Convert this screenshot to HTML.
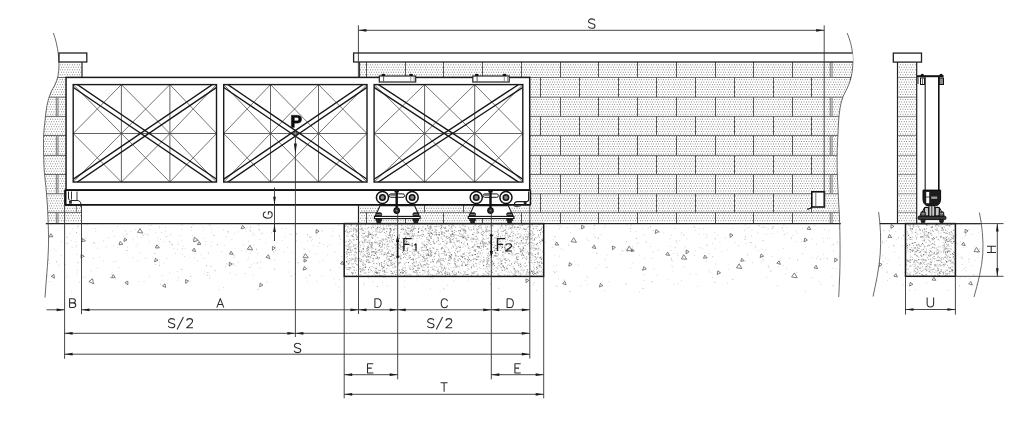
<!DOCTYPE html>
<html><head><meta charset="utf-8"><title>Sliding gate</title>
<style>
html,body{margin:0;padding:0;background:#fff;}
body{width:1025px;height:421px;overflow:hidden;font-family:"Liberation Sans",sans-serif;}
svg{display:block;}
</style></head><body>
<svg width="1025" height="421" viewBox="0 0 1025 421" role="img" aria-label="Sliding cantilever gate installation diagram with dimensions S, S/2, A, B, C, D, E, T, G, H, U and loads P, F1, F2">
<defs>
<pattern id="bk" x="0.3" y="-0.65" width="2.43" height="4.94" patternUnits="userSpaceOnUse">
<rect x="0.2" y="0.8" width="0.8" height="0.8" fill="#5a5a5a"/>
<rect x="1.42" y="3.27" width="0.8" height="0.8" fill="#5a5a5a"/>
</pattern>
<clipPath id="cpL"><path d="M53.4,33 C55.5,39 57.4,46 58.3,54 C59.2,61 59.3,68 58,76 C56.5,83 53.5,87 51,92 C47.5,100 45.8,110 45,121 C43.8,130 43.4,137 43.5,144 C43.5,152 43.7,160 44,167.5 C44.6,176 45.6,184 46.3,191 C47.2,201 47.9,211 48.1,221 C48.5,232 48.8,242 48.3,251 C47.8,262 47,272 46.3,280 C45.8,286 45.4,292 45,297.5 L82,297.5 L82,62 L59,62 Z"/></clipPath>
<clipPath id="cpW"><path d="M847.2,33 C850,40 852,47 852.6,54 C853.3,62 852.8,70 851.2,77 C849,86 845.5,91 843.1,96.5 C840.5,103 839.2,112 838.6,121 C838,135 837,148 837.1,160 C837.2,180 838.6,200 839.4,215 C840.2,235 840.4,265 839.4,282 C839.2,288 839,292 838.7,297 L359.6,297.5 L359.6,32 Z"/></clipPath><clipPath id="cpGL"><path d="M53.4,33 C55.5,39 57.4,46 58.3,54 C59.2,61 59.3,68 58,76 C56.5,83 53.5,87 51,92 C47.5,100 45.8,110 45,121 C43.8,130 43.4,137 43.5,144 C43.5,152 43.7,160 44,167.5 C44.6,176 45.6,184 46.3,191 C47.2,201 47.9,211 48.1,221 C48.5,232 48.8,242 48.3,251 C47.8,262 47,272 46.3,280 C45.8,286 45.4,292 45,297.5 L1025,297.5 L1025,32.5 Z"/></clipPath><clipPath id="cpG" clip-path="url(#cpGL)"><path d="M847.2,33 C850,40 852,47 852.6,54 C853.3,62 852.8,70 851.2,77 C849,86 845.5,91 843.1,96.5 C840.5,103 839.2,112 838.6,121 C838,135 837,148 837.1,160 C837.2,180 838.6,200 839.4,215 C840.2,235 840.4,265 839.4,282 C839.2,288 839,292 838.7,297 L0,297.5 L0,32 Z"/></clipPath>
</defs>

<rect x="0" y="0" width="1025" height="421" fill="#fff"/>
<g clip-path="url(#cpW)">
<path d="M360.273,64.814H860.00M360.273,69.762H860.00M360.273,74.710H860.00M360.273,79.658H860.00M360.273,84.606H860.00M360.273,89.554H860.00M360.273,94.502H860.00M360.273,99.450H860.00M360.273,104.398H860.00M360.273,109.346H860.00M360.273,114.294H860.00M360.273,119.242H860.00M360.273,124.190H860.00M360.273,129.138H860.00M360.273,134.086H860.00M360.273,139.034H860.00M360.273,143.982H860.00M360.273,148.930H860.00M360.273,153.878H860.00M360.273,158.826H860.00M360.273,163.774H860.00M360.273,168.722H860.00M360.273,173.670H860.00M360.273,178.618H860.00M360.273,183.566H860.00M360.273,188.514H860.00M360.273,193.462H860.00M360.273,198.410H860.00M360.273,203.358H860.00M360.273,208.306H860.00M360.273,213.254H860.00M360.273,218.202H860.00" fill="none" stroke="#222" stroke-width="0.72" stroke-dasharray="0.72 1.723"/>
<path d="M361.495,67.288H860.00M361.495,72.236H860.00M361.495,77.184H860.00M361.495,82.132H860.00M361.495,87.080H860.00M361.495,92.028H860.00M361.495,96.976H860.00M361.495,101.924H860.00M361.495,106.872H860.00M361.495,111.820H860.00M361.495,116.768H860.00M361.495,121.716H860.00M361.495,126.664H860.00M361.495,131.612H860.00M361.495,136.560H860.00M361.495,141.508H860.00M361.495,146.456H860.00M361.495,151.404H860.00M361.495,156.352H860.00M361.495,161.300H860.00M361.495,166.248H860.00M361.495,171.196H860.00M361.495,176.144H860.00M361.495,181.092H860.00M361.495,186.040H860.00M361.495,190.988H860.00M361.495,195.936H860.00M361.495,200.884H860.00M361.495,205.832H860.00M361.495,210.780H860.00M361.495,215.728H860.00M361.495,220.676H860.00" fill="none" stroke="#222" stroke-width="0.72" stroke-dasharray="0.72 1.723"/>
<line x1="359.60" y1="77.50" x2="860.00" y2="77.50" stroke="#666" stroke-width="0.95" />
<line x1="359.60" y1="97.20" x2="860.00" y2="97.20" stroke="#666" stroke-width="0.95" />
<line x1="359.60" y1="116.40" x2="860.00" y2="116.40" stroke="#666" stroke-width="0.95" />
<line x1="359.60" y1="135.50" x2="860.00" y2="135.50" stroke="#666" stroke-width="0.95" />
<line x1="359.60" y1="155.40" x2="860.00" y2="155.40" stroke="#666" stroke-width="0.95" />
<line x1="359.60" y1="174.50" x2="860.00" y2="174.50" stroke="#666" stroke-width="0.95" />
<line x1="359.60" y1="193.80" x2="860.00" y2="193.80" stroke="#666" stroke-width="0.95" />
<line x1="359.60" y1="212.40" x2="860.00" y2="212.40" stroke="#666" stroke-width="0.95" />
<line x1="366.50" y1="62.00" x2="366.50" y2="77.50" stroke="#555" stroke-width="1.0" />
<line x1="405.50" y1="62.00" x2="405.50" y2="77.50" stroke="#555" stroke-width="1.0" />
<line x1="443.50" y1="62.00" x2="443.50" y2="77.50" stroke="#555" stroke-width="1.0" />
<line x1="482.50" y1="62.00" x2="482.50" y2="77.50" stroke="#555" stroke-width="1.0" />
<line x1="521.50" y1="62.00" x2="521.50" y2="77.50" stroke="#555" stroke-width="1.0" />
<line x1="560.50" y1="62.00" x2="560.50" y2="77.50" stroke="#555" stroke-width="1.0" />
<line x1="598.50" y1="62.00" x2="598.50" y2="77.50" stroke="#555" stroke-width="1.0" />
<line x1="637.50" y1="62.00" x2="637.50" y2="77.50" stroke="#555" stroke-width="1.0" />
<line x1="676.50" y1="62.00" x2="676.50" y2="77.50" stroke="#555" stroke-width="1.0" />
<line x1="715.50" y1="62.00" x2="715.50" y2="77.50" stroke="#555" stroke-width="1.0" />
<line x1="753.50" y1="62.00" x2="753.50" y2="77.50" stroke="#555" stroke-width="1.0" />
<line x1="792.50" y1="62.00" x2="792.50" y2="77.50" stroke="#555" stroke-width="1.0" />
<line x1="830.26" y1="62.00" x2="830.26" y2="77.50" stroke="#777" stroke-width="1.0" />
<line x1="832.06" y1="62.00" x2="832.06" y2="77.50" stroke="#777" stroke-width="1.0" />
<line x1="385.50" y1="77.50" x2="385.50" y2="97.20" stroke="#555" stroke-width="1.0" />
<line x1="424.50" y1="77.50" x2="424.50" y2="97.20" stroke="#555" stroke-width="1.0" />
<line x1="463.50" y1="77.50" x2="463.50" y2="97.20" stroke="#555" stroke-width="1.0" />
<line x1="502.50" y1="77.50" x2="502.50" y2="97.20" stroke="#555" stroke-width="1.0" />
<line x1="540.50" y1="77.50" x2="540.50" y2="97.20" stroke="#555" stroke-width="1.0" />
<line x1="579.50" y1="77.50" x2="579.50" y2="97.20" stroke="#555" stroke-width="1.0" />
<line x1="618.50" y1="77.50" x2="618.50" y2="97.20" stroke="#555" stroke-width="1.0" />
<line x1="656.50" y1="77.50" x2="656.50" y2="97.20" stroke="#555" stroke-width="1.0" />
<line x1="695.50" y1="77.50" x2="695.50" y2="97.20" stroke="#555" stroke-width="1.0" />
<line x1="734.50" y1="77.50" x2="734.50" y2="97.20" stroke="#555" stroke-width="1.0" />
<line x1="773.50" y1="77.50" x2="773.50" y2="97.20" stroke="#555" stroke-width="1.0" />
<line x1="811.50" y1="77.50" x2="811.50" y2="97.20" stroke="#555" stroke-width="1.0" />
<line x1="850.50" y1="77.50" x2="850.50" y2="97.20" stroke="#555" stroke-width="1.0" />
<line x1="366.50" y1="97.20" x2="366.50" y2="116.40" stroke="#555" stroke-width="1.0" />
<line x1="405.50" y1="97.20" x2="405.50" y2="116.40" stroke="#555" stroke-width="1.0" />
<line x1="443.50" y1="97.20" x2="443.50" y2="116.40" stroke="#555" stroke-width="1.0" />
<line x1="482.50" y1="97.20" x2="482.50" y2="116.40" stroke="#555" stroke-width="1.0" />
<line x1="521.50" y1="97.20" x2="521.50" y2="116.40" stroke="#555" stroke-width="1.0" />
<line x1="560.50" y1="97.20" x2="560.50" y2="116.40" stroke="#555" stroke-width="1.0" />
<line x1="598.50" y1="97.20" x2="598.50" y2="116.40" stroke="#555" stroke-width="1.0" />
<line x1="637.50" y1="97.20" x2="637.50" y2="116.40" stroke="#555" stroke-width="1.0" />
<line x1="676.50" y1="97.20" x2="676.50" y2="116.40" stroke="#555" stroke-width="1.0" />
<line x1="715.50" y1="97.20" x2="715.50" y2="116.40" stroke="#555" stroke-width="1.0" />
<line x1="753.50" y1="97.20" x2="753.50" y2="116.40" stroke="#555" stroke-width="1.0" />
<line x1="792.50" y1="97.20" x2="792.50" y2="116.40" stroke="#555" stroke-width="1.0" />
<line x1="830.26" y1="97.20" x2="830.26" y2="116.40" stroke="#777" stroke-width="1.0" />
<line x1="832.06" y1="97.20" x2="832.06" y2="116.40" stroke="#777" stroke-width="1.0" />
<line x1="385.50" y1="116.40" x2="385.50" y2="135.50" stroke="#555" stroke-width="1.0" />
<line x1="424.50" y1="116.40" x2="424.50" y2="135.50" stroke="#555" stroke-width="1.0" />
<line x1="463.50" y1="116.40" x2="463.50" y2="135.50" stroke="#555" stroke-width="1.0" />
<line x1="502.50" y1="116.40" x2="502.50" y2="135.50" stroke="#555" stroke-width="1.0" />
<line x1="540.50" y1="116.40" x2="540.50" y2="135.50" stroke="#555" stroke-width="1.0" />
<line x1="579.50" y1="116.40" x2="579.50" y2="135.50" stroke="#555" stroke-width="1.0" />
<line x1="618.50" y1="116.40" x2="618.50" y2="135.50" stroke="#555" stroke-width="1.0" />
<line x1="656.50" y1="116.40" x2="656.50" y2="135.50" stroke="#555" stroke-width="1.0" />
<line x1="695.50" y1="116.40" x2="695.50" y2="135.50" stroke="#555" stroke-width="1.0" />
<line x1="734.50" y1="116.40" x2="734.50" y2="135.50" stroke="#555" stroke-width="1.0" />
<line x1="773.50" y1="116.40" x2="773.50" y2="135.50" stroke="#555" stroke-width="1.0" />
<line x1="811.50" y1="116.40" x2="811.50" y2="135.50" stroke="#555" stroke-width="1.0" />
<line x1="850.50" y1="116.40" x2="850.50" y2="135.50" stroke="#555" stroke-width="1.0" />
<line x1="366.50" y1="135.50" x2="366.50" y2="155.40" stroke="#555" stroke-width="1.0" />
<line x1="405.50" y1="135.50" x2="405.50" y2="155.40" stroke="#555" stroke-width="1.0" />
<line x1="443.50" y1="135.50" x2="443.50" y2="155.40" stroke="#555" stroke-width="1.0" />
<line x1="482.50" y1="135.50" x2="482.50" y2="155.40" stroke="#555" stroke-width="1.0" />
<line x1="521.50" y1="135.50" x2="521.50" y2="155.40" stroke="#555" stroke-width="1.0" />
<line x1="560.50" y1="135.50" x2="560.50" y2="155.40" stroke="#555" stroke-width="1.0" />
<line x1="598.50" y1="135.50" x2="598.50" y2="155.40" stroke="#555" stroke-width="1.0" />
<line x1="637.50" y1="135.50" x2="637.50" y2="155.40" stroke="#555" stroke-width="1.0" />
<line x1="676.50" y1="135.50" x2="676.50" y2="155.40" stroke="#555" stroke-width="1.0" />
<line x1="715.50" y1="135.50" x2="715.50" y2="155.40" stroke="#555" stroke-width="1.0" />
<line x1="753.50" y1="135.50" x2="753.50" y2="155.40" stroke="#555" stroke-width="1.0" />
<line x1="792.50" y1="135.50" x2="792.50" y2="155.40" stroke="#555" stroke-width="1.0" />
<line x1="830.26" y1="135.50" x2="830.26" y2="155.40" stroke="#777" stroke-width="1.0" />
<line x1="832.06" y1="135.50" x2="832.06" y2="155.40" stroke="#777" stroke-width="1.0" />
<line x1="385.50" y1="155.40" x2="385.50" y2="174.50" stroke="#555" stroke-width="1.0" />
<line x1="424.50" y1="155.40" x2="424.50" y2="174.50" stroke="#555" stroke-width="1.0" />
<line x1="463.50" y1="155.40" x2="463.50" y2="174.50" stroke="#555" stroke-width="1.0" />
<line x1="502.50" y1="155.40" x2="502.50" y2="174.50" stroke="#555" stroke-width="1.0" />
<line x1="540.50" y1="155.40" x2="540.50" y2="174.50" stroke="#555" stroke-width="1.0" />
<line x1="579.50" y1="155.40" x2="579.50" y2="174.50" stroke="#555" stroke-width="1.0" />
<line x1="618.50" y1="155.40" x2="618.50" y2="174.50" stroke="#555" stroke-width="1.0" />
<line x1="656.50" y1="155.40" x2="656.50" y2="174.50" stroke="#555" stroke-width="1.0" />
<line x1="695.50" y1="155.40" x2="695.50" y2="174.50" stroke="#555" stroke-width="1.0" />
<line x1="734.50" y1="155.40" x2="734.50" y2="174.50" stroke="#555" stroke-width="1.0" />
<line x1="773.50" y1="155.40" x2="773.50" y2="174.50" stroke="#555" stroke-width="1.0" />
<line x1="811.50" y1="155.40" x2="811.50" y2="174.50" stroke="#555" stroke-width="1.0" />
<line x1="850.50" y1="155.40" x2="850.50" y2="174.50" stroke="#555" stroke-width="1.0" />
<line x1="366.50" y1="174.50" x2="366.50" y2="193.80" stroke="#555" stroke-width="1.0" />
<line x1="405.50" y1="174.50" x2="405.50" y2="193.80" stroke="#555" stroke-width="1.0" />
<line x1="443.50" y1="174.50" x2="443.50" y2="193.80" stroke="#555" stroke-width="1.0" />
<line x1="482.50" y1="174.50" x2="482.50" y2="193.80" stroke="#555" stroke-width="1.0" />
<line x1="521.50" y1="174.50" x2="521.50" y2="193.80" stroke="#555" stroke-width="1.0" />
<line x1="560.50" y1="174.50" x2="560.50" y2="193.80" stroke="#555" stroke-width="1.0" />
<line x1="598.50" y1="174.50" x2="598.50" y2="193.80" stroke="#555" stroke-width="1.0" />
<line x1="637.50" y1="174.50" x2="637.50" y2="193.80" stroke="#555" stroke-width="1.0" />
<line x1="676.50" y1="174.50" x2="676.50" y2="193.80" stroke="#555" stroke-width="1.0" />
<line x1="715.50" y1="174.50" x2="715.50" y2="193.80" stroke="#555" stroke-width="1.0" />
<line x1="753.50" y1="174.50" x2="753.50" y2="193.80" stroke="#555" stroke-width="1.0" />
<line x1="792.50" y1="174.50" x2="792.50" y2="193.80" stroke="#555" stroke-width="1.0" />
<line x1="830.26" y1="174.50" x2="830.26" y2="193.80" stroke="#777" stroke-width="1.0" />
<line x1="832.06" y1="174.50" x2="832.06" y2="193.80" stroke="#777" stroke-width="1.0" />
<line x1="385.50" y1="193.80" x2="385.50" y2="212.40" stroke="#555" stroke-width="1.0" />
<line x1="424.50" y1="193.80" x2="424.50" y2="212.40" stroke="#555" stroke-width="1.0" />
<line x1="463.50" y1="193.80" x2="463.50" y2="212.40" stroke="#555" stroke-width="1.0" />
<line x1="502.50" y1="193.80" x2="502.50" y2="212.40" stroke="#555" stroke-width="1.0" />
<line x1="540.50" y1="193.80" x2="540.50" y2="212.40" stroke="#555" stroke-width="1.0" />
<line x1="579.50" y1="193.80" x2="579.50" y2="212.40" stroke="#555" stroke-width="1.0" />
<line x1="618.50" y1="193.80" x2="618.50" y2="212.40" stroke="#555" stroke-width="1.0" />
<line x1="656.50" y1="193.80" x2="656.50" y2="212.40" stroke="#555" stroke-width="1.0" />
<line x1="695.50" y1="193.80" x2="695.50" y2="212.40" stroke="#555" stroke-width="1.0" />
<line x1="734.50" y1="193.80" x2="734.50" y2="212.40" stroke="#555" stroke-width="1.0" />
<line x1="773.50" y1="193.80" x2="773.50" y2="212.40" stroke="#555" stroke-width="1.0" />
<line x1="811.50" y1="193.80" x2="811.50" y2="212.40" stroke="#555" stroke-width="1.0" />
<line x1="850.50" y1="193.80" x2="850.50" y2="212.40" stroke="#555" stroke-width="1.0" />
<line x1="366.50" y1="212.40" x2="366.50" y2="223.60" stroke="#555" stroke-width="1.0" />
<line x1="405.50" y1="212.40" x2="405.50" y2="223.60" stroke="#555" stroke-width="1.0" />
<line x1="443.50" y1="212.40" x2="443.50" y2="223.60" stroke="#555" stroke-width="1.0" />
<line x1="482.50" y1="212.40" x2="482.50" y2="223.60" stroke="#555" stroke-width="1.0" />
<line x1="521.50" y1="212.40" x2="521.50" y2="223.60" stroke="#555" stroke-width="1.0" />
<line x1="560.50" y1="212.40" x2="560.50" y2="223.60" stroke="#555" stroke-width="1.0" />
<line x1="598.50" y1="212.40" x2="598.50" y2="223.60" stroke="#555" stroke-width="1.0" />
<line x1="637.50" y1="212.40" x2="637.50" y2="223.60" stroke="#555" stroke-width="1.0" />
<line x1="676.50" y1="212.40" x2="676.50" y2="223.60" stroke="#555" stroke-width="1.0" />
<line x1="715.50" y1="212.40" x2="715.50" y2="223.60" stroke="#555" stroke-width="1.0" />
<line x1="753.50" y1="212.40" x2="753.50" y2="223.60" stroke="#555" stroke-width="1.0" />
<line x1="792.50" y1="212.40" x2="792.50" y2="223.60" stroke="#555" stroke-width="1.0" />
<line x1="830.26" y1="212.40" x2="830.26" y2="223.60" stroke="#777" stroke-width="1.0" />
<line x1="832.06" y1="212.40" x2="832.06" y2="223.60" stroke="#777" stroke-width="1.0" />
</g>
<g clip-path="url(#cpL)">
<path d="M40.240,64.814H82.00M40.240,69.762H82.00M40.240,74.710H82.00M40.240,79.658H82.00M40.240,84.606H82.00M40.240,89.554H82.00M40.240,94.502H82.00M40.240,99.450H82.00M40.240,104.398H82.00M40.240,109.346H82.00M40.240,114.294H82.00M40.240,119.242H82.00M40.240,124.190H82.00M40.240,129.138H82.00M40.240,134.086H82.00M40.240,139.034H82.00M40.240,143.982H82.00M40.240,148.930H82.00M40.240,153.878H82.00M40.240,158.826H82.00M40.240,163.774H82.00M40.240,168.722H82.00M40.240,173.670H82.00M40.240,178.618H82.00M40.240,183.566H82.00M40.240,188.514H82.00M40.240,193.462H82.00M40.240,198.410H82.00M40.240,203.358H82.00M40.240,208.306H82.00M40.240,213.254H82.00M40.240,218.202H82.00" fill="none" stroke="#222" stroke-width="0.72" stroke-dasharray="0.72 1.723"/>
<path d="M41.462,67.288H82.00M41.462,72.236H82.00M41.462,77.184H82.00M41.462,82.132H82.00M41.462,87.080H82.00M41.462,92.028H82.00M41.462,96.976H82.00M41.462,101.924H82.00M41.462,106.872H82.00M41.462,111.820H82.00M41.462,116.768H82.00M41.462,121.716H82.00M41.462,126.664H82.00M41.462,131.612H82.00M41.462,136.560H82.00M41.462,141.508H82.00M41.462,146.456H82.00M41.462,151.404H82.00M41.462,156.352H82.00M41.462,161.300H82.00M41.462,166.248H82.00M41.462,171.196H82.00M41.462,176.144H82.00M41.462,181.092H82.00M41.462,186.040H82.00M41.462,190.988H82.00M41.462,195.936H82.00M41.462,200.884H82.00M41.462,205.832H82.00M41.462,210.780H82.00M41.462,215.728H82.00M41.462,220.676H82.00" fill="none" stroke="#222" stroke-width="0.72" stroke-dasharray="0.72 1.723"/>
<line x1="40.00" y1="77.50" x2="82.00" y2="77.50" stroke="#6a6a6a" stroke-width="1.0" />
<line x1="40.00" y1="97.20" x2="82.00" y2="97.20" stroke="#6a6a6a" stroke-width="1.0" />
<line x1="40.00" y1="116.40" x2="82.00" y2="116.40" stroke="#6a6a6a" stroke-width="1.0" />
<line x1="40.00" y1="135.50" x2="82.00" y2="135.50" stroke="#6a6a6a" stroke-width="1.0" />
<line x1="40.00" y1="155.40" x2="82.00" y2="155.40" stroke="#6a6a6a" stroke-width="1.0" />
<line x1="40.00" y1="174.50" x2="82.00" y2="174.50" stroke="#6a6a6a" stroke-width="1.0" />
<line x1="40.00" y1="193.80" x2="82.00" y2="193.80" stroke="#6a6a6a" stroke-width="1.0" />
<line x1="40.00" y1="212.40" x2="82.00" y2="212.40" stroke="#6a6a6a" stroke-width="1.0" />
<line x1="56.30" y1="97.20" x2="56.30" y2="116.40" stroke="#777" stroke-width="1.0" />
<line x1="58.00" y1="97.20" x2="58.00" y2="116.40" stroke="#777" stroke-width="1.0" />
<line x1="56.30" y1="135.50" x2="56.30" y2="155.40" stroke="#777" stroke-width="1.0" />
<line x1="58.00" y1="135.50" x2="58.00" y2="155.40" stroke="#777" stroke-width="1.0" />
<line x1="56.30" y1="174.50" x2="56.30" y2="193.80" stroke="#777" stroke-width="1.0" />
<line x1="58.00" y1="174.50" x2="58.00" y2="193.80" stroke="#777" stroke-width="1.0" />
<line x1="56.30" y1="212.40" x2="56.30" y2="223.60" stroke="#777" stroke-width="1.0" />
<line x1="58.00" y1="212.40" x2="58.00" y2="223.60" stroke="#777" stroke-width="1.0" />
<line x1="76.40" y1="205.00" x2="76.40" y2="212.50" stroke="#777" stroke-width="1.0" />
</g>
<path d="M900.176,64.814H916.60M900.176,69.762H916.60M900.176,74.710H916.60M900.176,79.658H916.60M900.176,84.606H916.60M900.176,89.554H916.60M900.176,94.502H916.60M900.176,99.450H916.60M900.176,104.398H916.60M900.176,109.346H916.60M900.176,114.294H916.60M900.176,119.242H916.60M900.176,124.190H916.60M900.176,129.138H916.60M900.176,134.086H916.60M900.176,139.034H916.60M900.176,143.982H916.60M900.176,148.930H916.60M900.176,153.878H916.60M900.176,158.826H916.60M900.176,163.774H916.60M900.176,168.722H916.60M900.176,173.670H916.60M900.176,178.618H916.60M900.176,183.566H916.60M900.176,188.514H916.60M900.176,193.462H916.60M900.176,198.410H916.60M900.176,203.358H916.60M900.176,208.306H916.60M900.176,213.254H916.60M900.176,218.202H916.60" fill="none" stroke="#222" stroke-width="0.72" stroke-dasharray="0.72 1.723"/>
<path d="M898.955,67.288H916.60M898.955,72.236H916.60M898.955,77.184H916.60M898.955,82.132H916.60M898.955,87.080H916.60M898.955,92.028H916.60M898.955,96.976H916.60M898.955,101.924H916.60M898.955,106.872H916.60M898.955,111.820H916.60M898.955,116.768H916.60M898.955,121.716H916.60M898.955,126.664H916.60M898.955,131.612H916.60M898.955,136.560H916.60M898.955,141.508H916.60M898.955,146.456H916.60M898.955,151.404H916.60M898.955,156.352H916.60M898.955,161.300H916.60M898.955,166.248H916.60M898.955,171.196H916.60M898.955,176.144H916.60M898.955,181.092H916.60M898.955,186.040H916.60M898.955,190.988H916.60M898.955,195.936H916.60M898.955,200.884H916.60M898.955,205.832H916.60M898.955,210.780H916.60M898.955,215.728H916.60M898.955,220.676H916.60" fill="none" stroke="#222" stroke-width="0.72" stroke-dasharray="0.72 1.723"/>
<line x1="897.50" y1="77.50" x2="916.70" y2="77.50" stroke="#8a8a8a" stroke-width="0.9" />
<line x1="897.50" y1="97.20" x2="916.70" y2="97.20" stroke="#8a8a8a" stroke-width="0.9" />
<line x1="897.50" y1="116.40" x2="916.70" y2="116.40" stroke="#8a8a8a" stroke-width="0.9" />
<line x1="897.50" y1="135.50" x2="916.70" y2="135.50" stroke="#8a8a8a" stroke-width="0.9" />
<line x1="897.50" y1="155.40" x2="916.70" y2="155.40" stroke="#8a8a8a" stroke-width="0.9" />
<line x1="897.50" y1="174.50" x2="916.70" y2="174.50" stroke="#8a8a8a" stroke-width="0.9" />
<line x1="897.50" y1="193.80" x2="916.70" y2="193.80" stroke="#8a8a8a" stroke-width="0.9" />
<line x1="897.50" y1="212.40" x2="916.70" y2="212.40" stroke="#8a8a8a" stroke-width="0.9" />
<line x1="897.50" y1="62.00" x2="897.50" y2="223.60" stroke="#222" stroke-width="1.2" />
<line x1="916.70" y1="62.00" x2="916.70" y2="223.60" stroke="#222" stroke-width="1.2" />
<g clip-path="url(#cpG)">
<path d="M102.8,260.7h0.9M396.1,229.3h0.9M225.3,266.9h0.9M161.1,232.5h0.9M706.7,236.8h0.9M562.8,249.7h0.9M95.0,228.6h0.9M519.5,255.1h0.9M510.4,260.0h0.9M636.3,244.0h0.9M139.9,252.8h0.9M586.6,276.1h0.9M754.9,245.7h0.9M526.6,263.7h0.9M583.3,228.7h0.9M275.1,250.6h0.9M139.1,228.6h0.9M149.0,241.3h0.9M751.6,230.0h0.9M745.6,243.4h0.9M335.3,284.2h0.9M166.5,236.5h0.9M233.5,257.3h0.9M257.4,224.9h0.9M604.7,259.3h0.9M593.1,228.2h0.9M677.3,283.5h0.9M559.0,228.8h0.9M86.7,224.6h0.9M248.8,248.0h0.9M143.7,281.8h0.9M127.0,247.7h0.9M717.0,235.5h0.9M485.1,226.4h0.9M838.5,282.8h0.9M670.8,260.5h0.9M311.7,239.6h0.9M843.8,282.1h0.9M804.9,291.2h0.9M340.1,239.5h0.9M203.7,238.4h0.9M580.4,285.9h0.9M684.8,247.0h0.9M833.0,251.3h0.9M698.9,234.5h0.9M840.0,268.9h0.9M489.5,233.4h0.9M832.4,268.4h0.9M802.1,253.8h0.9M281.9,240.8h0.9M782.9,248.4h0.9M789.2,258.4h0.9M192.7,224.9h0.9M183.9,256.5h0.9M495.9,246.6h0.9M499.0,241.3h0.9M541.4,258.7h0.9M606.5,255.1h0.9M155.4,232.8h0.9M102.9,240.8h0.9M587.6,277.4h0.9M169.4,272.9h0.9M160.1,284.1h0.9M439.7,291.3h0.9M175.1,253.7h0.9M319.4,237.8h0.9M630.4,225.9h0.9M401.7,225.8h0.9M843.9,277.7h0.9M676.5,242.8h0.9M386.9,286.0h0.9M254.0,234.7h0.9M90.7,271.0h0.9M694.9,230.2h0.9M319.4,261.9h0.9M237.6,232.0h0.9M84.9,238.2h0.9M450.1,236.6h0.9M709.0,253.7h0.9M721.7,251.1h0.9M719.8,272.2h0.9M149.4,229.4h0.9M251.5,235.6h0.9M727.1,283.3h0.9M272.9,240.9h0.9M417.1,235.2h0.9M488.2,241.1h0.9M353.9,256.6h0.9M258.5,230.6h0.9M233.0,264.1h0.9M653.4,268.9h0.9M757.8,250.9h0.9M843.6,234.7h0.9M566.3,227.6h0.9M703.5,234.0h0.9M453.5,280.9h0.9M715.0,264.0h0.9M69.3,233.6h0.9M553.7,266.8h0.9M441.3,224.8h0.9M651.6,258.5h0.9M579.4,229.1h0.9M248.8,229.6h0.9M836.3,257.9h0.9M433.0,270.7h0.9M163.7,241.7h0.9M463.4,255.9h0.9M416.7,279.9h0.9M811.8,238.8h0.9M159.1,259.9h0.9M289.2,234.1h0.9M796.2,272.7h0.9M279.3,249.7h0.9M803.7,241.4h0.9M458.9,237.4h0.9M820.4,284.2h0.9M638.7,255.0h0.9M796.5,233.2h0.9M323.1,244.7h0.9M288.3,262.2h0.9M179.9,235.5h0.9M779.6,258.1h0.9M157.4,237.6h0.9M253.8,263.0h0.9M652.7,252.4h0.9M469.6,250.0h0.9M94.4,243.3h0.9M146.2,258.5h0.9M245.7,251.5h0.9M818.6,281.8h0.9M61.7,226.8h0.9M771.3,256.5h0.9M44.1,251.0h0.9M245.8,231.9h0.9M468.2,270.6h0.9M630.0,268.2h0.9M679.2,240.3h0.9M248.5,267.5h0.9M135.1,229.3h0.9M517.3,250.8h0.9M532.1,225.3h0.9M293.6,226.1h0.9M591.7,252.9h0.9M71.7,247.4h0.9M644.2,258.6h0.9M831.5,245.6h0.9M231.4,239.5h0.9M196.1,239.7h0.9M363.5,239.0h0.9M159.2,228.1h0.9M363.4,285.1h0.9M639.0,291.8h0.9M311.3,237.1h0.9M351.4,249.8h0.9M181.4,224.8h0.9M827.0,238.6h0.9M790.6,237.6h0.9M772.4,226.6h0.9M72.3,228.8h0.9M252.7,275.0h0.9M545.0,242.3h0.9M809.9,226.2h0.9M429.9,289.1h0.9M695.7,274.4h0.9M671.5,265.5h0.9M303.5,249.0h0.9M108.2,237.9h0.9M492.7,246.6h0.9M112.3,231.1h0.9M620.3,254.7h0.9M382.5,266.4h0.9M504.3,249.7h0.9M205.7,241.3h0.9M309.0,251.3h0.9M429.5,279.8h0.9M786.5,227.3h0.9M140.8,237.4h0.9M343.4,234.1h0.9M251.0,265.0h0.9M209.2,225.4h0.9M209.2,278.2h0.9M95.4,231.4h0.9M176.9,271.5h0.9M274.0,245.3h0.9M382.2,282.9h0.9M339.4,237.9h0.9M209.4,225.0h0.9M782.8,230.6h0.9M274.0,259.7h0.9M132.3,257.7h0.9M829.1,237.9h0.9M778.2,266.4h0.9M372.4,281.6h0.9M192.6,239.3h0.9M244.6,273.5h0.9M77.4,262.5h0.9M530.8,261.7h0.9M292.6,252.9h0.9M399.9,226.2h0.9M441.5,240.5h0.9M677.3,255.5h0.9M428.3,231.8h0.9M393.6,230.8h0.9M110.8,274.0h0.9M459.3,228.3h0.9M705.8,237.7h0.9M178.1,277.7h0.9M97.2,248.3h0.9M706.3,234.3h0.9M791.0,238.6h0.9M191.9,235.5h0.9M681.3,232.4h0.9M560.7,248.8h0.9M494.8,263.7h0.9M848.3,263.5h0.9M664.9,254.4h0.9M647.8,227.9h0.9M250.0,267.7h0.9M45.5,226.9h0.9M544.2,253.7h0.9M771.2,233.5h0.9M574.3,226.1h0.9M332.2,231.8h0.9M209.8,266.7h0.9M165.2,231.1h0.9M258.6,225.4h0.9M404.3,287.8h0.9M475.6,252.0h0.9M766.2,277.4h0.9M49.2,281.5h0.9M421.8,274.6h0.9M75.5,247.2h0.9M608.4,281.6h0.9M260.0,261.9h0.9M684.2,259.9h0.9M235.7,274.7h0.9M649.9,246.6h0.9M310.8,240.7h0.9M556.1,271.3h0.9M839.0,256.2h0.9M632.4,263.0h0.9M783.6,234.3h0.9M159.2,226.5h0.9M642.3,229.0h0.9M339.1,279.7h0.9M767.7,229.0h0.9M211.0,232.1h0.9M125.1,231.2h0.9M210.5,246.1h0.9M61.0,241.9h0.9M625.2,249.4h0.9M546.0,226.7h0.9M744.1,230.7h0.9M182.3,224.7h0.9M442.5,257.7h0.9M193.8,257.9h0.9M719.5,242.2h0.9M274.4,239.1h0.9M448.6,232.0h0.9M683.0,266.9h0.9M369.8,251.2h0.9M211.4,242.3h0.9M451.0,250.2h0.9M656.6,275.4h0.9M327.0,246.6h0.9M728.6,269.2h0.9M181.7,254.2h0.9M514.3,233.1h0.9M288.8,272.0h0.9M169.5,235.1h0.9M310.4,237.4h0.9M635.7,231.5h0.9M689.4,274.0h0.9M368.0,277.9h0.9M450.4,267.2h0.9M229.6,273.3h0.9M672.5,271.8h0.9M595.8,267.8h0.9M384.7,277.3h0.9M555.2,241.5h0.9M413.6,266.5h0.9M485.2,235.4h0.9M510.5,261.1h0.9M459.9,267.7h0.9M467.6,252.3h0.9M663.3,232.8h0.9M332.6,228.4h0.9M368.5,225.5h0.9M259.3,239.7h0.9M694.8,251.0h0.9M149.0,276.9h0.9M559.1,256.2h0.9M562.7,279.8h0.9M734.7,242.6h0.9M249.9,253.3h0.9M242.9,244.9h0.9M338.3,287.2h0.9M90.3,280.4h0.9M680.6,234.1h0.9M558.1,225.6h0.9M674.4,248.0h0.9M767.6,265.6h0.9M586.8,284.8h0.9M725.1,237.9h0.9M760.7,262.0h0.9M234.2,234.0h0.9M443.0,258.2h0.9M744.7,225.0h0.9M726.5,249.9h0.9M824.0,229.7h0.9M560.5,226.5h0.9M841.2,259.0h0.9M551.7,247.4h0.9M341.3,256.6h0.9M669.7,238.8h0.9M387.0,261.9h0.9M835.7,268.7h0.9M312.7,246.0h0.9M520.2,267.4h0.9M76.5,273.3h0.9M486.9,227.9h0.9M538.3,269.0h0.9M782.8,265.8h0.9M553.0,271.5h0.9M597.0,238.9h0.9M786.2,268.8h0.9M712.0,277.6h0.9M253.5,245.0h0.9M302.6,253.6h0.9M802.3,228.3h0.9M55.5,250.7h0.9M378.9,231.5h0.9M828.7,230.5h0.9M148.7,225.8h0.9M84.7,276.8h0.9M801.1,241.7h0.9M626.4,225.4h0.9M593.6,234.4h0.9M339.0,268.1h0.9M383.4,250.6h0.9M811.3,277.5h0.9M281.4,228.7h0.9M535.9,290.5h0.9M532.1,245.4h0.9M765.2,250.0h0.9M532.6,285.0h0.9M274.0,224.7h0.9M764.6,227.5h0.9M266.4,282.0h0.9M113.1,261.9h0.9M234.0,265.5h0.9M421.8,238.5h0.9M115.2,279.0h0.9M233.1,263.7h0.9M522.5,237.3h0.9M502.3,251.7h0.9M165.0,227.6h0.9M347.7,231.8h0.9M71.3,291.4h0.9M438.9,262.8h0.9M676.7,253.3h0.9M667.0,279.8h0.9M190.8,230.2h0.9M822.9,241.9h0.9M75.4,241.8h0.9M777.0,285.6h0.9M82.2,277.6h0.9M161.6,275.5h0.9M593.6,244.7h0.9M659.4,231.7h0.9M252.7,233.0h0.9M180.9,240.7h0.9M202.4,227.0h0.9M223.1,287.6h0.9M765.6,234.0h0.9M122.8,287.2h0.9M554.2,255.1h0.9M159.9,239.5h0.9M751.0,242.6h0.9M170.4,242.9h0.9M315.6,235.9h0.9M838.6,228.4h0.9M586.6,238.8h0.9M276.4,242.0h0.9M339.8,291.4h0.9M795.2,231.2h0.9M699.3,247.6h0.9M194.9,253.9h0.9M203.7,229.9h0.9M538.1,258.0h0.9M211.3,265.9h0.9M316.2,281.3h0.9M444.3,225.6h0.9M176.8,249.6h0.9M462.7,232.7h0.9M621.5,250.3h0.9M93.7,283.4h0.9M445.8,259.2h0.9M225.6,236.9h0.9M58.4,265.0h0.9M143.9,257.9h0.9M271.1,232.8h0.9M155.2,264.5h0.9M163.5,263.2h0.9M177.4,280.3h0.9M470.8,251.3h0.9M674.8,247.4h0.9M316.1,254.0h0.9M697.2,286.1h0.9M732.3,228.2h0.9M386.8,267.2h0.9M475.0,229.3h0.9M453.9,226.0h0.9M831.4,276.9h0.9M558.2,279.1h0.9M247.5,259.7h0.9M816.1,244.0h0.9M569.8,232.7h0.9M144.6,233.5h0.9M374.1,244.0h0.9M115.3,261.4h0.9M539.3,263.0h0.9M489.0,265.9h0.9M296.1,240.9h0.9M460.1,250.4h0.9M53.6,248.4h0.9M237.7,262.1h0.9M671.0,235.3h0.9M359.0,254.2h0.9M132.7,239.8h0.9M643.8,235.0h0.9M643.9,274.7h0.9M429.9,277.5h0.9M786.7,233.2h0.9M47.5,276.2h0.9M383.3,277.4h0.9M537.2,250.2h0.9M361.2,262.0h0.9M305.5,277.6h0.9M290.9,234.4h0.9M516.2,230.5h0.9M307.0,281.4h0.9M822.5,238.4h0.9M783.4,225.3h0.9M672.1,260.9h0.9M464.2,259.5h0.9M360.3,248.7h0.9M470.5,231.3h0.9M401.4,266.7h0.9M322.7,260.3h0.9M182.6,246.0h0.9M171.0,244.1h0.9M454.0,237.3h0.9M555.6,265.3h0.9M604.8,224.9h0.9M727.8,264.1h0.9M203.7,258.2h0.9M260.0,268.2h0.9M853.7,263.3h0.9M130.6,231.3h0.9M468.3,280.1h0.9M699.0,228.8h0.9M669.7,246.4h0.9M331.3,236.0h0.9M327.3,254.9h0.9M823.2,254.2h0.9M246.5,227.6h0.9M738.0,245.8h0.9M823.5,258.0h0.9M241.3,250.9h0.9M223.8,245.4h0.9M184.9,248.8h0.9M137.3,260.6h0.9M371.4,229.0h0.9M714.6,248.3h0.9M199.3,243.7h0.9M404.0,281.0h0.9M173.3,248.4h0.9M816.2,258.6h0.9M342.8,241.2h0.9M460.6,261.2h0.9M670.7,250.5h0.9M113.9,236.5h0.9M500.3,249.0h0.9M285.1,229.0h0.9M227.9,233.1h0.9M673.3,284.1h0.9M379.0,269.0h0.9M785.1,274.1h0.9M76.8,227.3h0.9M204.8,245.0h0.9M75.9,245.6h0.9M189.9,281.2h0.9M78.9,282.2h0.9M82.4,241.1h0.9M686.6,238.8h0.9M363.6,275.0h0.9M272.3,230.7h0.9M643.8,280.5h0.9M411.7,228.3h0.9M485.7,241.4h0.9M334.6,252.3h0.9M588.3,240.6h0.9M462.5,254.6h0.9M329.4,244.8h0.9M159.2,262.6h0.9M706.1,261.6h0.9M418.5,276.2h0.9M137.0,244.1h0.9M211.6,228.7h0.9M204.1,271.9h0.9M135.7,246.5h0.9M112.2,272.9h0.9M501.7,231.9h0.9M396.6,237.4h0.9M248.1,241.2h0.9M66.5,276.8h0.9M284.6,237.1h0.9M681.1,280.6h0.9M304.0,249.4h0.9M77.5,262.8h0.9M709.6,272.2h0.9M811.3,257.9h0.9M76.4,254.2h0.9M631.0,224.8h0.9M386.0,247.4h0.9M584.9,280.3h0.9M177.5,244.5h0.9M501.5,248.1h0.9M113.1,246.4h0.9M702.7,228.6h0.9M538.6,244.6h0.9M817.7,257.0h0.9M287.0,247.7h0.9M407.2,230.3h0.9M346.1,263.7h0.9M474.3,262.7h0.9M136.8,236.8h0.9M489.1,232.2h0.9M248.3,257.6h0.9M375.3,229.6h0.9M745.1,261.7h0.9M629.9,231.5h0.9M362.3,236.1h0.9M674.2,228.5h0.9M346.3,225.6h0.9M752.2,262.5h0.9M751.1,235.9h0.9M321.2,276.1h0.9M714.4,232.9h0.9M200.8,254.7h0.9M516.1,232.3h0.9M494.0,244.1h0.9M353.2,234.3h0.9M481.2,271.1h0.9M814.4,225.5h0.9M166.6,258.4h0.9M708.5,270.4h0.9M430.3,235.3h0.9M363.5,283.4h0.9M105.6,246.8h0.9M512.6,250.7h0.9M48.9,263.6h0.9M60.7,255.6h0.9M80.8,234.4h0.9M265.4,243.0h0.9M499.2,276.6h0.9M672.7,267.3h0.9M338.7,243.6h0.9M457.2,267.4h0.9M317.8,246.4h0.9M435.0,249.4h0.9M234.7,248.1h0.9M405.8,262.9h0.9M181.2,229.1h0.9M294.5,273.6h0.9M805.2,247.5h0.9M517.7,230.0h0.9M672.8,253.5h0.9M99.0,257.3h0.9M177.6,242.7h0.9M221.3,251.5h0.9M203.7,274.1h0.9M532.0,229.9h0.9M754.9,247.6h0.9M196.8,260.8h0.9M552.6,247.1h0.9M529.5,241.9h0.9M632.0,246.8h0.9M170.8,234.2h0.9M481.4,264.3h0.9M577.8,265.1h0.9M269.9,259.9h0.9M151.1,225.2h0.9M117.0,226.5h0.9M92.9,258.4h0.9M165.2,236.6h0.9M792.2,235.5h0.9M449.1,267.5h0.9M694.0,255.6h0.9M777.6,231.9h0.9M97.1,268.1h0.9M745.6,228.6h0.9M553.2,239.7h0.9M257.0,253.8h0.9M209.0,275.8h0.9M506.5,235.2h0.9M712.1,243.6h0.9M598.4,264.9h0.9M761.5,248.9h0.9M784.2,234.8h0.9M123.2,236.0h0.9M117.3,247.5h0.9M70.7,240.4h0.9M603.8,227.2h0.9M757.4,232.7h0.9M600.5,234.6h0.9M450.6,232.2h0.9M218.7,289.8h0.9M637.9,243.0h0.9M457.1,252.1h0.9M338.4,225.3h0.9M574.3,261.3h0.9M604.5,290.8h0.9M626.8,251.5h0.9M357.0,252.2h0.9M854.7,225.0h0.9M796.1,241.8h0.9M350.1,240.8h0.9M138.3,281.4h0.9M307.4,268.2h0.9M541.4,242.5h0.9M428.3,273.2h0.9M431.0,239.5h0.9M564.1,280.4h0.9M748.6,227.5h0.9M333.6,278.7h0.9M411.7,230.5h0.9M853.5,271.4h0.9M432.4,278.4h0.9M307.1,240.9h0.9M118.2,267.5h0.9M403.3,249.3h0.9M283.7,252.1h0.9M702.4,248.3h0.9M657.9,250.2h0.9M447.2,285.3h0.9M64.8,264.6h0.9M442.9,259.1h0.9M77.0,270.4h0.9M223.2,229.8h0.9" stroke="#cfcfcf" stroke-width="0.9" fill="none"/>
<path d="M307.0,234.8h0.9M512.6,251.3h0.9M596.5,253.4h0.9M569.5,291.5h0.9M490.1,284.1h0.9M343.8,262.8h0.9M213.5,235.5h0.9M256.0,249.3h0.9M66.7,243.4h0.9M147.2,234.8h0.9M714.8,238.8h0.9M469.1,225.9h0.9M671.1,258.8h0.9M498.3,288.2h0.9M261.5,233.3h0.9M257.8,289.4h0.9M77.8,226.1h0.9M768.3,266.9h0.9M636.2,238.4h0.9M93.3,242.7h0.9M409.0,242.7h0.9M46.9,257.7h0.9M855.0,264.3h0.9M556.3,286.2h0.9M836.8,242.1h0.9M321.7,230.7h0.9M744.6,239.2h0.9M714.4,282.3h0.9M568.2,245.1h0.9M761.6,256.6h0.9M598.2,238.0h0.9M650.0,226.7h0.9M84.0,256.5h0.9M319.3,243.0h0.9M357.9,241.5h0.9M244.8,229.0h0.9M651.4,281.7h0.9M455.9,240.2h0.9M747.3,254.9h0.9M594.8,237.1h0.9M297.6,262.8h0.9M56.0,261.8h0.9M464.5,250.5h0.9M389.7,269.0h0.9M458.3,227.3h0.9M443.4,289.1h0.9M226.1,263.9h0.9M500.6,248.2h0.9M206.0,265.6h0.9M227.5,231.7h0.9M758.6,225.6h0.9M606.4,267.3h0.9M732.3,279.3h0.9M826.8,258.6h0.9M109.7,277.7h0.9M233.7,255.7h0.9M762.7,240.6h0.9M126.5,250.5h0.9M159.2,265.3h0.9M214.6,270.7h0.9M424.1,244.4h0.9M391.9,267.6h0.9M126.4,234.2h0.9M424.0,262.5h0.9M772.8,226.9h0.9M453.0,242.9h0.9M49.0,237.4h0.9M191.2,227.1h0.9M76.0,232.6h0.9M554.4,272.4h0.9M342.5,263.4h0.9M387.1,264.1h0.9M206.7,275.2h0.9M762.7,259.8h0.9M683.3,235.1h0.9M250.2,227.2h0.9M594.2,225.5h0.9M712.3,256.8h0.9M771.7,228.5h0.9M190.3,276.5h0.9M630.0,228.3h0.9M47.8,259.6h0.9M480.3,226.0h0.9M359.7,252.9h0.9M762.3,226.9h0.9M820.3,259.2h0.9M207.4,272.5h0.9M330.2,270.1h0.9M449.6,254.5h0.9M502.7,258.1h0.9M369.5,262.4h0.9M770.3,271.1h0.9M142.7,235.2h0.9M706.5,245.1h0.9M832.9,244.2h0.9M411.6,233.4h0.9M505.0,245.5h0.9M273.3,251.8h0.9M554.6,236.8h0.9M625.9,241.8h0.9M652.6,230.4h0.9M391.8,259.1h0.9M296.2,233.8h0.9M181.4,269.5h0.9M338.7,235.9h0.9M309.3,237.0h0.9M171.9,244.8h0.9M274.0,269.2h0.9M832.7,285.8h0.9M66.6,237.3h0.9M249.8,231.0h0.9M658.6,232.3h0.9M217.1,244.8h0.9M642.6,288.5h0.9M694.0,227.0h0.9M181.8,248.9h0.9M256.8,262.9h0.9M290.8,276.0h0.9M533.6,282.8h0.9M309.3,275.1h0.9M845.9,228.4h0.9M645.8,242.0h0.9M847.5,240.0h0.9M675.8,241.0h0.9M376.9,286.5h0.9M749.8,242.6h0.9M745.0,236.9h0.9M625.7,284.0h0.9M154.3,253.5h0.9M258.9,229.2h0.9M781.7,227.9h0.9M622.3,251.1h0.9M797.0,260.2h0.9M168.9,241.5h0.9M466.8,240.6h0.9M207.8,253.1h0.9" stroke="#999" stroke-width="0.8" fill="none"/>
<polygon points="53.0,236.8 49.3,236.6 50.9,233.7" fill="none" stroke="#555" stroke-width="0.75"/>
<polygon points="54.4,278.2 51.2,276.3 54.0,274.5" fill="none" stroke="#555" stroke-width="0.75"/>
<polygon points="85.5,240.8 81.8,241.7 82.5,238.5" fill="none" stroke="#555" stroke-width="0.75"/>
<polygon points="81.1,258.4 81.0,254.6 84.0,256.0" fill="none" stroke="#555" stroke-width="0.75"/>
<polygon points="93.6,283.8 88.9,281.6 92.5,278.7" fill="none" stroke="#555" stroke-width="0.75"/>
<polygon points="111.5,277.9 113.2,274.6 115.2,277.3" fill="none" stroke="#555" stroke-width="0.75"/>
<polygon points="122.9,244.2 119.0,244.8 120.0,241.4" fill="none" stroke="#555" stroke-width="0.75"/>
<polygon points="123.9,241.5 124.5,238.1 127.0,239.9" fill="none" stroke="#555" stroke-width="0.75"/>
<polygon points="127.9,284.8 124.9,282.6 127.8,281.1" fill="none" stroke="#555" stroke-width="0.75"/>
<polygon points="142.6,233.1 137.5,232.3 140.1,228.6" fill="none" stroke="#555" stroke-width="0.75"/>
<polygon points="159.4,247.8 155.5,248.0 156.8,244.8" fill="none" stroke="#555" stroke-width="0.75"/>
<polygon points="154.5,261.8 155.5,258.2 158.0,260.4" fill="none" stroke="#555" stroke-width="0.75"/>
<polygon points="165.7,287.4 162.5,285.9 165.0,283.9" fill="none" stroke="#555" stroke-width="0.75"/>
<polygon points="185.7,283.4 185.6,279.6 188.6,281.0" fill="none" stroke="#555" stroke-width="0.75"/>
<polygon points="195.7,251.5 192.1,250.7 194.2,248.1" fill="none" stroke="#555" stroke-width="0.75"/>
<polygon points="198.4,240.4 193.5,241.7 194.4,237.2" fill="none" stroke="#555" stroke-width="0.75"/>
<polygon points="197.3,244.6 199.2,241.6 200.8,244.3" fill="none" stroke="#555" stroke-width="0.75"/>
<polygon points="233.2,254.3 229.5,254.1 231.1,251.2" fill="none" stroke="#555" stroke-width="0.75"/>
<polygon points="229.2,266.1 229.4,262.3 232.3,264.0" fill="none" stroke="#555" stroke-width="0.75"/>
<polygon points="241.1,228.8 242.5,225.3 244.7,227.8" fill="none" stroke="#555" stroke-width="0.75"/>
<polygon points="252.6,250.0 247.3,249.3 250.0,245.3" fill="none" stroke="#555" stroke-width="0.75"/>
<polygon points="259.6,286.8 260.2,283.1 262.9,285.1" fill="none" stroke="#555" stroke-width="0.75"/>
<polygon points="269.7,258.6 265.9,257.3 268.5,254.8" fill="none" stroke="#555" stroke-width="0.75"/>
<polygon points="272.5,250.3 272.4,246.5 275.4,247.9" fill="none" stroke="#555" stroke-width="0.75"/>
<polygon points="308.3,257.8 303.1,257.6 305.3,253.6" fill="none" stroke="#555" stroke-width="0.75"/>
<polygon points="306.9,260.6 304.0,262.1 304.0,259.1" fill="none" stroke="#555" stroke-width="0.75"/>
<polygon points="303.0,270.0 304.4,266.5 306.6,269.0" fill="none" stroke="#555" stroke-width="0.75"/>
<polygon points="316.0,233.3 316.2,229.5 319.1,231.2" fill="none" stroke="#555" stroke-width="0.75"/>
<polygon points="344.2,264.5 340.5,263.9 342.3,261.2" fill="none" stroke="#555" stroke-width="0.75"/>
<polygon points="526.0,282.7 525.9,278.9 528.9,280.3" fill="none" stroke="#555" stroke-width="0.75"/>
<polygon points="558.7,245.1 555.0,244.9 556.6,242.0" fill="none" stroke="#555" stroke-width="0.75"/>
<polygon points="576.4,242.4 571.1,241.7 573.8,237.7" fill="none" stroke="#555" stroke-width="0.75"/>
<polygon points="581.5,229.0 581.7,225.2 584.6,226.9" fill="none" stroke="#555" stroke-width="0.75"/>
<polygon points="595.8,248.5 592.2,247.7 594.3,245.1" fill="none" stroke="#555" stroke-width="0.75"/>
<polygon points="612.5,249.8 612.4,246.0 615.4,247.4" fill="none" stroke="#555" stroke-width="0.75"/>
<polygon points="632.4,250.8 626.7,250.6 629.1,246.2" fill="none" stroke="#555" stroke-width="0.75"/>
<polygon points="634.3,250.8 631.4,251.6 631.9,248.9" fill="none" stroke="#555" stroke-width="0.75"/>
<polygon points="655.2,233.5 655.9,229.5 658.7,231.6" fill="none" stroke="#555" stroke-width="0.75"/>
<polygon points="669.6,255.5 665.9,254.9 667.7,252.2" fill="none" stroke="#555" stroke-width="0.75"/>
<polygon points="686.8,259.2 681.4,258.9 683.7,254.7" fill="none" stroke="#555" stroke-width="0.75"/>
<polygon points="686.0,253.8 686.2,250.0 689.1,251.7" fill="none" stroke="#555" stroke-width="0.75"/>
<polygon points="707.2,257.9 703.5,258.2 704.8,255.1" fill="none" stroke="#555" stroke-width="0.75"/>
<polygon points="730.1,237.5 730.0,233.7 733.0,235.1" fill="none" stroke="#555" stroke-width="0.75"/>
<polygon points="741.8,268.5 736.5,267.8 739.2,263.8" fill="none" stroke="#555" stroke-width="0.75"/>
<polygon points="744.2,260.8 740.8,261.3 741.7,258.3" fill="none" stroke="#555" stroke-width="0.75"/>
<polygon points="760.1,257.5 761.1,253.9 763.6,256.1" fill="none" stroke="#555" stroke-width="0.75"/>
<polygon points="780.4,264.4 776.8,263.2 779.2,260.9" fill="none" stroke="#555" stroke-width="0.75"/>
<polygon points="568.8,266.2 569.4,262.5 572.1,264.5" fill="none" stroke="#555" stroke-width="0.75"/>
<polygon points="642.5,270.2 644.0,266.5 646.3,269.1" fill="none" stroke="#555" stroke-width="0.75"/>
<polygon points="717.2,274.5 717.8,270.8 720.5,272.8" fill="none" stroke="#555" stroke-width="0.75"/>
<polygon points="566.1,284.8 562.5,283.6 564.9,281.3" fill="none" stroke="#555" stroke-width="0.75"/>
<polygon points="599.4,287.0 600.4,283.4 602.9,285.6" fill="none" stroke="#555" stroke-width="0.75"/>
<polygon points="810.9,229.5 807.2,229.3 808.8,226.4" fill="none" stroke="#555" stroke-width="0.75"/>
<polygon points="804.1,241.8 804.7,238.1 807.4,240.1" fill="none" stroke="#555" stroke-width="0.75"/>
<polygon points="817.6,268.7 814.0,267.9 816.1,265.3" fill="none" stroke="#555" stroke-width="0.75"/>
<polygon points="797.2,277.8 791.6,277.0 794.4,272.9" fill="none" stroke="#555" stroke-width="0.75"/>
<polygon points="834.6,262.0 834.8,258.2 837.7,259.9" fill="none" stroke="#555" stroke-width="0.75"/>
</g>
<clipPath id="cpSL"><path d="M878.6,212 C880.5,225 881.2,240 880.2,254 C879.2,268 876,283 873,296.5 L1025,297 L1025,212 Z"/></clipPath><clipPath id="cpS" clip-path="url(#cpSL)"><path d="M979.4,212.5 C982,225 983.6,240 982.8,254 C981.8,268 978,283 974,297 L974,297 L860,297 L860,212 Z"/></clipPath>
<g clip-path="url(#cpS)">
<path d="M935.2,228.3h0.9M949.4,252.8h0.9M983.8,279.7h0.9M888.3,247.1h0.9M901.4,245.7h0.9M968.2,262.1h0.9M919.1,228.0h0.9M969.1,278.7h0.9M900.8,238.2h0.9M926.8,263.9h0.9M961.8,238.1h0.9M934.3,228.0h0.9M931.7,252.2h0.9M908.2,243.0h0.9M938.3,255.2h0.9M968.6,229.4h0.9M947.6,244.5h0.9M965.9,234.4h0.9M895.2,231.4h0.9M945.8,242.0h0.9M949.9,227.4h0.9M904.9,240.3h0.9M974.1,246.5h0.9M889.0,278.5h0.9M943.8,239.7h0.9M882.5,255.9h0.9M964.8,232.8h0.9M926.3,282.8h0.9M932.6,230.6h0.9M902.4,284.8h0.9M909.3,254.9h0.9M955.1,236.7h0.9M905.4,229.3h0.9M882.7,261.8h0.9M929.5,231.2h0.9M886.8,263.6h0.9M885.1,258.0h0.9M932.0,258.8h0.9M894.1,251.8h0.9M886.2,240.8h0.9M977.7,257.5h0.9M956.0,235.0h0.9M875.5,251.1h0.9M899.5,265.0h0.9M876.6,266.3h0.9M963.2,247.7h0.9M881.9,241.1h0.9M948.0,234.8h0.9M887.7,238.0h0.9M909.1,290.4h0.9M960.7,256.9h0.9M943.3,238.0h0.9M952.4,248.1h0.9M980.2,269.9h0.9M887.1,280.4h0.9M961.8,264.4h0.9M964.4,277.5h0.9M977.9,232.4h0.9M960.2,241.6h0.9M898.5,257.8h0.9M959.8,278.1h0.9M881.8,268.6h0.9M960.8,224.9h0.9M873.8,232.1h0.9M918.9,265.4h0.9M909.6,239.0h0.9M921.5,269.2h0.9M964.2,237.0h0.9M979.3,249.0h0.9M971.7,265.7h0.9M965.0,235.5h0.9M872.0,236.4h0.9M911.5,231.4h0.9M976.0,284.8h0.9M880.5,266.7h0.9M979.3,249.0h0.9M942.8,249.9h0.9M965.5,270.7h0.9M922.1,275.2h0.9M908.4,233.8h0.9M971.8,234.3h0.9M957.4,244.2h0.9M962.1,270.2h0.9M979.9,272.4h0.9M887.7,259.4h0.9M906.9,228.2h0.9M914.9,289.8h0.9M894.1,246.2h0.9M884.1,242.1h0.9M965.8,267.5h0.9M924.7,262.3h0.9M956.3,243.2h0.9M974.8,260.3h0.9M942.6,242.1h0.9M876.6,280.3h0.9M899.3,229.3h0.9M956.4,270.3h0.9M962.5,232.1h0.9M930.4,269.7h0.9M918.3,258.4h0.9M936.3,243.1h0.9M947.2,275.4h0.9M972.6,285.2h0.9M963.9,268.3h0.9M940.6,243.1h0.9M895.9,239.7h0.9M947.7,290.3h0.9" stroke="#cfcfcf" stroke-width="0.9" fill="none"/>
<path d="M883.4,230.5h0.9M932.1,249.8h0.9M904.7,272.5h0.9M961.7,258.2h0.9M948.8,235.0h0.9M915.8,226.8h0.9M904.6,248.1h0.9M888.7,230.9h0.9M936.8,240.4h0.9M977.3,252.4h0.9M959.3,285.8h0.9M973.3,274.8h0.9M898.0,237.9h0.9M910.0,264.7h0.9M881.9,242.9h0.9M916.2,258.3h0.9M968.6,259.2h0.9M936.6,227.7h0.9M903.1,235.5h0.9M893.0,245.5h0.9M907.3,234.8h0.9M946.8,263.5h0.9M886.7,272.1h0.9" stroke="#999" stroke-width="0.8" fill="none"/>
<polygon points="890.9,228.4 891.1,224.6 894.0,226.3" fill="none" stroke="#555" stroke-width="0.75"/>
<polygon points="891.7,237.5 888.0,237.3 889.6,234.4" fill="none" stroke="#555" stroke-width="0.75"/>
<polygon points="879.4,266.5 879.3,263.0 882.1,264.3" fill="none" stroke="#555" stroke-width="0.75"/>
<polygon points="897.4,277.0 893.8,276.2 895.9,273.6" fill="none" stroke="#555" stroke-width="0.75"/>
<polygon points="909.6,286.0 910.2,282.3 912.9,284.3" fill="none" stroke="#555" stroke-width="0.75"/>
<polygon points="935.9,280.3 932.2,280.1 933.8,277.2" fill="none" stroke="#555" stroke-width="0.75"/>
<polygon points="965.2,233.2 965.1,229.4 968.1,230.8" fill="none" stroke="#555" stroke-width="0.75"/>
<polygon points="965.3,245.5 961.6,244.9 963.4,242.2" fill="none" stroke="#555" stroke-width="0.75"/>
<polygon points="979.5,251.9 974.1,251.6 976.4,247.4" fill="none" stroke="#555" stroke-width="0.75"/>
<polygon points="972.2,285.0 968.6,283.8 971.0,281.5" fill="none" stroke="#555" stroke-width="0.75"/>
</g>
<rect x="344.20" y="223.60" width="199.50" height="52.80" fill="#fff" stroke="none" stroke-width="0" />
<path d="M510.7,240.9h0.9M372.0,238.3h0.9M387.7,265.2h0.9M504.8,251.9h0.7M469.4,261.6h0.9M533.7,245.3h0.9M409.8,275.2h1.2M522.4,225.0h1.2M349.0,262.4h0.7M434.7,229.4h0.7M519.8,249.3h0.9M438.9,266.7h0.7M520.0,249.2l0.7,0.7M524.0,243.9h0.7M487.0,268.7h0.9M483.2,265.5h0.7M500.7,266.8l0.7,0.7M538.0,265.7l0.9,0.9M392.2,272.3l1.2,1.2M437.2,248.9l1.2,1.2M534.1,243.9h0.7M454.7,266.6l1.2,1.2M361.6,251.0h0.7M512.9,268.0h0.7M404.5,263.6h0.9M538.5,263.9l0.7,0.7M367.0,260.0h1.2M539.5,272.0h1.2M360.3,225.2h1.2M531.4,247.0h0.9M355.1,258.5h0.9M447.3,264.3l1.2,1.2M401.5,271.1h1.2M486.4,275.4h1.2M395.5,225.5h1.2M535.6,257.4l1.2,1.2M358.0,244.4h0.7M450.7,227.9h0.7M432.7,261.8h0.9M509.5,225.7h0.7M382.1,271.0h1.2M406.3,237.7h0.7M448.2,229.9h0.7M420.0,263.7l1.2,1.2M438.0,269.1h0.7M510.3,236.3h0.9M440.6,271.9h0.9M530.1,252.8l1.2,1.2M430.1,227.0h1.2M435.9,262.0h0.9M539.6,249.0l1.2,1.2M473.9,250.8h1.2M491.3,251.9h0.9M514.4,243.1l1.2,1.2M463.0,270.8l0.9,0.9M351.6,246.8h0.7M406.7,234.4l0.9,0.9M412.5,258.7h1.2M376.6,267.0h0.7M457.5,235.6h1.2M531.2,245.2h0.9M512.7,265.9l0.9,0.9M514.8,273.7h0.9M448.3,259.2h1.2M411.9,263.5h0.9M385.6,245.3l1.2,1.2M496.5,267.4l1.2,1.2M461.2,234.4h1.2M488.3,238.2h0.7M361.5,237.0l0.7,0.7M523.0,264.8l0.7,0.7M360.8,228.7h0.7M517.9,241.4l0.9,0.9M528.6,253.1h0.7M428.3,239.4h0.7M358.8,248.6l1.2,1.2M481.5,255.9h0.7M541.8,270.6l0.7,0.7M408.9,236.3h1.2M436.0,234.3h1.2M394.6,258.7h0.9M528.3,272.5h0.7M361.9,271.9h0.7M531.5,253.0h0.9M373.2,260.2h0.7M496.7,231.1l1.2,1.2M392.6,274.4h0.7M490.0,230.8l0.9,0.9M505.7,241.7h0.7M437.5,275.4h1.2M427.4,266.7h1.2M500.6,237.3h0.7M347.0,259.1h1.2M540.8,261.8h0.9M485.9,258.9h0.9M378.7,240.7h1.2M436.0,262.9h1.2M349.6,243.3h0.9M463.4,275.8h0.9M346.8,273.6l0.7,0.7M452.1,272.1h1.2M415.2,235.6h0.7M531.2,262.3h0.9M377.0,225.0h1.2M527.6,234.8h1.2M486.1,261.0h1.2M375.1,235.2h1.2M345.6,241.7h1.2M451.2,236.1h0.7M523.7,234.6h1.2M531.6,247.0h0.7M404.6,232.5l0.9,0.9M437.9,234.4l1.2,1.2M359.0,260.4l0.9,0.9M515.8,253.8h0.7M375.5,257.9l1.2,1.2M388.0,265.6h1.2M473.5,238.9h0.7M421.3,242.9h0.9M386.1,262.3h0.7M388.0,246.7h1.2M524.3,229.6h1.2M537.5,264.1h0.9M517.5,263.1l0.9,0.9M355.6,230.5h0.9M469.4,229.9l0.7,0.7M465.3,258.9l0.9,0.9M440.2,225.4l0.7,0.7M374.7,242.3h0.9M458.6,247.5h1.2M475.4,250.6h0.7M455.7,231.5h1.2M481.4,224.3h0.9M533.9,272.2h0.9M382.3,275.6h1.2M452.7,273.4h0.9M494.5,231.8h1.2M402.8,250.4h0.7M371.0,243.6h1.2M482.7,273.7h1.2M505.3,239.4h0.9M419.1,237.0h0.9M361.7,268.2h0.7M465.2,273.7l1.2,1.2M443.6,241.5h0.7M500.3,237.1l0.7,0.7M542.0,239.7h1.2M468.3,274.2h0.7M437.6,240.3h1.2M473.8,249.0l0.9,0.9M363.4,243.8h0.7M400.5,241.2h0.9M470.2,252.2l0.9,0.9M382.2,239.3h1.2M357.3,224.6h0.7M475.8,263.1l1.2,1.2M401.3,229.3h1.2M406.5,253.5h1.2M523.4,254.6h0.7M540.4,271.0l0.7,0.7M424.8,260.2h1.2M416.7,258.4h0.7M468.0,257.9h0.9M376.7,232.0h1.2M369.2,240.1h1.2M436.3,263.0h0.7M391.4,263.3l0.9,0.9M496.1,235.6h0.9M391.8,226.0l0.7,0.7M360.8,241.3h0.9M378.6,246.5h1.2M490.2,262.5h0.9M411.0,229.4h1.2M392.1,248.3h1.2M397.3,258.8h0.7M480.9,246.4l0.7,0.7M452.1,275.4h0.9M440.4,230.7l1.2,1.2M539.7,261.4h0.7M431.3,224.3h1.2M515.9,257.1h1.2M540.7,256.2l1.2,1.2M429.7,255.1h1.2M415.7,263.2h0.7M438.1,261.4l0.9,0.9M383.6,270.5l1.2,1.2M406.7,274.6l1.2,1.2M400.2,271.9l0.9,0.9M499.9,250.5h0.9M410.5,259.3l0.7,0.7M514.0,271.2h0.9M458.4,240.8h1.2M367.5,275.2h1.2M439.5,275.2h1.2M357.9,271.0l0.9,0.9M467.0,261.2h0.9M418.8,262.1l0.9,0.9M534.9,259.4h0.9M503.2,252.2l1.2,1.2M381.4,266.1h1.2M371.1,249.1h0.7M404.2,234.5h1.2M536.7,266.7h0.7M351.1,272.5h0.9M358.4,271.0h0.7M411.2,227.5h0.7M526.9,271.0h0.9M536.9,252.7h0.7M434.9,234.3h0.9M533.5,250.5h1.2M532.2,258.0h0.9M400.4,254.8h0.9M463.7,256.5h1.2M478.0,273.5l0.7,0.7M430.5,238.5h0.7M511.1,232.5h0.9M440.9,229.2l0.9,0.9M539.9,256.8l1.2,1.2M413.2,229.5l1.2,1.2M405.3,237.2h0.7M517.0,226.7l0.7,0.7M487.7,230.0l0.7,0.7M509.2,248.8h0.9M507.2,235.0l1.2,1.2M533.3,270.8h0.7M522.7,246.4h0.7M441.3,232.3h0.9M517.9,246.6h0.7M474.7,258.2h0.9M480.9,232.5h1.2M527.9,243.8h0.9M473.7,237.7h0.7M495.7,238.4h1.2M428.8,272.7h0.7M404.5,254.5h0.7M366.1,239.7h0.9M502.8,228.7h0.7M471.0,266.3h1.2M392.3,267.6h1.2M515.6,229.3h1.2M403.8,238.3h0.7M442.8,236.0h0.9M521.4,238.3h0.9M395.5,266.3h0.7M472.9,266.0h0.7M483.9,242.8h0.9M485.9,229.1h0.7M473.2,259.7h0.7M422.2,259.6h0.9M392.2,262.6h0.9M417.5,265.5h1.2M378.3,232.2h0.9M364.8,232.1h0.9M401.7,228.4h0.9M469.6,264.8h0.7M356.1,253.8h0.7M379.2,230.0l0.7,0.7M501.7,256.8l0.7,0.7M359.6,247.5h0.9M444.4,228.6h0.7M422.8,257.5l0.9,0.9M500.7,246.4h0.9M443.5,251.4l0.9,0.9M428.0,255.0h0.9M528.5,253.5h0.9M454.0,261.7h1.2M404.7,270.8h1.2M476.5,231.8l0.7,0.7M473.0,265.6h1.2M533.7,264.5h0.7M520.2,273.4l0.9,0.9M502.3,226.8h0.7M344.7,267.4h0.9M441.1,267.5h0.7M375.0,240.0h0.7M508.2,229.2h0.9M406.6,259.5h1.2M399.1,237.1h0.7M418.2,232.0h1.2M384.5,240.0h0.9M365.6,242.2l0.7,0.7M350.7,241.7h1.2M362.3,230.2h1.2M454.9,261.6h0.9M372.0,271.8h0.9M517.7,246.2h0.9M488.9,260.3h0.7M541.2,240.2h0.9M456.1,234.8l0.7,0.7M403.6,228.2h0.7M489.6,233.1l1.2,1.2M454.2,258.0l0.7,0.7M474.1,244.4h0.7M416.4,238.3h1.2M458.0,235.5h1.2M419.5,275.2h1.2M406.9,234.9h0.9M482.3,239.2h1.2M503.4,256.4h0.9M463.0,261.9h0.9M348.9,239.5l1.2,1.2M537.0,261.8l0.9,0.9M510.2,240.1h1.2M398.5,235.1h1.2M432.9,239.9h0.9M468.0,237.7h0.9M391.2,236.9l0.7,0.7M418.5,227.1h0.9M413.7,249.2l1.2,1.2M468.0,268.7l0.9,0.9M385.6,264.2h0.9M384.2,252.4h1.2M497.9,262.9h0.9M425.9,263.0h0.9M404.2,252.3h0.7M532.1,273.7h1.2M488.7,255.5h1.2M425.9,253.4l0.9,0.9M541.7,262.4l0.7,0.7M489.5,226.3h0.9M529.1,238.5l0.7,0.7M528.3,243.0h1.2M380.8,250.9l0.7,0.7M390.3,235.9l0.9,0.9M362.8,248.8h0.9M531.6,254.1h1.2M429.1,243.3l0.9,0.9M417.2,236.5h0.7M356.1,270.3h0.9M500.7,272.6h0.7M346.1,245.3l1.2,1.2M409.4,255.5h0.9M386.7,255.6l0.9,0.9M538.9,266.9h0.9M506.8,250.7l0.7,0.7M500.8,260.3l1.2,1.2M377.1,237.5h1.2M539.1,237.4h0.9M465.4,236.2h0.7M522.0,252.7h0.7M352.8,267.1h1.2M372.9,255.3h0.7M506.9,269.0h1.2M501.9,245.3h1.2M407.8,231.0h0.9M515.8,271.8h1.2M373.3,263.6h0.9M353.2,239.9h1.2M383.2,274.0h0.7M449.3,252.8h0.9M451.2,231.0h0.7M533.5,247.0l0.7,0.7M346.6,236.4h0.9M345.4,267.4h1.2M455.3,264.7h0.9M369.5,256.4h1.2M475.5,241.3h1.2M486.0,249.5h0.7M473.1,226.4l0.9,0.9M464.0,242.1l0.9,0.9M369.0,242.0h1.2M539.9,267.3l0.7,0.7M495.2,253.8h0.9M514.3,244.9h0.9M408.5,257.1h1.2M539.7,229.9h1.2M413.7,255.1h0.9M486.7,266.4h0.7M349.1,268.0h0.9M489.8,275.1h0.7M349.4,239.4l0.9,0.9M458.3,266.5h0.7M362.8,261.0h0.7M504.6,268.7l1.2,1.2M430.0,236.4l0.9,0.9M359.4,260.1l0.7,0.7M408.7,265.4l1.2,1.2M392.2,265.3h0.7M465.3,246.0h0.9M363.4,255.2h0.9M462.6,266.3h0.7M500.7,231.5h0.9M410.1,227.8l0.9,0.9M459.4,251.1h0.7M386.0,257.7h1.2M384.5,270.9h0.9M492.4,242.6h1.2M483.3,231.4h0.7M527.0,251.7h0.9M413.7,227.6h0.9M345.3,245.7h1.2M510.5,228.8l0.9,0.9M362.9,267.7h0.9M368.4,240.9h1.2M426.8,264.0h1.2M528.2,274.0h0.7M356.5,246.6h1.2M442.8,260.5h0.7M426.4,262.7l0.9,0.9M411.7,244.2h0.9M420.8,228.8h0.9M440.9,268.9h1.2M350.9,226.0h1.2M467.5,245.9h0.9M538.8,265.1l0.7,0.7M388.6,258.2l0.7,0.7M440.4,266.3l0.9,0.9M396.7,241.0h0.7M405.7,254.9l1.2,1.2M523.0,247.8h0.9M368.7,250.1h0.7M367.4,247.1h0.7M425.9,246.1l0.7,0.7M399.6,257.3h1.2M482.1,240.6l0.7,0.7M528.7,225.0h1.2M428.4,252.1h1.2M486.6,257.2h0.9M437.5,262.2h0.9M433.1,242.6h1.2M450.0,240.1h0.9M399.4,241.6l0.9,0.9M345.5,231.0l0.9,0.9M535.5,257.4h0.9M487.3,231.5h1.2M399.1,270.4h0.9M441.0,274.9h0.7M520.9,242.6l0.9,0.9M518.3,243.2l0.9,0.9M509.1,260.3h1.2M423.3,261.5h1.2M394.1,257.1l1.2,1.2M367.0,236.9l0.9,0.9M399.9,275.1h1.2M357.4,228.4h0.7M351.3,250.8h0.9M423.9,241.6h0.9M368.0,235.3h0.7M468.2,268.5l0.7,0.7M379.3,253.8l0.7,0.7M411.2,236.5h0.7M466.1,264.0l0.7,0.7M379.9,226.7h0.9M511.1,254.3l1.2,1.2M362.9,230.0l1.2,1.2M460.8,256.3h1.2M367.7,250.8h0.9M414.2,225.7h0.9M408.3,273.8l1.2,1.2M453.0,242.6l0.7,0.7M350.6,260.4h1.2M353.1,243.9l1.2,1.2M412.8,259.3h1.2M382.7,267.6h0.9M505.1,241.8h0.7M484.1,224.5h1.2M498.3,246.9h1.2M380.5,241.3h0.9M522.1,268.1h0.7M360.6,260.6h1.2M357.7,238.2h0.9M470.7,229.6l0.9,0.9M385.7,254.3h1.2M475.9,239.3h1.2M510.0,248.2h0.9M392.5,246.8l1.2,1.2M512.0,235.7h0.9M445.7,247.4l0.9,0.9M368.7,248.1h0.9M513.9,269.0h0.7M498.8,257.6l0.9,0.9M470.4,227.3h0.7M536.5,266.9h0.9M453.0,266.8l0.9,0.9M439.9,262.6h0.9M425.3,271.0h1.2M513.9,250.1h0.9M390.9,236.8l0.9,0.9M446.2,237.2l0.7,0.7M510.6,225.4h0.7M352.8,227.9h1.2M355.7,232.2l0.9,0.9M405.0,265.7h0.7M427.8,250.3h0.9M474.9,263.6h1.2M451.6,231.1h1.2M421.6,267.3h1.2M425.7,265.0h0.7M479.9,244.7h0.9M356.9,230.2h0.9M430.2,267.5h0.7M392.2,255.5l0.7,0.7M366.6,260.0h1.2M418.3,255.7h0.9M465.5,274.8h0.9M508.8,249.9h0.9M493.0,264.0h0.9M452.7,273.8l0.7,0.7M415.1,272.1l1.2,1.2M381.8,275.8l1.2,1.2M475.5,224.6h1.2M453.5,270.3h1.2M426.1,228.5h0.7M352.0,274.8h1.2M476.7,232.8h0.7M533.8,234.5h1.2M376.5,263.1l1.2,1.2M490.9,249.6h0.7M357.4,236.3l0.7,0.7M401.2,242.3h1.2M506.1,267.1h1.2M397.4,228.4h0.9M455.2,264.2h0.9M483.2,249.4h0.7M467.2,262.8h1.2M397.3,263.1h1.2M485.5,268.7h0.7M395.2,225.7h0.9M387.3,237.6h0.9M481.0,250.5h1.2M502.8,265.4h0.9M504.7,253.1h1.2M509.9,270.8h0.7M481.4,241.7h0.9M431.4,233.3h0.7M360.4,252.9h0.9M513.9,263.1h1.2M513.6,274.4h0.7M528.0,254.6h0.9M500.3,264.3h0.7M522.7,257.1l0.7,0.7M357.7,237.0h1.2M438.2,259.4h0.7M527.5,231.2l1.2,1.2M505.2,260.5h0.9M535.8,244.1h0.7M467.4,274.5h1.2M506.9,231.9h0.9M534.1,247.8l1.2,1.2M402.5,267.2h0.9M379.3,243.2l0.7,0.7M473.9,245.4h0.9M409.5,225.3h1.2M520.3,225.1l0.7,0.7M516.1,256.9h1.2M359.9,274.4l0.7,0.7M359.2,268.1l0.7,0.7M379.0,271.8l0.9,0.9M357.8,258.6h0.9M404.3,267.9h1.2M520.6,262.9h0.7M369.5,262.2h0.9M386.4,268.2l0.7,0.7M486.9,259.5l0.9,0.9M471.4,260.1h0.7M522.4,242.8h1.2M381.8,249.8h0.9M350.3,268.6h1.2M512.1,230.6l1.2,1.2M511.8,225.7h0.9M404.8,231.7h0.7M462.9,233.9h0.9M404.8,244.9h0.9M347.1,256.5h0.9M476.9,269.0h1.2M499.9,228.2l0.7,0.7M448.6,225.7h0.7M542.6,226.6l0.7,0.7M420.1,261.0h0.7M347.7,234.1h0.9M490.8,225.2h0.7M532.6,255.9h1.2M413.6,235.3h0.9M390.9,253.6h0.9M456.3,240.2h0.9M411.7,245.9h1.2M391.0,240.9h1.2M411.9,267.9h0.9M443.5,267.8l0.9,0.9M493.8,251.0h1.2M409.7,275.1h0.9M409.2,234.2h0.7M512.5,254.3l0.9,0.9M436.9,273.1l1.2,1.2M530.1,273.1h0.7M365.5,256.1l0.9,0.9M356.4,237.2h1.2M527.1,227.4h1.2M446.0,236.4h1.2M430.1,242.6h0.9M485.5,235.3h0.7M498.4,241.2h1.2M473.1,261.5h0.9M449.0,239.3h1.2M410.7,236.1h1.2M430.3,232.1h0.9M499.6,227.1h1.2M481.0,224.9h1.2M473.8,232.1l1.2,1.2M506.6,239.2h1.2M372.4,238.4h0.9M348.7,249.5h0.9M353.5,254.6l0.9,0.9M449.2,275.7l0.7,0.7M488.7,274.2h0.9M530.1,248.5h0.7M372.3,232.7h0.7M448.9,242.5h0.7M405.4,272.4h1.2M490.3,241.4h0.9M508.1,224.4h0.9M514.8,270.4h1.2M447.2,272.1h0.9M513.9,269.5h1.2M440.9,236.4h0.7M542.0,238.6h0.9M421.9,261.7h0.9M401.7,271.8l0.9,0.9M476.7,233.6h1.2M454.6,272.8h0.9M500.6,263.7h1.2M433.1,257.3h0.7M484.0,238.7l1.2,1.2M472.1,234.3h1.2M462.7,224.6h0.9M394.3,226.0h0.9M449.3,272.8h0.9M529.3,269.2h1.2M516.9,270.8h0.9M488.2,257.7l0.9,0.9M472.6,259.2l0.9,0.9M536.8,273.3h0.9M525.9,273.2h0.7M364.7,255.7h1.2M361.9,269.3h1.2M444.6,252.3h0.7M433.3,232.3h1.2M367.4,235.2h0.7M377.0,257.1l0.7,0.7M441.5,231.0l0.9,0.9M395.1,250.7l0.9,0.9M474.9,236.0h0.9M491.9,238.8h0.9M408.3,238.7h0.9M367.6,247.3h1.2M497.6,268.8h0.7M349.1,258.5h1.2M524.9,239.6h1.2M515.5,271.9h1.2M374.3,274.4l0.9,0.9M423.5,267.2h0.9M367.4,259.5h1.2M435.0,229.9h1.2M530.5,260.2h1.2M484.0,243.1h1.2M372.4,248.7h0.9M386.7,272.6h0.7M467.3,244.6h0.9M445.1,239.8l0.9,0.9M536.9,271.7h0.9M435.9,251.5h1.2M495.7,271.2h1.2M354.5,262.1h0.9M496.8,259.0h1.2M504.1,245.7h0.7M514.6,275.7l0.9,0.9M477.5,259.5h0.9M462.8,229.7h0.9M508.5,253.9h0.9M346.9,246.3l0.7,0.7M512.8,248.4l0.9,0.9M456.5,261.8l0.9,0.9M514.6,272.8h1.2M405.9,275.8h0.9M450.3,226.9l0.7,0.7M431.9,267.1h0.7M441.7,270.9h0.7M364.8,267.0h1.2M377.2,243.7l1.2,1.2M507.1,235.6h1.2M371.0,228.8h0.9M479.0,267.6h0.9M424.5,224.2h0.7M486.5,248.9h0.9M438.3,253.8h1.2M471.2,275.1h0.9M430.8,236.2h1.2M399.1,262.7h0.7M512.9,233.5h1.2M469.5,250.2h1.2M366.4,260.4l0.7,0.7M368.7,256.8h1.2M528.1,236.7h0.9M476.5,256.9h0.9M401.4,246.6h0.7M349.6,246.9h1.2M464.4,237.9h1.2M365.7,251.1h1.2M416.6,241.0h0.9M448.5,249.0h0.7M416.7,235.3h1.2M415.3,251.9h0.9M533.1,267.0h1.2M528.7,236.7h0.9M517.6,238.6h0.7M444.9,245.4h0.7M404.1,263.9l0.7,0.7M386.2,268.8h1.2M483.2,246.4h0.9M506.6,271.5l0.7,0.7M498.2,233.6h1.2M434.4,234.7h0.9M368.2,245.7h0.7M375.0,236.0h1.2M410.4,232.9h0.9M356.4,257.0l0.9,0.9M494.8,237.9h1.2M441.5,260.5h0.7M455.4,238.2h1.2M526.2,242.3h0.9M352.4,259.4h1.2M539.9,243.8h1.2M430.0,255.9h1.2M407.4,252.0l0.9,0.9M350.5,247.0h0.9M362.9,251.5h1.2M388.7,246.2h0.9M437.4,270.9h0.7M462.2,230.1h1.2M411.6,229.4h1.2M346.4,252.7h0.7M349.6,248.4h1.2M441.9,247.8h0.7M537.1,243.2h0.9M501.8,260.3h1.2M429.1,234.0h1.2M418.0,250.9l1.2,1.2M409.7,238.5h0.9M426.9,253.8h0.7M418.0,235.7h1.2M404.9,240.5h0.9M361.2,235.3h1.2M467.4,270.4h0.7M355.6,235.4h1.2M465.2,238.9h0.9M362.5,237.1h1.2M416.5,275.7h0.9M473.5,266.7h1.2M395.2,249.0h0.7M500.7,263.8l0.7,0.7M464.4,226.4h1.2M399.4,260.7l0.9,0.9M396.5,232.7h0.7M521.1,241.9h0.7M396.8,225.7h0.7M459.8,245.7l0.9,0.9M517.4,231.6h0.7M387.4,264.3h0.7M416.5,274.3h0.9M529.3,264.5h0.7M509.8,265.9h0.9M452.7,238.4h1.2M364.0,254.5h1.2M471.5,239.6h1.2M423.6,264.7h0.7M420.6,238.5h0.9M366.9,228.7h1.2M387.1,248.5h0.9M422.5,244.0l0.9,0.9M481.3,240.3h1.2M478.0,248.0h1.2M386.5,256.3h1.2M428.1,275.0l0.7,0.7M456.4,247.9h1.2M409.1,228.6h0.9M492.0,264.9h0.7M455.6,266.1h1.2M510.9,241.2h1.2M345.8,257.2h1.2M505.5,227.2h0.9M524.4,224.2l0.7,0.7M390.8,273.5h0.9M372.4,226.3l0.9,0.9M428.5,270.6h0.7M396.2,250.9h0.9M390.2,230.5h0.9M360.3,274.7h0.9M513.6,228.6h0.7M528.8,226.9h0.9M430.5,254.5h0.7M539.2,240.5h0.7M445.4,226.2h0.7M363.8,242.2h1.2M487.2,248.4h0.7M412.6,228.6l0.9,0.9M430.5,236.8h1.2M391.1,246.2h0.7M539.7,275.5h0.7M371.9,234.8h1.2M481.1,227.9h0.9M520.3,274.9h0.9M418.2,267.9h0.9M388.1,224.9h0.9M344.7,241.8l0.9,0.9M399.0,256.2h0.9M429.8,233.1h1.2M413.7,250.1h0.9M370.1,256.8l0.7,0.7M346.4,251.6h0.9M368.4,270.5h0.7M504.3,247.4l0.9,0.9M413.2,262.8h1.2M489.9,241.0h0.7M538.9,230.6h0.7M532.2,225.9h0.7M504.2,235.6h1.2M512.9,224.8h1.2M458.8,274.3h0.7M520.6,269.9h1.2M352.8,239.8h1.2M380.6,263.8h1.2M446.6,247.1h0.7M476.1,242.2h1.2M515.7,238.8h0.7M450.1,253.6l0.9,0.9M364.3,269.8h1.2M410.4,275.0h0.7M425.5,249.7l1.2,1.2M525.5,274.4h0.9M374.9,270.2h0.9M379.8,225.2h0.9M464.4,229.5l1.2,1.2M386.5,263.8h0.7M386.6,247.0h0.7M459.5,265.7h0.7M507.5,259.3h1.2M400.3,254.8l0.9,0.9M382.6,254.6l0.9,0.9M388.2,234.7l0.9,0.9M504.5,268.9l0.7,0.7M449.7,241.2l0.9,0.9M485.6,271.0l0.7,0.7M449.5,240.5h1.2M370.5,233.2l1.2,1.2M378.9,258.5h0.9M373.9,274.5h0.9M458.6,251.4h0.9M404.5,230.0h0.7M465.4,233.1h0.9M461.6,256.8l0.9,0.9M483.3,260.2h0.7M525.3,236.8h1.2M486.2,235.8h0.7M532.1,225.6l0.7,0.7M463.3,238.2h0.9M395.5,270.4h1.2M392.9,258.4h0.9M438.4,240.8l0.9,0.9M495.3,267.6l0.7,0.7M507.5,240.6h0.7M464.7,232.5l1.2,1.2M471.3,272.3h0.7M450.4,234.9h1.2M528.4,234.6l1.2,1.2M378.1,226.7l0.9,0.9M408.1,226.9l0.7,0.7M385.7,241.2l1.2,1.2M499.1,247.3l0.9,0.9M511.9,237.0h0.7M421.1,234.8h0.7M478.5,252.6h0.9M395.3,265.7l0.9,0.9M483.6,262.1h0.7M517.6,259.7h1.2M394.1,259.0h0.7M387.3,240.0h0.9M357.5,224.6h0.9M537.1,272.4l0.9,0.9M532.8,233.1h0.7M393.7,252.5h0.9M501.8,233.3h0.7M446.6,241.6h0.9M473.2,258.7h1.2M541.1,262.3h0.9M351.6,242.3l1.2,1.2M443.8,234.7l1.2,1.2M429.3,234.6h0.7M532.3,248.4h1.2M538.9,271.0h0.7M514.5,261.9h1.2M367.9,230.9h0.7M395.2,261.5l0.9,0.9M450.9,256.9l0.7,0.7M408.8,242.1h0.7M388.1,251.6h0.7M527.9,226.6h0.9M351.7,273.6h0.9M478.2,250.9l1.2,1.2M476.8,274.5h0.9M445.3,255.0h1.2M511.8,246.1h1.2M389.4,235.5h1.2M497.7,237.6h0.7M455.1,250.5h0.7M433.2,243.6h0.7M481.8,230.0h0.9M537.7,253.7l1.2,1.2M356.1,258.5h1.2M437.0,237.9h0.9M420.5,255.0h1.2M496.4,242.0l1.2,1.2M492.8,257.3h1.2M458.9,240.8h0.7M350.4,236.3h0.9M450.6,267.7h0.7M400.2,232.4h0.9M448.5,233.8h0.7M406.9,225.2h0.7M386.4,272.3h0.9M414.5,271.3l0.7,0.7M346.8,235.4l1.2,1.2M355.2,263.2l1.2,1.2M391.6,239.6h1.2M397.5,269.9h0.7M468.6,269.6h0.7M416.5,251.1l1.2,1.2M505.1,225.9h1.2M537.9,270.2h0.9M498.8,261.9h0.7M410.6,265.9h0.9M477.0,259.5l0.9,0.9M508.9,261.1h1.2M502.5,241.0h0.9M374.3,234.7h1.2M394.1,265.2h0.7M490.1,225.8h0.7M359.8,255.0h0.7M511.8,238.9h0.9M362.6,256.8h1.2M520.4,251.8h1.2M388.6,250.0h1.2M500.5,243.6h0.9M449.0,272.6l0.7,0.7M459.7,269.1h0.7M376.5,275.6h0.9M541.4,227.4h1.2M384.5,260.0l0.7,0.7M503.6,273.9l0.9,0.9M532.1,233.2l1.2,1.2M370.5,245.9h1.2M402.7,226.9h0.7M375.6,271.7h0.7M354.9,258.2h0.9M487.3,248.5h0.9M455.5,275.4l1.2,1.2M518.8,229.4h1.2M525.5,249.2h0.9M406.9,252.5h0.7M409.3,269.0h0.7M422.4,274.4h0.9M436.0,230.1h1.2M474.4,225.0h0.9M430.5,225.1l1.2,1.2M411.9,235.0l1.2,1.2M360.4,254.3h0.7M360.7,251.8h1.2M486.2,238.1h0.7M419.2,272.5h1.2M512.4,273.4h0.7M453.3,225.0l0.7,0.7M502.3,264.8l0.9,0.9M363.8,264.0h1.2M355.8,236.2h1.2M351.1,263.2h0.7M382.4,271.4h1.2M355.0,251.3h1.2M372.8,227.1l1.2,1.2M489.4,271.1l0.9,0.9M348.5,263.6h1.2M512.7,241.5h0.7M462.6,243.8h1.2M434.6,231.4l1.2,1.2M525.0,231.3h0.9M461.7,238.8h0.7M381.5,250.1h1.2M397.4,261.7l1.2,1.2M444.6,243.3h0.7M355.2,234.4h1.2M372.1,235.7l0.9,0.9M427.7,254.6h1.2M513.1,235.8h0.9M497.9,230.9h0.7M526.7,234.6h0.7M501.0,248.5h0.9M455.3,255.5h1.2M405.3,270.6h1.2M487.5,269.9l0.9,0.9M394.9,256.0h0.9M381.8,268.0h1.2M511.3,232.2h0.7M377.6,250.4h0.7M459.5,267.3h0.7M367.5,249.7h0.7M363.6,240.7h1.2M416.8,265.3h0.9M522.7,239.7h0.9M487.6,224.8h0.9M463.7,273.8h1.2M526.1,256.7h1.2M347.2,227.1h1.2M426.5,254.1h0.7M493.3,262.3l1.2,1.2M506.4,232.7l1.2,1.2M409.3,236.2h0.9M443.8,266.1h0.9M471.0,237.9h1.2M531.9,271.5h0.9M423.8,273.0h0.7M445.3,268.2h1.2M452.1,225.7l0.7,0.7M535.0,254.0l0.9,0.9M484.3,261.0h0.7M485.7,227.1h0.9M367.9,260.3h0.7M429.7,250.6l1.2,1.2M424.0,236.4h0.7M493.2,269.1h0.7M453.0,260.0h0.7M362.3,268.2l0.9,0.9M395.9,243.8l1.2,1.2M408.0,242.7h0.9M418.6,248.9l0.7,0.7M404.2,254.2h0.9M375.2,275.5h1.2M504.3,275.0h0.9M526.4,274.1h1.2M542.3,269.2l0.9,0.9M345.6,248.2h0.9M519.7,267.1h1.2M530.7,255.2h0.7M501.5,226.8h0.7M347.1,251.0h0.9M451.7,231.9h0.9M378.9,232.0h1.2M522.4,229.9h0.9M525.9,233.4h0.7M401.1,242.1l1.2,1.2M532.8,245.6h0.7M513.5,246.5l1.2,1.2M487.0,226.4h0.9M518.0,264.9h1.2M359.4,259.1h0.9M488.3,273.0h0.9M413.3,255.0l0.7,0.7M476.8,246.2h0.9M381.5,238.8l0.9,0.9M361.0,228.8h0.9M414.9,261.8h0.7M405.0,267.9h0.9M381.4,231.4h0.7M482.1,262.9h0.7M471.4,273.0l0.9,0.9M482.6,237.7h0.9M345.3,252.2h0.9M360.3,272.6h0.7M425.3,250.4h0.7M428.9,241.2h0.9M395.8,228.7h0.9M508.6,228.1h1.2M536.3,249.0h0.9M424.4,271.6l0.7,0.7M485.4,225.8h0.9M527.0,236.3h0.7M406.0,251.3h0.7M531.0,270.4h1.2M529.3,226.7h0.7M361.6,232.0l0.7,0.7M372.4,224.7l1.2,1.2M483.3,243.8h0.9M488.3,271.6h1.2M433.1,269.3h1.2M375.1,258.2l0.7,0.7M423.3,252.6h0.9M532.1,240.1h0.7M467.0,266.2h0.7M360.1,229.2h0.7M351.6,266.5h1.2M480.5,248.4h0.9M493.3,239.0h0.9M422.9,258.0h0.7M521.7,254.9h0.9M400.1,249.4h1.2M448.1,268.1h0.9M385.9,238.9h0.7M521.8,273.9h0.7M481.9,253.2h0.7M466.0,239.8h1.2M517.2,262.7h0.7M368.3,259.9h1.2M507.1,265.2h1.2M412.9,235.2l0.9,0.9M362.5,244.8h0.7M511.2,232.0h0.7M375.1,225.5l0.9,0.9M466.6,252.3h0.7M502.6,251.4h1.2M433.2,275.4h0.7M488.4,261.1h1.2M468.2,237.0h1.2M391.8,241.6l0.9,0.9M494.3,237.3h0.9M465.2,274.0l0.7,0.7M440.6,265.2h0.7M485.4,245.9l0.7,0.7M495.3,250.5h1.2M436.0,224.5h0.7M398.7,234.5h0.9M507.1,235.3h0.7M354.4,249.0h0.9M390.9,275.3h0.7M405.0,226.4h1.2M537.7,271.9l0.7,0.7M498.2,243.5l1.2,1.2M511.5,253.2h1.2M362.9,262.5l1.2,1.2M519.7,273.1h1.2M424.3,245.1h1.2M473.3,250.8h1.2M368.8,252.5l1.2,1.2M522.6,237.2h1.2M486.7,253.8h0.7M478.3,240.9h0.9M483.6,260.0h1.2M363.5,246.3h1.2M412.8,230.0h0.7M441.0,233.0l0.7,0.7M375.6,248.7h0.7M500.2,244.6h1.2M431.0,228.1h1.2M345.6,241.3h0.7M351.6,264.3h0.9M487.2,238.7h1.2M370.1,247.9h0.7M371.6,275.7h1.2M464.2,259.0h0.9M529.4,266.4h0.9M535.9,275.0h1.2M535.9,259.0h1.2M373.8,251.3l1.2,1.2M396.3,238.5l1.2,1.2M537.3,257.3h1.2M509.8,227.8l1.2,1.2M416.5,272.6h1.2M541.9,232.4h0.9M529.8,257.6h0.9M532.0,255.1h1.2M483.2,268.9h1.2M532.2,262.8h0.7M367.9,246.1h0.9M354.9,252.0l0.9,0.9M413.4,262.7h0.9M471.0,247.5h0.7M497.8,273.7h1.2M497.7,263.7h0.9M434.4,235.1h0.9M474.7,245.7l0.7,0.7M493.9,264.7l0.7,0.7M480.5,268.4h0.9M458.3,258.8h1.2M440.3,260.3h1.2M537.2,237.3h0.7M348.7,229.3h1.2M435.8,232.8h0.7M406.6,238.9h0.7M529.5,246.5l0.9,0.9M483.1,259.6h0.9M417.8,275.2l0.9,0.9M497.8,225.4h0.7M478.7,228.0h1.2M373.7,267.5h0.9M459.1,226.2h0.7M455.3,234.7h0.9M481.1,227.2h0.7M352.3,236.2l0.9,0.9M501.0,244.2h0.9M463.4,236.7h1.2M389.5,225.7h0.7M421.5,249.8h0.7M535.0,226.3l0.7,0.7M523.1,272.1h0.9M525.0,243.0h0.7M528.2,233.3h1.2M380.9,249.4h0.7M431.1,252.2h1.2M507.3,225.2h0.7M463.6,244.8h0.9M529.3,229.4h0.9M516.8,261.6h0.7M497.2,242.1h1.2M497.6,258.9l0.9,0.9M532.1,272.0h0.9M372.9,231.2h0.9M413.2,251.2h1.2M468.5,253.6h0.9M539.9,266.1h1.2M382.9,229.3l1.2,1.2M379.1,244.7h0.9M472.0,238.2l0.7,0.7M477.9,243.2l0.7,0.7M396.1,272.4h0.9M386.6,249.5h0.9M400.2,247.6h1.2M464.8,237.8h0.7M369.8,271.9h0.7M482.5,261.9h0.7M358.0,260.8h1.2M366.6,251.0h1.2M353.8,267.4h1.2M444.3,250.3l0.9,0.9M412.4,249.1h0.9M358.1,233.8h0.7M427.4,273.1h0.7M422.8,231.8h1.2M466.1,255.3l1.2,1.2M476.8,244.4h0.7M468.9,229.0h0.7M412.5,236.2h0.7M405.6,274.2l0.9,0.9M532.7,228.4h1.2M405.1,236.9h1.2M492.6,269.0l0.7,0.7M366.4,259.5l0.9,0.9M428.9,256.9h0.9M378.2,259.3h0.7M386.8,246.3h0.9M459.5,234.3h1.2M359.6,266.3h1.2M470.9,229.5h0.9M353.8,239.0h0.9M376.8,256.8h1.2M421.8,233.5l1.2,1.2M468.1,253.7h0.7M429.5,226.5h1.2M366.5,253.1h1.2M431.0,250.8h1.2M447.5,252.4h1.2M480.5,248.1l0.9,0.9M505.0,234.0h1.2M355.3,245.1h0.9M442.4,248.4h0.7M523.7,270.0h1.2M366.1,248.5h1.2M521.8,254.4h0.9M485.4,227.7h0.7M493.8,274.0h0.7M376.1,242.1h1.2M517.9,270.8h0.7M476.0,266.2h1.2M349.6,240.2h1.2M532.4,231.3h0.7M497.7,240.3h1.2M349.3,247.7h0.7M411.8,268.9l1.2,1.2M488.6,238.0h0.7M349.5,261.6h0.7M526.2,228.3l0.7,0.7M542.6,240.0h1.2M363.6,260.3h0.7M449.8,256.6h0.7M528.3,262.7h1.2M362.8,275.5l1.2,1.2M495.2,271.3h0.7M528.9,261.6l1.2,1.2M463.7,231.9l0.9,0.9M441.2,267.2h0.7" stroke="#b4b4b4" stroke-width="0.9" fill="none"/>
<path d="M402.8,272.6h1.2M350.1,250.2l0.9,0.9M382.1,245.0l0.7,0.7M497.8,234.5h1.2M427.3,267.4h1.2M376.9,256.8l0.9,0.9M491.0,259.9h0.7M394.3,244.2h0.9M530.3,234.1h1.2M489.7,244.0l0.7,0.7M366.5,261.8l0.7,0.7M458.0,271.4h0.9M454.7,254.0l0.9,0.9M372.9,251.5h0.7M452.6,239.2l1.2,1.2M473.3,234.8h0.7M477.3,231.1l0.7,0.7M512.2,225.6l0.7,0.7M541.6,263.1l0.7,0.7M451.1,241.7l0.9,0.9M497.3,236.5h0.7M365.3,266.9h0.9M480.6,259.9l0.9,0.9M487.7,257.7l0.9,0.9M364.3,239.8h1.2M503.6,258.8l1.2,1.2M510.4,227.1l1.2,1.2M460.2,227.3h0.7M529.0,272.6h0.9M379.4,243.2h0.9M387.9,244.0h0.7M367.9,227.6h0.9M492.0,253.3l0.7,0.7M386.6,228.4h0.9M363.9,238.6l0.7,0.7M372.1,243.0h0.9M500.0,238.1h0.7M395.6,247.6h0.7M455.9,238.3h0.7M542.4,231.1l0.7,0.7M365.1,225.0h0.7M536.1,269.2h0.7M474.9,254.5h1.2M382.7,228.0h1.2M468.2,248.5h0.7M500.2,236.2h0.7M388.6,235.2l0.7,0.7M371.5,245.1l1.2,1.2M459.9,272.9h0.9M478.5,232.4h0.7M461.9,263.9h0.9M359.0,242.2h0.9M362.6,256.4h0.7M508.0,248.5l0.7,0.7M443.9,251.1l1.2,1.2M389.8,225.3h0.7M436.3,241.7h0.9M487.4,227.0h0.7M359.4,258.2h0.9M439.0,261.0h1.2M351.5,258.2h0.9M377.0,251.7l0.7,0.7M421.2,265.9l0.9,0.9M491.3,270.3l0.9,0.9M378.8,262.7l1.2,1.2M409.3,268.1h0.9M467.0,244.5h0.7M474.5,243.8l0.7,0.7M393.9,229.3h0.7M383.8,248.0h0.9M489.9,240.2h1.2M351.4,254.7h0.7M429.6,228.9h1.2M359.8,245.7h0.9M346.6,269.2h1.2M350.5,231.2h1.2M462.3,235.3l1.2,1.2M455.4,245.6l0.9,0.9M387.4,252.2l1.2,1.2M383.9,232.5h0.9M382.8,240.5h0.7M490.0,241.5l1.2,1.2M488.9,242.5h0.9M417.0,268.2h1.2M504.4,246.9h0.9M348.4,252.5h1.2M367.5,237.3h0.7M401.6,249.7l0.7,0.7M352.4,249.8l0.9,0.9M514.4,241.0h0.9M477.2,253.6h0.9M507.3,275.4h0.9M455.5,265.6h0.7M432.1,261.7h0.7M357.4,237.5h0.7M531.4,275.8h1.2M472.8,238.5h0.9M437.5,261.3h0.9M480.0,252.8h0.7M522.7,248.4h1.2M454.3,263.6h0.7M407.5,247.8h0.9M456.1,273.2h0.9M476.8,237.9h0.7M368.6,254.4h1.2M539.0,229.8l1.2,1.2M453.8,242.7h0.9M362.8,248.8h0.9M389.9,235.0h1.2M383.8,228.6h0.9M392.1,235.5l0.9,0.9M509.0,245.2h0.7M486.6,230.1h0.7M345.2,226.3h0.7M510.9,251.7l1.2,1.2M488.7,230.6h1.2M393.8,272.0h1.2M424.2,260.8h0.9M479.6,261.9h1.2M430.2,262.2h1.2M347.8,252.5h0.9M431.2,255.6h0.7M378.8,226.9l0.7,0.7M423.3,254.9h0.7M381.3,264.6h0.7M478.2,255.7l0.7,0.7M431.8,275.5h0.7M392.8,254.5l1.2,1.2M502.3,266.1h0.9M376.2,273.6h1.2M425.8,247.7h1.2M515.2,235.0h0.9M463.8,253.1h0.9M449.9,241.1h1.2M411.6,245.7h0.7M378.5,250.5h0.9M509.0,253.5h0.9M380.7,240.4l1.2,1.2M368.4,232.4h1.2M413.5,249.2l0.9,0.9M413.4,262.0h0.7M523.0,237.8l1.2,1.2M344.9,265.5h0.7M402.4,268.8h0.9M378.7,270.6h0.7M496.6,253.6h0.7M404.0,248.0h0.7M385.9,226.0h0.9M450.2,235.7h0.7M504.7,262.8h1.2M408.9,255.0l0.7,0.7M477.4,239.0h0.9M541.8,239.6l1.2,1.2M422.8,250.1l0.7,0.7M485.6,243.7h0.7M371.6,266.6h0.9M363.8,273.0h0.9M461.0,261.4h1.2M381.5,246.7h0.9M444.4,261.4h0.7M455.8,274.7h0.9M423.7,244.6h0.7M376.4,228.8h1.2M382.9,239.1h0.7M418.1,229.4h0.9M529.1,257.5h0.9M432.8,248.0h0.7M442.2,241.4h1.2M460.7,236.4h1.2M349.8,267.7h0.9M536.0,267.5h1.2M534.5,256.6h1.2M475.0,249.9h1.2M367.5,255.1h0.7M393.6,254.0h0.7M495.4,256.0h0.9M389.4,260.6h1.2M455.2,264.2h0.7M375.4,231.0h1.2M509.5,275.1h0.7M529.4,224.4l0.7,0.7M434.4,226.8h1.2M486.1,264.7h1.2M518.3,227.6h0.9M518.0,265.3h0.9M429.2,249.7l0.7,0.7M483.4,257.3h0.7M439.9,243.9h0.9M405.5,250.8h0.9M421.6,235.8l1.2,1.2M493.0,263.5h1.2M427.4,233.0h0.9M403.7,270.7l1.2,1.2M374.8,251.4l0.9,0.9M441.0,225.9h1.2M418.1,275.1h0.7M376.1,263.6h0.7M454.5,244.0l0.7,0.7M481.4,246.4h0.9M455.7,248.8h1.2M350.4,252.3h1.2M437.6,270.1h0.9M426.5,238.9l1.2,1.2M363.6,237.1h0.9M434.7,270.3h0.9M499.0,265.4l0.9,0.9M368.2,233.4h0.7M525.3,236.8h1.2M438.9,226.4l0.7,0.7M364.8,264.7h0.9M360.2,268.6h0.7M431.4,254.9h0.9M522.4,258.5h0.7M416.2,270.6h0.9M379.2,264.4h0.7M412.7,266.8h0.7M431.9,230.2h1.2M458.0,230.8h1.2M430.2,253.2h1.2M390.8,265.5h0.7M412.4,253.8h0.7M505.7,233.5h1.2M468.0,257.2h0.7M408.3,234.7h1.2M523.0,250.8h1.2M433.0,261.7h0.9M386.9,241.3h0.9M438.7,244.6h0.7M527.1,237.1l1.2,1.2M411.1,259.4h0.7M492.7,233.8l0.7,0.7M507.6,252.6l1.2,1.2M402.2,238.6h1.2M429.7,236.6l0.9,0.9M415.1,270.1l1.2,1.2M383.9,265.8h0.9M413.9,233.8h0.9M393.6,232.6h0.7M446.4,231.1h1.2M369.7,244.0l1.2,1.2M417.8,265.0h1.2M363.8,269.4l0.9,0.9M363.9,233.4h0.9M355.5,260.9h1.2M495.1,252.9h0.9M519.9,265.6l1.2,1.2M497.2,232.2h0.9M486.0,266.8h1.2M457.5,240.8h1.2M412.1,244.9l0.7,0.7M427.5,271.7h1.2M441.3,233.2h0.9M542.5,251.8h0.9M359.4,251.7h0.7M529.6,273.1h0.7M411.6,251.7l0.9,0.9M536.7,272.1h1.2M507.0,248.7h0.9M426.1,254.7l0.7,0.7M494.0,255.1l0.9,0.9M431.5,275.2h0.9M438.7,232.5h0.9M530.7,230.6h0.9M512.1,227.1h0.7M504.8,229.7h1.2M477.9,256.8h1.2M389.3,240.9h0.9M535.2,248.3h0.7M440.0,271.2l1.2,1.2M376.3,252.2h0.9M467.0,259.0l1.2,1.2M347.7,267.5h0.7M536.6,272.4h0.9M396.0,253.8h0.7M385.5,233.7h0.7M463.7,228.3h0.7M428.0,274.0h1.2M426.3,238.0h0.9M455.4,274.4h0.7M427.0,249.5h1.2M516.1,275.4l0.7,0.7M463.8,235.7l0.9,0.9M400.8,229.6h1.2M372.4,261.3h0.9M529.0,226.8l0.9,0.9M421.5,247.4h1.2M406.7,240.9l0.7,0.7M365.2,236.3h0.7M497.6,274.1h0.7M432.9,241.1l1.2,1.2M454.7,226.5l0.9,0.9M502.3,252.4h0.9M430.6,254.0l0.7,0.7M394.8,267.4h0.7M466.8,237.7h0.7M458.0,272.0l0.9,0.9M359.5,269.1h0.9M372.9,252.1h1.2M388.5,253.3h0.9M542.3,240.7h0.9M474.5,259.1h0.7M445.4,227.8h0.7M539.6,258.0h1.2M454.5,263.7h0.9M373.5,227.3h0.7M356.6,225.3h0.9M384.7,229.2h0.7M481.8,235.2h0.9M448.9,269.1l0.7,0.7M459.2,233.2h0.9M449.5,228.5l0.9,0.9M427.4,244.9h0.7M382.2,231.0h0.7M352.3,259.1h0.7M404.0,246.5h1.2M400.2,258.8h1.2M402.3,247.8h1.2M537.6,246.0h0.7M413.7,255.8h0.7M479.7,254.1h0.7M416.7,273.1h0.7M362.0,264.2h0.9M519.7,236.4h0.9M517.7,256.0l0.9,0.9M400.2,246.3h1.2M438.2,272.8h1.2M459.4,242.1h0.7M366.8,253.1l1.2,1.2M438.8,235.3h0.7M440.0,228.4h1.2M461.4,228.9h1.2M501.0,225.4h1.2M451.5,248.0h0.7M476.4,271.6h0.7M512.8,275.1l1.2,1.2M369.0,261.4l1.2,1.2M357.9,243.2h0.7M461.9,273.6l0.7,0.7M442.6,258.8h1.2M531.8,271.6l1.2,1.2M526.3,239.4h0.7M430.7,251.6l1.2,1.2M361.8,261.6l0.7,0.7M397.3,262.9h1.2M445.9,255.3h0.9M397.8,255.6h0.9M415.9,270.9h0.9M503.9,267.8h0.7M360.6,226.5l0.7,0.7M491.6,252.7l0.9,0.9M504.1,247.8h1.2M353.1,246.3h0.9M414.7,249.5h0.9M490.0,243.3h0.7M495.3,245.6h1.2M402.7,237.8l0.7,0.7M498.1,254.7h0.7M488.4,258.6h0.9M524.3,257.0l1.2,1.2M373.3,235.5h0.7M530.2,253.0h0.9M529.5,233.8h1.2M453.8,273.9l0.7,0.7M446.7,272.4l1.2,1.2M437.3,260.7h1.2M355.6,244.5h0.7M423.6,250.3h0.9M514.1,225.9l0.9,0.9M361.0,251.2h0.7M477.8,246.9h0.9M534.2,273.6h0.7M499.6,241.4h1.2M380.3,274.9l1.2,1.2M430.7,227.2h0.7M459.9,249.3l0.9,0.9M414.2,251.2h0.7M372.0,237.9h0.9M538.3,234.8h0.7M442.3,275.8l0.9,0.9M374.6,253.4h0.9M415.4,259.0h0.9M430.6,238.3h1.2M531.6,237.0l1.2,1.2M465.1,264.8h1.2M426.8,275.1h0.7M457.9,260.7h0.9M420.1,264.0h0.9M374.5,272.8h0.9M407.4,227.7l1.2,1.2M389.6,231.2h1.2M440.4,263.4h0.9M436.2,235.2h0.7M405.9,231.0h0.7M403.0,229.7h0.9M402.5,229.0h0.9M388.6,266.0h0.9M423.9,246.0h0.9M508.5,271.7l0.7,0.7M499.8,259.0h0.9M487.0,263.1l1.2,1.2M420.0,255.0h0.9M448.5,257.6h0.9M487.4,255.3l1.2,1.2M426.7,263.9h0.7M427.7,253.8h0.7M418.4,257.3h1.2M512.1,240.7h0.7M375.4,229.2h0.9M501.6,270.3h0.9M404.6,241.1h0.9M449.1,263.7h1.2M354.8,259.9h1.2M521.5,249.8h1.2M514.2,274.7h0.9M444.9,268.6l0.9,0.9M355.7,231.9h0.7M504.4,230.1l1.2,1.2M454.2,230.1l0.9,0.9M444.3,255.0h0.7M370.9,226.9l0.9,0.9M379.3,265.7h0.7M511.0,240.4l0.9,0.9M527.7,252.9h1.2M531.9,232.1h0.7M483.6,265.9h0.7M362.6,270.7h0.9M444.3,272.8h1.2M353.5,230.2h0.7M472.0,234.4h1.2M515.1,254.6h0.7M467.3,264.5h0.9M354.9,228.3l0.9,0.9M407.4,228.1h0.9M493.7,250.3h1.2M494.0,255.7l0.9,0.9M427.3,241.6l1.2,1.2M526.6,265.3l0.7,0.7M348.7,232.4l0.7,0.7M409.6,251.2h0.7M382.8,266.3l0.7,0.7M401.5,269.7h0.9M427.1,260.8h1.2M444.3,236.4h0.9M444.5,227.0l1.2,1.2M484.2,232.2l0.7,0.7M454.3,252.3l1.2,1.2M492.3,265.8l0.7,0.7M541.5,258.2h0.9M366.2,257.2h0.9M403.4,233.8h1.2M485.7,271.4l1.2,1.2M365.6,235.7h0.7M468.2,237.4h0.7M415.4,266.4h0.9M386.3,258.7l0.9,0.9M412.9,259.2h0.9M444.3,251.2h1.2M379.6,252.2h0.9M390.7,260.8h1.2M347.6,245.1h1.2M353.6,270.2h1.2M430.2,256.1h1.2M439.0,256.7h0.7M355.2,248.1h0.7M436.0,266.5l0.9,0.9M537.3,268.6h0.7M486.2,231.9h0.9M429.6,227.2h1.2M536.6,226.4h1.2M509.0,236.2h1.2M437.6,236.9l0.9,0.9M451.4,236.5h0.9M432.4,269.6h0.9M371.0,242.6h1.2M488.5,253.8l0.7,0.7M407.2,233.8h0.9M448.3,236.7l1.2,1.2M413.6,228.7h1.2M481.0,233.6l1.2,1.2M454.6,258.3l0.9,0.9M380.3,247.0l0.7,0.7M364.7,240.9h0.9M451.7,231.4h1.2M370.3,257.8h0.7M388.1,255.6l0.7,0.7M418.0,253.3h0.9M369.4,233.7h0.9M453.5,235.1h1.2M355.5,248.4h0.9M462.1,256.5h1.2M425.7,230.2h0.9M501.9,270.4h0.9M456.6,256.1h0.7M373.9,254.9l1.2,1.2M500.6,261.3h1.2M472.4,254.7h0.9M366.9,241.5l1.2,1.2M478.7,247.3l0.9,0.9M386.9,244.4h0.9M398.0,243.3l0.9,0.9M511.4,227.8h0.9M524.6,266.6h0.9M529.1,271.3l1.2,1.2M361.2,259.5h0.9M382.3,268.9h0.7M397.5,251.7h0.7M456.5,241.6h1.2M497.8,250.0h0.7M505.9,251.2l0.7,0.7M386.7,228.7l0.7,0.7M434.0,256.4h0.9M368.5,252.5h0.7M368.1,237.1h0.7M520.8,254.5l1.2,1.2M403.3,257.5h0.7M438.0,259.1h0.7M414.4,253.7l0.9,0.9M472.6,263.7l0.9,0.9M449.9,236.0h0.9M516.1,258.7h0.9M497.7,229.9h0.9M384.0,244.2h1.2M441.5,258.3h0.7M502.5,238.8h1.2M402.7,250.7l1.2,1.2M406.1,232.6h1.2M521.6,250.4h1.2M388.3,226.1h0.9M497.0,267.0h0.7M411.6,243.6h1.2M432.0,275.2h0.7M502.8,266.5h1.2M491.8,263.4l1.2,1.2M434.3,275.3h1.2M540.8,229.8h0.9M499.7,245.1l1.2,1.2M525.7,243.0h1.2M487.5,249.2h0.9M367.5,248.5l1.2,1.2M457.2,260.1h0.9M412.5,236.7h0.7M449.9,275.4h0.9M355.2,228.6l1.2,1.2M420.9,248.1h0.7M413.9,272.3h0.9M393.1,264.0h0.7M450.6,258.4h1.2M361.5,228.2h1.2M474.6,238.9l0.9,0.9M430.1,250.6h0.7M482.9,261.2l0.9,0.9M419.5,235.4h1.2M390.7,238.0l0.9,0.9M376.2,271.5l0.9,0.9M479.8,243.3h1.2M532.9,229.0h0.9M541.4,274.1h0.9M478.1,232.4h0.9M444.7,228.5h0.9M525.7,252.7h0.7M397.0,260.9l0.7,0.7M449.5,252.1h0.9M350.6,225.1h1.2M362.4,252.6l0.7,0.7M432.0,267.7l0.7,0.7M368.4,242.6l0.9,0.9M518.8,225.3h0.7M352.1,235.6l0.9,0.9M494.2,247.0h0.9M474.8,271.8h0.7M501.0,263.6h0.9M537.2,230.6h0.7M357.8,259.2h0.9M497.8,236.3h1.2M397.5,275.2h0.9M490.4,257.4h0.7M395.2,274.4h1.2M448.6,225.9h0.9M426.4,244.4h0.7M491.8,261.8h1.2M361.5,229.9h1.2M456.1,267.0h1.2M514.4,243.5h0.7M396.8,230.2h0.7M371.9,252.0h0.7M499.4,275.7h0.9M538.1,252.9h0.9M405.1,237.4h0.7M512.2,225.0h0.7M393.8,230.4l0.7,0.7M371.7,251.8h1.2M423.7,247.2h0.7M541.7,271.6l0.9,0.9M423.1,257.4h0.7M375.2,268.4h1.2M395.2,245.5h0.9M540.9,259.4h0.9M434.1,259.4h0.9M509.2,240.7h0.9M347.6,226.7h0.7M344.6,231.2h1.2M533.6,259.9l0.7,0.7M521.5,251.6l0.7,0.7M385.8,235.8l0.7,0.7M475.9,236.5h0.9M466.3,240.0h1.2M481.8,243.1l0.9,0.9M534.3,268.8h0.7M424.9,265.4h0.7M503.9,270.6h0.7M445.0,271.6h0.9M468.0,260.8h0.9M372.6,254.7l0.7,0.7M460.5,255.9h0.9M413.2,236.1h0.9M453.3,236.0l1.2,1.2M434.3,253.3l0.9,0.9M541.2,267.6h0.7M443.9,233.0h1.2M469.5,255.3l0.9,0.9M410.8,237.4l1.2,1.2M461.6,265.3h0.9M424.1,258.8h1.2M379.7,229.2h0.7M403.1,254.2h0.9M435.5,231.0h0.9M426.8,258.2h0.7M425.9,243.9l0.7,0.7M491.7,260.8h0.9M442.1,239.3h0.7M522.6,270.3h0.9M443.6,248.6l0.7,0.7M417.5,270.3h1.2M368.4,272.4h0.9M368.9,267.7h1.2M435.0,253.7h1.2M443.1,270.0h0.9M441.5,264.9h1.2M488.5,242.9l0.7,0.7M496.6,237.6l1.2,1.2M443.8,245.0l0.7,0.7M388.9,259.8l0.7,0.7M525.8,259.0l0.9,0.9M369.3,242.9h0.9M392.1,241.7h0.7M494.2,244.6l0.9,0.9M378.7,275.2h1.2M513.6,254.0l0.7,0.7M452.1,234.2h1.2M530.8,249.1h0.7M448.7,255.5h0.7M378.6,257.6h1.2M448.1,249.7h0.7M422.4,230.3h0.7M429.8,226.9h0.9M515.6,261.9h0.7M508.7,246.8l0.9,0.9M366.7,249.7l0.9,0.9M517.4,227.7h0.9M348.6,260.4h0.9M505.0,224.6l1.2,1.2M526.7,258.2h0.7M445.8,231.3h1.2M488.5,265.0h1.2M362.8,265.3h1.2M440.9,226.9l1.2,1.2M527.0,239.1h1.2M433.7,266.1h0.7M418.4,252.9l0.9,0.9M354.6,254.9h0.9M449.8,257.1l1.2,1.2M441.5,247.6h1.2M524.5,263.1h1.2M441.6,267.9h0.9M430.6,232.9l0.7,0.7M378.1,269.6l1.2,1.2M536.9,243.5h1.2M359.2,228.6l0.9,0.9M380.9,262.6h0.9M436.0,234.7h0.9M493.0,226.1h0.7M375.0,242.8h1.2M535.4,237.3l0.9,0.9M409.9,269.2h0.9M497.0,252.6l0.7,0.7M540.1,234.2l0.9,0.9M443.4,227.3h0.9M354.9,256.7l0.9,0.9M484.7,274.4l1.2,1.2M516.6,242.1l0.9,0.9M510.1,234.0h0.7M355.2,272.8h0.9M457.4,266.0h0.7M451.6,228.7h0.7M486.0,242.3l0.9,0.9M465.2,231.7h1.2M386.0,231.7h1.2M519.3,237.2h1.2M383.7,263.3h0.9M406.7,248.4h0.9M463.8,254.4h0.7M441.0,225.8h1.2M372.3,257.8l0.9,0.9M470.3,239.8h0.7M476.6,256.9h0.9M393.2,239.5h0.9M402.4,248.2h1.2M493.6,242.1h0.7M353.9,245.2l0.7,0.7M464.9,226.2h0.7M355.5,263.6l0.9,0.9M430.1,274.6h0.7M521.8,225.4h0.9M376.0,272.5h1.2M358.6,243.2l1.2,1.2M437.9,234.8h0.7M537.5,253.9h0.9M538.0,248.2h1.2M518.0,271.7h0.9M512.9,247.3h0.9M458.5,246.3l1.2,1.2M348.7,267.7h1.2M354.2,248.4h1.2M462.8,275.1h0.7M391.6,260.0h0.7M383.1,228.9l0.9,0.9M533.2,271.0h1.2M375.7,252.0h0.7M383.8,270.3h1.2M494.0,265.5h0.9M482.2,241.4l1.2,1.2M346.2,262.0h1.2M401.3,225.4h0.9M387.9,261.3h0.9M371.2,237.3h0.9M378.5,272.5l0.9,0.9M473.3,227.0h0.7M474.8,250.7l1.2,1.2M379.3,245.3h0.9M362.7,256.0h0.7M439.6,259.0h1.2M379.5,243.2h1.2M348.4,247.0h0.9M517.4,234.0h1.2M364.8,228.3l0.9,0.9M501.9,243.6l1.2,1.2M442.3,231.9l0.9,0.9M382.2,251.4l0.7,0.7M517.3,227.2h1.2M392.2,234.6h0.7M356.6,231.3h0.9M480.2,227.7l0.9,0.9M469.2,259.6h0.7M502.1,255.0h1.2M368.3,234.1l1.2,1.2M514.6,263.4l0.7,0.7M440.7,238.1h0.9M517.8,273.1h0.9M345.6,225.8h0.9M454.8,256.0h0.9M442.8,270.2h0.7M463.4,230.8h0.9M502.3,235.6h0.7M385.2,239.1h1.2M438.1,240.3h0.7M389.5,242.3h0.7M541.4,263.4h0.9M534.4,239.5h0.7M476.3,230.0h0.7M378.8,249.7h1.2M462.2,237.6h0.9M404.4,256.6l1.2,1.2M454.1,258.7l0.9,0.9M520.1,227.8h0.7M430.6,244.1l0.9,0.9M450.2,238.5l0.9,0.9M422.1,270.3h0.9M429.6,228.9l0.7,0.7M472.8,246.9h1.2M387.7,259.0h0.9M409.5,245.1h1.2M504.6,258.8h0.7M346.8,232.1h1.2M482.5,231.3h1.2M539.0,242.3h0.9M368.6,231.4l0.7,0.7M428.1,270.0h0.7M370.9,252.0h0.9M520.3,233.7l0.7,0.7M352.8,263.7h0.7M434.0,243.6h1.2M527.1,244.1l0.7,0.7M350.7,224.4l0.7,0.7M354.4,252.3h0.7M482.9,238.9h0.7M471.4,275.5h0.7M516.7,257.3l0.7,0.7M477.8,229.1h0.7M356.1,275.8h0.9M350.7,259.8h0.7M366.5,256.9h1.2M398.8,262.9l0.7,0.7M444.5,273.6h1.2M482.4,242.8h0.7M381.7,241.9l0.7,0.7M406.3,242.3l1.2,1.2M520.0,263.5l0.7,0.7M488.1,241.1l0.7,0.7M402.1,273.7h1.2M440.5,264.4h0.9M399.3,270.0h0.9M413.1,229.1h0.7M350.2,249.9h0.9M482.5,234.6l0.9,0.9M451.8,239.6h0.7M412.8,271.8h1.2M409.7,231.6h0.7M373.5,263.4h0.7M510.1,243.7h0.9M400.6,258.7h0.9M397.7,245.4l0.9,0.9M371.4,244.6h1.2M377.0,272.0l0.7,0.7M482.7,233.7h0.9M429.5,248.4h1.2M376.1,268.3l0.9,0.9M480.2,242.2h0.7M352.8,236.7h0.7M437.9,238.8h0.9M399.4,274.0h0.9M492.4,244.8h0.7M356.0,231.0h1.2M424.2,264.5h1.2M512.9,232.7l0.9,0.9M385.5,253.7h0.7M418.2,228.4h1.2M416.1,261.8h0.9M391.0,230.8h0.7M529.7,225.8h0.7M446.3,236.0l0.9,0.9M495.0,255.7h1.2M497.0,247.0h0.9M498.6,239.3h1.2M526.4,240.8h0.7M399.8,262.1l1.2,1.2M445.0,258.8h0.9M412.2,225.2h0.9M463.8,262.7h0.9M458.3,256.4h0.7M423.0,265.1h0.9M383.9,254.6h1.2M432.0,234.2h1.2M438.4,251.9h0.7M508.0,236.9l1.2,1.2M399.3,244.2h1.2M405.3,243.4h0.9M354.3,261.1h0.9M412.2,231.0h0.7M537.8,250.3h0.7M488.1,253.1h0.9M423.0,269.8l0.7,0.7M450.6,234.5h0.7M471.2,254.6l0.9,0.9M472.5,273.4h1.2M443.6,253.6h0.9M391.3,254.4l0.9,0.9M369.9,234.4h0.9M465.8,238.6h0.7M406.1,239.0l0.7,0.7M349.1,254.9h0.9M365.4,273.1h1.2M380.8,228.5h0.7M504.1,247.6h0.7M390.4,262.7h0.9M520.7,235.9h0.7M540.2,241.6h1.2M522.9,255.5h1.2M513.8,268.5h1.2M526.8,269.7h1.2M519.6,248.6h0.9M351.7,272.6l0.9,0.9M422.5,243.1h0.7M438.6,273.0h1.2M393.9,234.9l1.2,1.2M477.1,275.2h1.2M405.4,273.1h0.9M426.9,258.4h0.7M353.7,258.6h0.7M532.2,243.2h1.2M404.4,242.9h1.2M469.2,252.9h0.9M505.0,233.1h1.2M482.9,246.5l1.2,1.2M398.3,248.2h1.2M348.3,269.7h1.2M381.2,247.1h0.7M524.5,245.6h1.2M538.7,224.6h0.9M358.9,251.2h1.2M474.9,225.9h0.9M404.9,253.8h0.9M384.5,274.7h0.9M415.2,247.2h1.2M361.4,269.7h0.7M479.0,263.7l0.7,0.7M398.8,235.9h0.9M366.0,236.6h0.7M355.7,249.3h0.7M436.1,232.8h0.9M528.9,242.9h1.2M405.1,229.5l0.9,0.9M388.9,258.9l0.9,0.9M383.4,225.5l0.7,0.7M502.0,247.2h0.9M484.7,245.7l1.2,1.2M434.7,252.4h0.9M486.9,262.4h0.7M490.8,236.0h1.2M388.1,252.2h0.9M491.9,231.0h0.7M462.6,247.0h0.7M442.5,260.3h0.9M483.4,244.1h1.2M511.0,272.1h0.7M482.4,241.6h0.9M531.7,224.5h1.2M539.7,257.5h0.7M405.6,262.5h0.7M441.4,253.7h0.9M355.7,228.7l0.7,0.7M370.6,246.3h1.2M509.5,235.7l0.9,0.9M349.1,231.7h0.9M421.3,250.9h0.9M375.0,252.9h0.7M446.6,237.9l1.2,1.2M371.0,234.1l0.7,0.7M412.3,238.7h1.2M488.8,266.4l0.9,0.9M426.1,255.7h0.9M449.5,259.9h1.2M441.3,272.3h0.7M392.9,229.0l1.2,1.2M453.9,260.9h0.7M526.4,272.1h1.2M394.3,266.6l0.9,0.9M425.6,258.8h1.2M427.6,237.2h0.7M473.0,239.3h0.9M445.6,230.6h0.7M427.2,254.8l1.2,1.2" stroke="#858585" stroke-width="0.9" fill="none"/>
<path d="M462.6,225.8h0.7M371.0,247.6h0.7M509.1,264.8l0.7,0.7M369.5,234.5h1.2M470.6,260.7h0.7M515.3,275.4h1.2M464.6,230.2h1.2M492.2,225.3l0.7,0.7M376.8,273.1h1.2M417.3,251.9l0.7,0.7M367.5,247.9h0.7M377.2,242.7l0.7,0.7M418.6,268.3h1.2M467.6,235.3h0.7M428.3,228.3h0.9M490.2,242.7l0.9,0.9M431.2,233.2l1.2,1.2M376.9,227.5h1.2M488.9,241.8l0.7,0.7M501.9,247.5h0.7M529.5,235.3h0.7M516.9,259.6h1.2M381.2,266.1h0.9M452.0,271.3h0.9M533.6,240.2h0.9M446.7,274.5h1.2M427.8,250.7l0.7,0.7M511.0,263.9h0.9M479.4,225.8h1.2M473.1,229.2h1.2M428.5,240.1h0.7M528.5,254.5h0.7M441.3,234.2h1.2M402.4,272.5l0.7,0.7M542.0,240.6h1.2M368.1,256.7h0.9M411.7,245.9h0.9M472.2,255.3l0.7,0.7M389.7,256.5h1.2M541.3,228.8h0.7M485.8,229.3h0.7M376.6,258.4h0.9M390.6,265.0h0.7M390.0,228.6l1.2,1.2M389.6,228.8h1.2M519.6,243.9h0.9M353.5,229.0h0.9M375.0,271.7l1.2,1.2M394.6,228.6h0.7M493.1,247.5h0.7M436.5,249.3l0.9,0.9M427.0,225.9h1.2M498.6,275.5h0.7M397.6,264.9h0.9M532.6,235.5h0.7M392.2,254.8h1.2M476.7,228.8l0.9,0.9M461.6,256.7l1.2,1.2M423.5,270.5h0.9M459.5,230.4h1.2M491.3,271.8l1.2,1.2M367.7,246.7l0.9,0.9M437.3,271.4h1.2M502.7,238.3h0.9M475.7,259.6h1.2M407.0,249.7h0.7M448.2,230.9h0.9M496.1,248.5h0.9M420.7,265.7h0.9M444.8,275.2h1.2M489.0,234.8l0.9,0.9M474.5,254.6h1.2M487.5,244.6h0.7M530.6,238.9h1.2M482.9,265.4h0.9M506.5,260.6h0.7M428.7,235.3h1.2M473.6,272.0h0.9M360.0,271.2h1.2M356.1,252.7h0.7M534.4,262.5h0.9M514.4,227.1l0.9,0.9M468.8,247.6l0.7,0.7M494.8,248.6h0.9M506.5,268.6h0.9M436.1,274.2h0.7M471.7,241.7h0.7M482.4,275.5h1.2M387.4,253.5h0.7M396.8,258.8h1.2M358.5,233.0h0.9M407.8,262.6h1.2M410.1,230.9h1.2M446.0,254.3h0.7M501.5,263.6h0.7M459.7,236.5h0.7M516.8,237.6h0.9M516.3,244.0h0.7M390.0,228.7h1.2M389.8,232.3h0.9M522.6,242.9l0.7,0.7M451.2,226.8h0.9M450.1,256.8h1.2M534.2,238.5l0.7,0.7M478.4,246.3l1.2,1.2M459.7,258.7l0.9,0.9M350.9,228.4l0.9,0.9M436.4,226.3h0.7M347.6,249.3h0.9M504.5,249.0l0.7,0.7M518.3,246.6h0.9M467.1,243.5h0.7M415.4,228.5h0.7M467.9,227.9h0.7M448.8,274.2h1.2M356.6,238.9l0.7,0.7M451.1,254.6h0.9M373.4,258.6h0.7M438.4,255.2h0.9M411.9,233.3l0.9,0.9M538.8,262.6h0.9M522.9,247.5l1.2,1.2M424.7,228.9h1.2M518.0,253.3l0.9,0.9M351.7,235.1l1.2,1.2M347.1,249.6h1.2M529.0,245.1l0.7,0.7M352.9,234.1h0.9M428.0,233.5h0.7M487.6,273.5h0.7M346.3,229.9h0.9M525.6,228.9l0.7,0.7M536.5,248.7h0.7M432.9,247.7l0.9,0.9M422.0,256.2l0.9,0.9M389.1,233.0h0.9M383.9,261.2h0.9M488.2,275.0h0.7M375.3,253.5l1.2,1.2M428.6,240.3h1.2M446.5,243.0h0.9M383.2,267.5h1.2M500.8,267.8h0.7M402.2,246.1l1.2,1.2M407.1,250.3h0.9M462.7,236.7l1.2,1.2M487.5,261.8h0.7M535.2,273.6h0.9M535.8,228.5h0.7M539.2,265.6h1.2M353.1,231.1h0.7M427.9,254.1h0.9M499.5,243.3h0.9M503.7,267.5h0.9M373.9,242.0h0.7M535.9,244.7h0.9M466.8,274.0l0.9,0.9M412.5,259.9h1.2M504.8,237.4h0.9M520.4,250.9h0.9M520.3,264.3l0.9,0.9M391.0,256.2l0.9,0.9M428.5,231.0h0.9M450.3,242.3h0.9M523.8,228.4l1.2,1.2M379.4,245.5h0.7M482.9,245.3h0.7M388.4,237.8l0.7,0.7M375.3,249.6h0.9M407.2,233.7h1.2M456.9,251.8h1.2M454.2,232.3l0.7,0.7M390.1,251.2h0.7M424.5,244.8l0.7,0.7M430.6,232.4h0.7M461.1,242.7h0.9M451.3,255.1h0.9M400.0,272.6h1.2M412.4,263.8l0.9,0.9M470.8,267.8h1.2M352.4,272.9h1.2M496.3,256.0h1.2M422.7,226.8h0.7M370.6,269.5l0.9,0.9M364.7,267.4h1.2M537.1,261.5l0.9,0.9M448.4,260.5h0.9M540.7,258.5l0.9,0.9M464.6,258.4h0.9M421.3,230.6h0.9M495.0,252.9h1.2M438.7,234.4h1.2M368.3,262.6h1.2M356.9,264.8h0.7M520.8,240.7h1.2M532.6,273.6l1.2,1.2M472.1,247.0h0.9M460.0,231.2h0.7M448.5,237.9h0.9M535.0,253.9l0.7,0.7M522.1,253.0l0.7,0.7M479.0,246.8h0.9M398.4,247.6l0.7,0.7M478.1,226.6h0.7M362.7,249.0h1.2M380.2,270.3h0.7M391.4,255.1h0.9M530.7,242.4h0.9M452.5,233.3l1.2,1.2M432.2,259.8h0.9M382.0,244.1h1.2M531.1,271.5h1.2M411.8,226.6h0.7M358.2,233.8h0.7M464.6,272.0h0.9M391.8,273.5h0.9M516.5,253.1l0.7,0.7M462.5,254.1h1.2M423.6,256.9h0.9M492.1,235.9h1.2M535.1,248.9l0.7,0.7M393.0,254.4l0.9,0.9M447.7,262.9h0.7M390.5,270.7l1.2,1.2M453.8,275.1h0.9M380.5,232.3l0.7,0.7M418.1,231.9h0.9M540.0,232.7h0.7M346.4,254.0h1.2M468.8,259.4h0.9M404.2,275.2l1.2,1.2M428.2,255.5h1.2M520.1,251.8h0.7M465.2,265.5h1.2M375.9,234.3h0.7M356.0,239.4h0.9M461.5,265.2h0.9M428.5,264.7h0.7M381.1,254.0h0.7M402.1,252.0l1.2,1.2M357.9,266.4h1.2M389.3,234.9h0.9M402.6,270.6h0.9M505.5,248.8h0.7M360.5,261.6h0.7M399.4,256.6h0.9M362.0,242.2h1.2M417.7,232.2h1.2M348.1,240.9l0.9,0.9M451.7,234.2h1.2M399.0,238.4h0.9M397.2,255.3l1.2,1.2M442.1,274.2h0.9M399.8,245.6h0.7M349.2,244.0h0.9M413.0,268.8h0.9M501.8,247.2h0.9M387.0,265.6h0.9M451.8,224.4l1.2,1.2M404.0,240.8l0.7,0.7M505.0,258.8h0.7M519.7,275.6h0.7M347.7,264.0h0.9M394.3,263.2h0.7M530.1,275.5l0.7,0.7M384.1,272.1h1.2M472.9,272.6l0.9,0.9M346.0,261.6h1.2M463.7,230.0l0.7,0.7M476.8,246.8h1.2M538.2,236.1h0.7M408.8,258.2h0.7M485.5,243.6h0.7M425.6,245.8l0.7,0.7M446.4,243.8h0.7M372.3,247.6l0.7,0.7M362.7,233.6h0.9M440.9,248.9h1.2M449.1,256.0h1.2M405.9,241.3h1.2M459.9,247.5h0.7M444.0,267.8h0.9M410.1,257.5h0.7M414.0,265.9h1.2M388.5,237.5h0.7M502.5,231.2h1.2M391.4,263.6l0.9,0.9M485.3,231.1h1.2M413.7,227.0h0.7M383.7,254.2h0.7M426.5,249.9h1.2M368.2,269.5h0.7M408.4,233.5h0.7M366.3,261.5h0.7M533.7,272.8l0.9,0.9M367.6,236.0h1.2M423.1,234.8h0.9M411.4,230.2l1.2,1.2M371.2,255.2h0.9M355.8,226.1h1.2M487.5,260.0h0.9M452.6,246.0l1.2,1.2" stroke="#5a5a5a" stroke-width="0.9" fill="none"/>
<rect x="344.20" y="223.60" width="199.50" height="52.80" fill="none" stroke="#1a1a1a" stroke-width="1.5" />
<rect x="905.50" y="223.60" width="49.90" height="52.70" fill="#fff" stroke="none" stroke-width="0" />
<path d="M940.0,266.3l0.7,0.7M946.7,252.6h1.2M920.0,262.6h1.2M922.1,266.2h0.9M931.9,235.5h0.7M906.4,264.1h0.9M916.6,249.5h0.7M938.1,270.4l0.7,0.7M938.2,233.1h0.9M927.6,239.4h0.7M953.0,252.0h1.2M928.3,263.2l0.9,0.9M936.5,250.6h0.9M913.1,226.3h0.9M937.7,266.1h1.2M909.2,262.2h0.7M948.9,225.4h0.9M911.5,233.9h0.9M937.3,264.0h0.7M922.0,240.8h0.7M927.0,245.7h1.2M909.8,271.6l0.7,0.7M916.8,245.3l1.2,1.2M917.3,225.5l1.2,1.2M945.3,230.5h1.2M923.9,240.5h1.2M923.9,268.9h0.9M953.8,252.4l0.7,0.7M934.7,272.9h0.7M934.2,266.0h0.9M943.6,250.3l0.9,0.9M930.0,242.0h0.9M915.4,232.7h0.9M935.9,248.2h1.2M920.2,233.3h0.9M944.1,249.8h0.9M919.7,264.6h1.2M953.9,264.0h1.2M917.1,248.8l0.7,0.7M906.2,239.8h1.2M938.1,270.1l1.2,1.2M920.9,244.7h0.9M939.7,264.9l1.2,1.2M930.5,258.5l0.7,0.7M951.3,270.2h1.2M947.5,255.9h0.9M950.2,249.0h1.2M947.3,231.3l0.9,0.9M944.8,251.6h1.2M928.7,237.7h1.2M913.1,265.8l0.7,0.7M921.1,246.0h0.9M948.7,237.8h0.9M917.1,256.4h0.9M952.7,271.1h0.7M948.8,239.8h0.9M923.4,232.2h1.2M921.1,256.2h1.2M907.0,272.1l0.7,0.7M929.8,259.3h1.2M930.2,251.0l0.9,0.9M925.7,237.7h0.9M908.6,238.6h0.7M922.4,267.4h0.7M941.2,262.5h1.2M906.5,269.6h1.2M938.1,231.1h0.9M945.8,255.4h1.2M943.4,247.8h0.9M923.7,232.3l1.2,1.2M930.5,244.2h1.2M925.7,269.3h0.7M914.4,264.8h0.9M931.6,269.6h1.2M924.2,245.6l1.2,1.2M921.3,237.8h1.2M946.8,236.3h0.7M938.6,247.0h0.7M915.9,232.7l0.9,0.9M946.4,269.6l0.9,0.9M942.2,247.9h0.7M936.1,271.7l0.7,0.7M914.8,266.6l0.7,0.7M924.4,262.5h0.7M919.0,228.8h1.2M917.0,234.4h1.2M948.8,234.5h0.9M928.1,235.8h0.7M942.0,245.9h0.7M922.8,237.8h0.7M932.9,253.6h0.7M949.4,251.1l0.7,0.7M914.6,247.8h0.9M937.6,270.0h0.7M916.4,255.6h0.9M939.1,245.8l0.7,0.7M922.7,249.5h1.2M948.7,246.1h0.7M952.8,230.5h0.7M940.2,253.1h0.7M943.6,249.2l0.7,0.7M932.0,271.6h0.7M923.7,251.6l0.7,0.7M909.8,249.6h1.2M941.1,236.9l0.7,0.7M928.3,234.0h0.9M944.9,224.8l0.9,0.9M944.3,249.7h1.2M927.1,263.5l1.2,1.2M932.6,247.2h0.9M906.1,260.6l0.9,0.9M947.9,238.0l1.2,1.2M933.2,253.9h0.7M928.5,244.8h0.9M909.5,254.8l0.7,0.7M913.9,270.6h0.7M923.6,259.5h0.9M930.2,270.0h0.9M951.5,235.8h0.7M950.5,263.7h0.7M929.0,263.6l1.2,1.2M910.2,259.8h0.9M912.0,231.7l0.9,0.9M935.8,251.1h0.7M913.4,271.7l0.7,0.7M924.2,246.7h0.9M943.8,239.9h1.2M933.7,240.0h0.7M935.6,258.3l0.7,0.7M948.6,232.8h0.7M926.3,234.2h0.7M935.4,266.2h1.2M931.6,272.3h0.7M913.9,269.1h0.9M916.3,237.3h1.2M919.3,244.2h0.7M932.2,238.7h1.2M946.0,262.1l0.7,0.7M944.6,257.4h1.2M907.6,251.3h0.9M929.2,241.3h1.2M942.8,238.6h1.2M938.7,251.2l0.9,0.9M951.1,242.2h0.7M946.7,255.9l1.2,1.2M931.5,260.0h0.9M927.5,245.8h0.9M914.1,260.2h0.9M925.5,224.6h1.2M923.3,259.5h0.7M925.8,249.3h0.9M933.0,237.5h1.2M939.6,250.0l0.7,0.7M917.5,272.9h0.7M916.1,260.9h0.9M922.8,259.7h1.2M952.1,262.5h0.9M911.1,247.7h0.9M917.5,245.2h0.9M953.9,273.1h1.2M925.2,266.5h1.2M952.5,233.8l0.9,0.9M934.0,271.9l0.9,0.9M948.5,268.9h0.9M937.6,247.1h0.7M945.6,275.5h0.7M949.2,260.3h1.2M940.3,232.6l0.9,0.9M940.6,251.8h1.2M909.7,272.9h0.7M924.1,239.2h1.2M918.2,226.4h1.2M932.9,258.1h0.7M926.0,250.3h0.7M911.1,260.0h0.7M929.2,252.7h0.9M927.2,257.8h0.9M919.9,268.8h0.7M923.3,237.3h0.9M946.7,233.3h0.7M912.5,264.4h0.9M939.7,258.4h0.9M936.2,228.9h0.9M938.7,264.4h0.9M921.4,250.6h0.7M953.8,241.0h0.7M918.0,256.4l1.2,1.2M936.1,224.2h0.9M944.7,266.6l0.7,0.7M913.0,245.4h0.9M938.5,275.2h0.7M912.8,250.0h0.9M930.0,233.5h0.9M941.4,259.6h0.7M935.1,269.7l1.2,1.2M915.2,265.1h1.2M946.6,274.2h0.9M948.4,273.0l0.9,0.9M920.8,259.1l1.2,1.2M928.2,244.9l1.2,1.2M945.0,260.6h0.9M939.3,264.5h0.9M928.7,225.3h0.7M925.7,235.5h0.7M922.3,230.4h0.7M912.9,247.9h0.9M943.7,226.4h0.9M914.4,225.6l0.7,0.7M915.8,267.2h0.7M910.2,228.3h1.2M923.6,241.3h0.9M907.2,239.8h0.7M922.9,269.8h0.7M928.0,255.9h0.7M908.2,274.7l0.7,0.7M936.6,271.0h0.9M931.5,238.5h0.7M914.5,263.0h1.2M951.4,237.5h0.7M912.3,249.5l0.7,0.7M940.6,264.8l1.2,1.2M913.6,262.2h1.2M939.9,261.3h1.2M923.6,248.6h0.9M926.4,269.3h1.2M916.9,275.4h0.9M931.0,269.4l0.7,0.7M952.5,272.5h0.9M943.9,243.5l0.7,0.7M947.6,228.8l0.7,0.7M939.8,246.5l0.7,0.7M925.4,268.1h1.2M929.7,263.2h0.7M923.3,234.0h0.9M921.9,261.1h0.9M915.9,260.6h0.7M916.2,226.2h0.9M929.1,232.4h1.2M935.1,245.2h0.7M911.2,239.3h1.2M942.7,242.8h0.9M949.5,247.9l0.9,0.9M905.8,259.6h0.9M918.7,252.7h1.2M925.0,269.5h1.2M934.1,261.0l0.7,0.7M950.9,231.2h0.9M928.2,269.2h1.2M921.7,274.9h1.2M942.9,258.8h0.9M950.9,262.7h0.9M912.8,224.9l1.2,1.2M908.7,246.6h0.7M938.0,252.6h0.7M928.0,259.6h1.2M943.7,263.0h0.9M953.0,237.5h0.9M908.9,274.1h1.2M937.3,252.5l1.2,1.2M928.9,271.2l1.2,1.2M917.6,268.0h1.2M913.9,260.9l0.9,0.9M936.0,230.3h1.2M926.8,257.1h0.7M919.5,264.1h0.7M950.1,258.0h0.9M953.7,243.3h0.9M918.8,264.1h0.9M931.1,274.3h0.7M944.4,247.9h0.9M937.6,274.3h0.9M905.9,252.6h0.7M944.1,227.9h0.9M942.9,271.5l0.9,0.9M951.1,270.9h1.2M950.8,231.5h0.9M943.8,257.2h1.2M909.2,262.1h1.2M909.3,266.3h0.9M929.4,263.8l0.7,0.7M931.3,235.6h0.7M925.4,253.9l0.9,0.9M924.0,264.5h0.9M929.1,267.1h1.2M927.1,246.0l0.7,0.7M950.3,246.1h1.2M944.2,248.9h0.9M921.0,274.8h1.2M906.6,250.0h0.7M931.6,240.1h0.9M909.7,225.1l0.7,0.7M911.1,231.0h1.2M940.3,260.3h0.7M943.2,258.5l0.9,0.9M951.0,249.5h0.9M925.7,266.8h0.9M922.5,270.4h0.9M954.2,255.3h1.2M906.6,243.8h0.7M935.2,224.8h0.7M923.4,236.2h1.2M925.6,260.2h1.2M937.6,225.3h1.2M909.5,265.8h0.9M909.8,230.1l0.7,0.7M943.9,243.9h1.2M938.3,256.1h0.9M947.6,248.6h0.9M943.3,264.4h0.7M906.3,259.4l0.9,0.9" stroke="#b4b4b4" stroke-width="0.9" fill="none"/>
<path d="M932.1,230.6h0.9M928.8,271.7h0.9M931.9,247.4h1.2M926.6,236.1l1.2,1.2M919.7,245.9l0.9,0.9M934.2,258.8h0.7M945.3,264.2h0.7M924.2,246.7h0.9M913.4,224.8h0.7M926.1,231.3l0.9,0.9M948.3,260.9h1.2M933.7,244.5h1.2M950.9,224.5h0.9M943.1,250.8l0.9,0.9M925.3,274.8h1.2M914.7,254.6h0.9M952.5,262.1h1.2M915.2,235.9h0.7M930.7,261.8l1.2,1.2M940.1,225.7l0.9,0.9M922.8,275.5h1.2M915.3,232.3h0.7M929.7,255.7h0.9M943.4,252.8h0.7M938.1,252.2h0.7M923.0,254.7h1.2M912.2,259.6h0.9M913.3,274.2l0.9,0.9M928.4,236.5l0.7,0.7M917.4,266.7h1.2M950.2,239.5h1.2M921.8,249.4l0.9,0.9M931.1,254.8h1.2M949.3,232.7h0.9M949.6,257.1l0.7,0.7M942.1,227.4h0.9M909.7,225.7h0.9M935.9,237.2h1.2M947.1,224.7h0.9M946.6,270.4h1.2M909.2,249.6h0.9M919.2,245.7h0.7M911.3,250.3h1.2M918.7,248.4h0.9M942.7,265.3l0.9,0.9M946.9,251.6h0.9M948.9,240.5l0.9,0.9M948.6,225.6h0.9M906.4,265.3h0.7M952.7,257.2l1.2,1.2M937.5,274.0h0.9M932.8,269.3h0.9M926.9,235.2h1.2M952.7,266.9h0.7M945.4,240.4l0.9,0.9M909.9,262.3h0.9M922.8,244.1l0.7,0.7M922.7,259.1h0.7M916.1,238.9h0.9M931.7,252.8h0.7M920.5,268.0h0.7M924.8,235.3h0.7M919.3,268.2h0.9M913.3,262.0l0.7,0.7M944.3,265.1h0.7M934.8,225.9h1.2M952.7,242.6h0.7M916.4,272.7h1.2M919.1,273.4h1.2M937.2,249.8h1.2M939.1,257.2l0.7,0.7M938.5,226.3h0.7M945.1,257.2h0.9M953.0,238.7h0.7M926.4,252.8h0.7M914.7,247.9h1.2M909.6,259.7h0.9M923.5,240.2h0.9M945.3,233.2h1.2M906.3,243.6h0.9M953.2,235.9l1.2,1.2M941.7,257.2l0.9,0.9M928.3,233.1h0.9M909.7,226.8h0.7M945.7,240.2h1.2M949.6,268.1h0.7M922.9,263.0h1.2M908.1,269.0h0.7M930.9,248.4l0.7,0.7M929.1,271.0l1.2,1.2M911.8,256.7l0.7,0.7M917.6,262.2l1.2,1.2M952.0,266.4l0.7,0.7M923.6,260.8h0.9M938.1,269.1h0.9M934.0,241.9h0.7M932.9,231.4h0.7M946.6,273.8h1.2M949.8,240.4l1.2,1.2M933.8,252.3h1.2M925.7,242.6h0.7M942.5,229.8h1.2M924.5,251.8h0.7M926.5,274.7h0.7M948.0,251.2h0.9M914.0,254.1l0.7,0.7M954.2,252.3l1.2,1.2M945.8,244.2h0.7M907.5,260.9h1.2M930.3,264.8h0.9M925.2,260.9h0.9M944.9,237.8l0.7,0.7M941.2,262.3h0.7M946.7,240.0h0.7M909.6,239.3h1.2M919.6,252.1l1.2,1.2M930.9,264.3l0.7,0.7M916.5,261.0h0.9M909.9,275.0h0.9M932.5,257.5l0.9,0.9M946.6,232.9l0.9,0.9M928.8,240.3l0.7,0.7M907.0,260.1h0.9M945.0,252.7h1.2M909.4,260.3h0.9M918.1,244.4h0.9M944.6,238.5h0.7M922.8,274.7l0.9,0.9M948.1,244.8h0.9M939.3,260.4h0.7M926.2,264.0l0.7,0.7M952.5,238.8h0.7M945.3,241.8h0.7M929.1,244.9l0.9,0.9M910.5,266.1h0.9M913.2,250.8h0.9M915.0,267.8l0.9,0.9M931.9,238.7h0.7M946.9,251.5h0.7M947.4,241.5h0.9M920.8,270.6l1.2,1.2M940.2,271.6h0.7M908.0,225.3h0.7M924.6,231.7h0.9M907.5,273.8h0.9M941.3,271.0l1.2,1.2M924.2,229.5h0.9M941.1,258.8l0.9,0.9M914.5,248.2h0.7M940.9,230.3h0.9M948.7,256.5l1.2,1.2M936.2,224.2l0.7,0.7M920.5,236.9h0.7M945.2,229.8h0.7M928.0,255.3h0.7M921.1,263.4l0.9,0.9M906.0,246.1h1.2M936.3,260.2l1.2,1.2M937.0,268.1h1.2M949.0,271.5h1.2M953.9,259.3h0.9M929.4,255.0h1.2M919.7,250.8l1.2,1.2M937.2,257.1h1.2M936.9,230.0h0.7M926.2,266.6h0.9M949.0,273.3h0.7M923.5,229.0h1.2M928.6,255.8l0.7,0.7M947.5,259.1h0.7M917.1,247.9h1.2M952.0,270.4h0.9M909.9,252.0h1.2M950.0,271.8h0.7M933.6,256.4h1.2M948.8,275.8h0.9M930.8,227.6h0.9M914.6,253.0l0.7,0.7M909.9,257.2h0.9M920.2,237.0h1.2M951.5,243.0l0.9,0.9M915.9,229.9h0.7M921.6,259.2l0.7,0.7M935.9,254.4l0.7,0.7M937.6,270.7h0.9M943.3,245.5h1.2M918.0,227.3h0.7M911.7,237.2h0.9M945.6,237.3h0.9M928.5,237.3h0.9M936.8,227.5l0.7,0.7M917.7,271.1h0.9M909.8,228.8h1.2M946.5,246.2l0.9,0.9M919.4,229.9h0.9M953.1,230.2h1.2M943.2,264.6h1.2M927.8,232.6h1.2M928.9,252.7h0.7M925.5,259.6l0.7,0.7M949.4,251.7h1.2M908.0,233.5l0.9,0.9M951.3,232.0l1.2,1.2M939.8,236.8l0.9,0.9M923.0,275.7h0.9M920.3,255.2h0.9M937.9,239.1l1.2,1.2M930.3,251.4h1.2M906.8,231.9h0.9M930.0,230.4l0.7,0.7M945.1,272.7l1.2,1.2M926.0,270.7h1.2M950.0,225.8h0.7M942.1,227.9l1.2,1.2M944.9,241.9l1.2,1.2M916.7,268.8l1.2,1.2M951.1,269.3h0.7M946.5,257.8h0.9M950.7,260.0h0.7M951.7,270.9h0.9M946.1,237.6h0.7M951.7,269.3l0.7,0.7M933.7,268.7h0.7M937.1,224.3h0.7M948.0,249.6l1.2,1.2M946.8,251.8l1.2,1.2M927.2,265.8h0.7M942.7,230.7h0.9M932.2,238.8l1.2,1.2M935.3,265.2h1.2M914.4,270.7l1.2,1.2M934.5,275.3h0.9M924.2,234.8h0.7M941.2,228.0h0.9M947.1,245.1h1.2M944.9,271.2h0.9M952.8,235.9h1.2M946.9,265.0l0.9,0.9M944.3,246.3h0.7M911.5,242.9l0.9,0.9M952.6,263.8h0.9" stroke="#858585" stroke-width="0.9" fill="none"/>
<path d="M952.1,253.3l0.9,0.9M952.9,256.0l0.9,0.9M919.9,230.2h0.7M943.7,232.1l0.9,0.9M940.4,236.3h1.2M931.5,226.9h1.2M926.3,228.9h0.7M915.7,251.3h0.9M949.0,225.7l0.7,0.7M952.8,254.3h1.2M939.1,275.8h0.9M912.6,226.5l0.9,0.9M948.5,267.5h0.7M923.0,254.7h1.2M922.1,243.5h0.9M953.1,241.5h1.2M950.0,267.8h0.9M930.4,262.1h0.9M925.2,252.1h1.2M945.3,248.8h1.2M950.6,240.8l0.7,0.7M926.1,224.6l1.2,1.2M906.8,245.4h1.2M942.9,272.9h0.7M916.1,245.1h0.9M920.2,263.0h1.2M911.8,228.5h0.7M915.5,273.7h0.9M945.9,261.8h1.2M939.3,272.6h0.9M929.5,249.9l0.7,0.7M942.8,237.7h0.9M947.4,251.1h0.7M914.7,260.3h0.9M918.1,259.6h1.2M943.3,273.9h0.7M946.3,239.5h0.9M950.1,233.8l0.7,0.7M915.5,251.9h0.9M909.6,236.8l1.2,1.2M945.3,275.4h0.9M911.7,229.2h1.2M945.4,254.2h0.9M932.3,243.1l0.9,0.9M907.7,261.3h0.9M926.5,224.4h0.7M934.3,247.9h0.9M936.7,253.0h0.7M952.0,270.1h1.2M916.5,255.6h0.7M931.8,227.1h0.9M950.4,254.5h0.7M950.3,261.1h0.9M940.7,269.8h0.9M933.6,237.6l1.2,1.2M939.2,272.7l1.2,1.2M934.1,253.7h0.7M912.2,243.3h1.2M917.2,250.6h1.2M937.6,260.4h1.2M947.5,241.0l0.9,0.9M934.8,229.4h0.7M930.7,233.9h0.9M945.9,247.6l0.9,0.9M934.4,264.9h1.2M951.5,238.1h1.2M929.1,266.6l1.2,1.2M922.2,230.9h0.7M912.0,251.2h0.9M909.0,244.8h1.2M936.5,253.8h1.2M921.5,236.6h1.2M936.2,224.9h1.2M946.5,261.7h0.9M907.2,247.9h0.9M910.0,249.5h0.7M921.2,256.0h0.9M907.7,234.8l1.2,1.2M946.5,225.4h0.7M914.4,242.5h1.2" stroke="#5a5a5a" stroke-width="0.9" fill="none"/>
<rect x="905.50" y="223.60" width="49.90" height="52.70" fill="none" stroke="#1a1a1a" stroke-width="1.5" />
<line x1="45.80" y1="223.60" x2="840.80" y2="223.60" stroke="#222" stroke-width="1.3" />
<line x1="879.60" y1="223.60" x2="980.60" y2="223.60" stroke="#222" stroke-width="1.3" />
<path d="M53.4,33 C55.5,39 57.4,46 58.3,54 C59.2,61 59.3,68 58,76 C56.5,83 53.5,87 51,92 C47.5,100 45.8,110 45,121 C43.8,130 43.4,137 43.5,144 C43.5,152 43.7,160 44,167.5 C44.6,176 45.6,184 46.3,191 C47.2,201 47.9,211 48.1,221 C48.5,232 48.8,242 48.3,251 C47.8,262 47,272 46.3,280 C45.8,286 45.4,292 45,297.5" fill="none" stroke="#444" stroke-width="0.8" />
<path d="M847.2,33 C850,40 852,47 852.6,54 C853.3,62 852.8,70 851.2,77 C849,86 845.5,91 843.1,96.5 C840.5,103 839.2,112 838.6,121 C838,135 837,148 837.1,160 C837.2,180 838.6,200 839.4,215 C840.2,235 840.4,265 839.4,282 C839.2,288 839,292 838.7,297" fill="none" stroke="#444" stroke-width="0.8" />
<path d="M878.6,212 C880.5,225 881.2,240 880.2,254 C879.2,268 876,283 873,296.5" fill="none" stroke="#444" stroke-width="0.8" />
<path d="M979.4,212.5 C982,225 983.6,240 982.8,254 C981.8,268 978,283 974,297" fill="none" stroke="#444" stroke-width="0.8" />
<rect x="59.00" y="53.00" width="27.80" height="9.00" fill="#fff" stroke="#222" stroke-width="1.3" />
<line x1="82.00" y1="62.00" x2="82.00" y2="78.00" stroke="#222" stroke-width="1.2" />
<g clip-path="url(#cpCap)">
<clipPath id="cpCap"><path d="M847.2,33 C850,40 852,47 852.6,54 C853.3,62 852.8,70 851.2,77 C849,86 845.5,91 843.1,96.5 C840.5,103 839.2,112 838.6,121 C838,135 837,148 837.1,160 C837.2,180 838.6,200 839.4,215 C840.2,235 840.4,265 839.4,282 C839.2,288 839,292 838.7,297 L340,297 L340,30 Z"/></clipPath>
<rect x="353.60" y="53.00" width="520.00" height="9.00" fill="#fff" stroke="#222" stroke-width="1.3" />
</g>
<line x1="359.60" y1="62.00" x2="359.60" y2="78.00" stroke="#222" stroke-width="1.0" />
<rect x="893.30" y="53.10" width="28.20" height="9.00" fill="#fff" stroke="#222" stroke-width="1.3" />
<rect x="66.05" y="77.40" width="463.65" height="112.70" fill="#fff" stroke="#1a1a1a" stroke-width="1.5" />
<line x1="121.40" y1="84.60" x2="121.40" y2="182.05" stroke="#505050" stroke-width="0.9" />
<line x1="169.90" y1="84.60" x2="169.90" y2="182.05" stroke="#505050" stroke-width="0.9" />
<line x1="73.20" y1="133.50" x2="216.50" y2="133.50" stroke="#505050" stroke-width="0.9" />
<line x1="73.20" y1="84.60" x2="121.40" y2="133.50" stroke="#505050" stroke-width="0.8" />
<line x1="73.20" y1="133.50" x2="121.40" y2="84.60" stroke="#505050" stroke-width="0.8" />
<line x1="73.20" y1="133.50" x2="121.40" y2="182.05" stroke="#505050" stroke-width="0.8" />
<line x1="73.20" y1="182.05" x2="121.40" y2="133.50" stroke="#505050" stroke-width="0.8" />
<line x1="121.40" y1="84.60" x2="169.90" y2="133.50" stroke="#505050" stroke-width="0.8" />
<line x1="121.40" y1="133.50" x2="169.90" y2="84.60" stroke="#505050" stroke-width="0.8" />
<line x1="121.40" y1="133.50" x2="169.90" y2="182.05" stroke="#505050" stroke-width="0.8" />
<line x1="121.40" y1="182.05" x2="169.90" y2="133.50" stroke="#505050" stroke-width="0.8" />
<line x1="169.90" y1="84.60" x2="216.50" y2="133.50" stroke="#505050" stroke-width="0.8" />
<line x1="169.90" y1="133.50" x2="216.50" y2="84.60" stroke="#505050" stroke-width="0.8" />
<line x1="169.90" y1="133.50" x2="216.50" y2="182.05" stroke="#505050" stroke-width="0.8" />
<line x1="169.90" y1="182.05" x2="216.50" y2="133.50" stroke="#505050" stroke-width="0.8" />
<clipPath id="cp73"><rect x="73.2" y="84.6" width="143.3" height="97.45000000000002"/></clipPath>
<g clip-path="url(#cp73)">
<line x1="65.26" y1="82.04" x2="221.79" y2="188.49" stroke="#151515" stroke-width="1.35" />
<line x1="67.91" y1="188.49" x2="224.44" y2="82.04" stroke="#151515" stroke-width="1.35" />
<line x1="67.91" y1="78.16" x2="224.44" y2="184.61" stroke="#151515" stroke-width="1.35" />
<line x1="65.26" y1="184.61" x2="221.79" y2="78.16" stroke="#151515" stroke-width="1.35" />
</g>
<rect x="73.20" y="84.60" width="143.30" height="97.45" fill="none" stroke="#1a1a1a" stroke-width="1.4" />
<line x1="270.50" y1="84.60" x2="270.50" y2="182.05" stroke="#505050" stroke-width="0.9" />
<line x1="318.50" y1="84.60" x2="318.50" y2="182.05" stroke="#505050" stroke-width="0.9" />
<line x1="223.70" y1="133.50" x2="367.00" y2="133.50" stroke="#505050" stroke-width="0.9" />
<line x1="223.70" y1="84.60" x2="270.50" y2="133.50" stroke="#505050" stroke-width="0.8" />
<line x1="223.70" y1="133.50" x2="270.50" y2="84.60" stroke="#505050" stroke-width="0.8" />
<line x1="223.70" y1="133.50" x2="270.50" y2="182.05" stroke="#505050" stroke-width="0.8" />
<line x1="223.70" y1="182.05" x2="270.50" y2="133.50" stroke="#505050" stroke-width="0.8" />
<line x1="270.50" y1="84.60" x2="318.50" y2="133.50" stroke="#505050" stroke-width="0.8" />
<line x1="270.50" y1="133.50" x2="318.50" y2="84.60" stroke="#505050" stroke-width="0.8" />
<line x1="270.50" y1="133.50" x2="318.50" y2="182.05" stroke="#505050" stroke-width="0.8" />
<line x1="270.50" y1="182.05" x2="318.50" y2="133.50" stroke="#505050" stroke-width="0.8" />
<line x1="318.50" y1="84.60" x2="367.00" y2="133.50" stroke="#505050" stroke-width="0.8" />
<line x1="318.50" y1="133.50" x2="367.00" y2="84.60" stroke="#505050" stroke-width="0.8" />
<line x1="318.50" y1="133.50" x2="367.00" y2="182.05" stroke="#505050" stroke-width="0.8" />
<line x1="318.50" y1="182.05" x2="367.00" y2="133.50" stroke="#505050" stroke-width="0.8" />
<clipPath id="cp223"><rect x="223.7" y="84.6" width="143.3" height="97.45000000000002"/></clipPath>
<g clip-path="url(#cp223)">
<line x1="215.76" y1="82.04" x2="372.29" y2="188.49" stroke="#151515" stroke-width="1.35" />
<line x1="218.41" y1="188.49" x2="374.94" y2="82.04" stroke="#151515" stroke-width="1.35" />
<line x1="218.41" y1="78.16" x2="374.94" y2="184.61" stroke="#151515" stroke-width="1.35" />
<line x1="215.76" y1="184.61" x2="372.29" y2="78.16" stroke="#151515" stroke-width="1.35" />
</g>
<rect x="223.70" y="84.60" width="143.30" height="97.45" fill="none" stroke="#1a1a1a" stroke-width="1.4" />
<line x1="424.60" y1="84.60" x2="424.60" y2="182.05" stroke="#505050" stroke-width="0.9" />
<line x1="474.70" y1="84.60" x2="474.70" y2="182.05" stroke="#505050" stroke-width="0.9" />
<line x1="374.10" y1="133.50" x2="522.80" y2="133.50" stroke="#505050" stroke-width="0.9" />
<line x1="374.10" y1="84.60" x2="424.60" y2="133.50" stroke="#505050" stroke-width="0.8" />
<line x1="374.10" y1="133.50" x2="424.60" y2="84.60" stroke="#505050" stroke-width="0.8" />
<line x1="374.10" y1="133.50" x2="424.60" y2="182.05" stroke="#505050" stroke-width="0.8" />
<line x1="374.10" y1="182.05" x2="424.60" y2="133.50" stroke="#505050" stroke-width="0.8" />
<line x1="424.60" y1="84.60" x2="474.70" y2="133.50" stroke="#505050" stroke-width="0.8" />
<line x1="424.60" y1="133.50" x2="474.70" y2="84.60" stroke="#505050" stroke-width="0.8" />
<line x1="424.60" y1="133.50" x2="474.70" y2="182.05" stroke="#505050" stroke-width="0.8" />
<line x1="424.60" y1="182.05" x2="474.70" y2="133.50" stroke="#505050" stroke-width="0.8" />
<line x1="474.70" y1="84.60" x2="522.80" y2="133.50" stroke="#505050" stroke-width="0.8" />
<line x1="474.70" y1="133.50" x2="522.80" y2="84.60" stroke="#505050" stroke-width="0.8" />
<line x1="474.70" y1="133.50" x2="522.80" y2="182.05" stroke="#505050" stroke-width="0.8" />
<line x1="474.70" y1="182.05" x2="522.80" y2="133.50" stroke="#505050" stroke-width="0.8" />
<clipPath id="cp374"><rect x="374.1" y="84.6" width="148.69999999999993" height="97.45000000000002"/></clipPath>
<g clip-path="url(#cp374)">
<line x1="366.12" y1="82.18" x2="528.20" y2="188.40" stroke="#151515" stroke-width="1.35" />
<line x1="368.70" y1="188.40" x2="530.78" y2="82.18" stroke="#151515" stroke-width="1.35" />
<line x1="368.70" y1="78.25" x2="530.78" y2="184.47" stroke="#151515" stroke-width="1.35" />
<line x1="366.12" y1="184.47" x2="528.20" y2="78.25" stroke="#151515" stroke-width="1.35" />
</g>
<rect x="374.10" y="84.60" width="148.70" height="97.45" fill="none" stroke="#1a1a1a" stroke-width="1.4" />
<rect x="379.30" y="76.00" width="36.40" height="6.00" fill="#fff" stroke="#222" stroke-width="1.2" />
<ellipse cx="383.30" cy="74.9" rx="1.9" ry="1.2" fill="#111"/>
<ellipse cx="411.10" cy="74.9" rx="1.9" ry="1.2" fill="#111"/>
<line x1="383.60" y1="76.50" x2="383.60" y2="81.50" stroke="#333" stroke-width="0.8" />
<line x1="410.80" y1="76.50" x2="410.80" y2="81.50" stroke="#777" stroke-width="0.8" />
<line x1="414.10" y1="76.50" x2="414.10" y2="81.50" stroke="#777" stroke-width="0.8" />
<rect x="472.80" y="76.00" width="36.40" height="6.00" fill="#fff" stroke="#222" stroke-width="1.2" />
<ellipse cx="476.80" cy="74.9" rx="1.9" ry="1.2" fill="#111"/>
<ellipse cx="504.60" cy="74.9" rx="1.9" ry="1.2" fill="#111"/>
<line x1="477.10" y1="76.50" x2="477.10" y2="81.50" stroke="#333" stroke-width="0.8" />
<line x1="504.30" y1="76.50" x2="504.30" y2="81.50" stroke="#777" stroke-width="0.8" />
<line x1="507.60" y1="76.50" x2="507.60" y2="81.50" stroke="#777" stroke-width="0.8" />
<rect x="64.60" y="190.10" width="465.80" height="14.80" fill="#fff" stroke="none" stroke-width="0" />
<line x1="64.60" y1="190.10" x2="530.60" y2="190.10" stroke="#111" stroke-width="1.8" />
<line x1="64.60" y1="204.90" x2="530.60" y2="204.90" stroke="#111" stroke-width="1.8" />
<line x1="65.30" y1="190.10" x2="65.30" y2="204.90" stroke="#111" stroke-width="2.4" />
<path d="M68.5,191.5 V198 C68.5,200 70,200.5 72,200.5 H77 C79.5,200.5 81,202 81,204.5" fill="none" stroke="#222" stroke-width="1.0" />
<line x1="71.50" y1="191.50" x2="71.50" y2="199.50" stroke="#222" stroke-width="0.9" />
<line x1="77.00" y1="191.50" x2="77.00" y2="200.50" stroke="#222" stroke-width="0.9" />
<rect x="69.20" y="201.00" width="2.50" height="2.50" fill="#333" stroke="#222" stroke-width="0.5" />
<path d="M65,205.5 L80.5,205.5 L81.3,207.5" fill="none" stroke="#222" stroke-width="1.0" />
<line x1="530.40" y1="190.10" x2="530.40" y2="204.90" stroke="#1a1a1a" stroke-width="1.6" />
<path d="M528.6,191.5 V199.5 C528.6,201 527.5,201.6 526,201.6 H517.5 C515.5,201.6 514.6,202.5 514.4,204" fill="none" stroke="#222" stroke-width="1.1" />
<rect x="524.00" y="202.00" width="2.20" height="2.20" fill="#222" stroke="#222" stroke-width="0.5" />
<path d="M514,205.8 L517,206.8 L521,205.5" fill="none" stroke="#222" stroke-width="0.9" />
<path d="M375.0,217 L380.1,205.6 H414.5 L419.6,217 Z" fill="#fff" stroke="#1a1a1a" stroke-width="1.1" />
<rect x="374.50" y="216.40" width="45.60" height="2.20" fill="#fff" stroke="#111" stroke-width="1.1" />
<rect x="375.90" y="212.80" width="5.80" height="3.40" fill="#2a2a2a" stroke="#111" stroke-width="0.8" rx="1.4"/>
<line x1="376.40" y1="214.60" x2="381.20" y2="214.60" stroke="#bbb" stroke-width="0.6" />
<rect x="375.90" y="218.80" width="5.80" height="2.40" fill="#2a2a2a" stroke="#111" stroke-width="0.8" rx="1"/>
<rect x="376.80" y="221.00" width="4.00" height="2.20" fill="#2a2a2a" stroke="#111" stroke-width="0.6" rx="0.8"/>
<rect x="412.90" y="212.80" width="5.80" height="3.40" fill="#2a2a2a" stroke="#111" stroke-width="0.8" rx="1.4"/>
<line x1="413.40" y1="214.60" x2="418.20" y2="214.60" stroke="#bbb" stroke-width="0.6" />
<rect x="412.90" y="218.80" width="5.80" height="2.40" fill="#2a2a2a" stroke="#111" stroke-width="0.8" rx="1"/>
<rect x="413.80" y="221.00" width="4.00" height="2.20" fill="#2a2a2a" stroke="#111" stroke-width="0.6" rx="0.8"/>
<circle cx="382.45" cy="197.5" r="6.05" fill="#fff" stroke="#111" stroke-width="1.5"/>
<circle cx="382.45" cy="197.5" r="2.7" fill="#888" stroke="#151515" stroke-width="1.6"/>
<circle cx="412.15" cy="197.5" r="6.05" fill="#fff" stroke="#111" stroke-width="1.5"/>
<circle cx="412.15" cy="197.5" r="2.7" fill="#888" stroke="#151515" stroke-width="1.6"/>
<rect x="389.30" y="193.90" width="15.20" height="3.40" fill="#fff" stroke="#1a1a1a" stroke-width="1.0" rx="1.5"/>
<rect x="390.30" y="194.30" width="5.00" height="1.40" fill="#555" stroke="none" stroke-width="0" />
<line x1="396.70" y1="190.50" x2="396.70" y2="208.00" stroke="#111" stroke-width="2.4" />
<rect x="394.50" y="190.60" width="4.40" height="1.80" fill="#111" stroke="none" stroke-width="0" />
<circle cx="396.70" cy="210.6" r="2.7" fill="#333" stroke="#111" stroke-width="1.3"/>
<circle cx="396.70" cy="210.6" r="0.8" fill="#888"/>
<path d="M468.8,217 L473.90000000000003,205.6 H508.3 L513.4,217 Z" fill="#fff" stroke="#1a1a1a" stroke-width="1.1" />
<rect x="468.30" y="216.40" width="45.60" height="2.20" fill="#fff" stroke="#111" stroke-width="1.1" />
<rect x="469.70" y="212.80" width="5.80" height="3.40" fill="#2a2a2a" stroke="#111" stroke-width="0.8" rx="1.4"/>
<line x1="470.20" y1="214.60" x2="475.00" y2="214.60" stroke="#bbb" stroke-width="0.6" />
<rect x="469.70" y="218.80" width="5.80" height="2.40" fill="#2a2a2a" stroke="#111" stroke-width="0.8" rx="1"/>
<rect x="470.60" y="221.00" width="4.00" height="2.20" fill="#2a2a2a" stroke="#111" stroke-width="0.6" rx="0.8"/>
<rect x="506.70" y="212.80" width="5.80" height="3.40" fill="#2a2a2a" stroke="#111" stroke-width="0.8" rx="1.4"/>
<line x1="507.20" y1="214.60" x2="512.00" y2="214.60" stroke="#bbb" stroke-width="0.6" />
<rect x="506.70" y="218.80" width="5.80" height="2.40" fill="#2a2a2a" stroke="#111" stroke-width="0.8" rx="1"/>
<rect x="507.60" y="221.00" width="4.00" height="2.20" fill="#2a2a2a" stroke="#111" stroke-width="0.6" rx="0.8"/>
<circle cx="476.25" cy="197.5" r="6.05" fill="#fff" stroke="#111" stroke-width="1.5"/>
<circle cx="476.25" cy="197.5" r="2.7" fill="#888" stroke="#151515" stroke-width="1.6"/>
<circle cx="505.95" cy="197.5" r="6.05" fill="#fff" stroke="#111" stroke-width="1.5"/>
<circle cx="505.95" cy="197.5" r="2.7" fill="#888" stroke="#151515" stroke-width="1.6"/>
<rect x="483.10" y="193.90" width="15.20" height="3.40" fill="#fff" stroke="#1a1a1a" stroke-width="1.0" rx="1.5"/>
<rect x="484.10" y="194.30" width="5.00" height="1.40" fill="#555" stroke="none" stroke-width="0" />
<line x1="490.50" y1="190.50" x2="490.50" y2="208.00" stroke="#111" stroke-width="2.4" />
<rect x="488.30" y="190.60" width="4.40" height="1.80" fill="#111" stroke="none" stroke-width="0" />
<circle cx="490.50" cy="210.6" r="2.7" fill="#333" stroke="#111" stroke-width="1.3"/>
<circle cx="490.50" cy="210.6" r="0.8" fill="#888"/>
<rect x="811.80" y="191.80" width="12.60" height="15.20" fill="#fff" stroke="#111" stroke-width="1.6" />
<line x1="815.80" y1="192.50" x2="815.80" y2="206.50" stroke="#777" stroke-width="1.0" />
<path d="M811.8,207 L810.5,208.3 L807.2,209.4" fill="none" stroke="#111" stroke-width="1.3" />
<line x1="916.70" y1="76.20" x2="943.60" y2="76.20" stroke="#111" stroke-width="2.0" />
<line x1="918.00" y1="76.00" x2="918.00" y2="84.00" stroke="#222" stroke-width="1.0" />
<rect x="920.50" y="78.00" width="4.00" height="6.50" fill="#fff" stroke="#111" stroke-width="1.0" />
<line x1="922.50" y1="78.50" x2="922.50" y2="84.00" stroke="#444" stroke-width="0.8" />
<rect x="938.90" y="78.00" width="4.60" height="6.50" fill="#8a8a8a" stroke="#111" stroke-width="1.0" />
<circle cx="922.3" cy="75.4" r="1.7" fill="#111"/>
<circle cx="941.1" cy="75.4" r="1.7" fill="#111"/>
<line x1="925.20" y1="77.00" x2="925.20" y2="190.00" stroke="#2a2a2a" stroke-width="1.2" />
<line x1="938.80" y1="77.00" x2="938.80" y2="190.00" stroke="#111" stroke-width="1.6" />
<path d="M923.0,190.1 H940.6 V199 C940.6,203 938.6,205.6 935.6,205.6 H928.0 C925.0,205.6 923.0,203 923.0,199 Z" fill="#1c1c1c" stroke="#0a0a0a" stroke-width="1.0" />
<rect x="926.20" y="191.90" width="3.00" height="4.70" fill="#fff" stroke="none" stroke-width="0" />
<rect x="926.20" y="197.40" width="3.00" height="5.80" fill="#fff" stroke="none" stroke-width="0" />
<rect x="931.20" y="196.50" width="6.00" height="2.40" fill="#9a9a9a" stroke="none" stroke-width="0" />
<path d="M924.4,208 L919.6,216.4 H944.4 L939.6,208 Z" fill="#fff" stroke="#111" stroke-width="1.0" />
<rect x="924.30" y="207.40" width="4.40" height="8.80" fill="#c8c8c8" stroke="#111" stroke-width="1.3" rx="1.2"/>
<rect x="935.00" y="207.40" width="4.40" height="8.80" fill="#c8c8c8" stroke="#111" stroke-width="1.3" rx="1.2"/>
<rect x="928.90" y="205.60" width="5.90" height="11.00" fill="#cfcfcf" stroke="#111" stroke-width="1.1" />
<line x1="931.80" y1="206.00" x2="931.80" y2="216.40" stroke="#222" stroke-width="0.9" />
<rect x="918.00" y="216.20" width="28.00" height="3.40" fill="#3a3a3a" stroke="#111" stroke-width="1.0" rx="1.5"/>
<rect x="920.90" y="211.80" width="4.40" height="4.40" fill="#555" stroke="#111" stroke-width="0.9" rx="1"/>
<line x1="921.50" y1="213.80" x2="924.70" y2="213.80" stroke="#ddd" stroke-width="0.6" />
<rect x="921.10" y="219.80" width="4.00" height="2.20" fill="#333" stroke="#111" stroke-width="0.8" rx="0.8"/>
<rect x="921.70" y="221.80" width="2.80" height="1.60" fill="#333" stroke="#111" stroke-width="0.5" />
<rect x="939.30" y="211.80" width="4.40" height="4.40" fill="#555" stroke="#111" stroke-width="0.9" rx="1"/>
<line x1="939.90" y1="213.80" x2="943.10" y2="213.80" stroke="#ddd" stroke-width="0.6" />
<rect x="939.50" y="219.80" width="4.00" height="2.20" fill="#333" stroke="#111" stroke-width="0.8" rx="0.8"/>
<rect x="940.10" y="221.80" width="2.80" height="1.60" fill="#333" stroke="#111" stroke-width="0.5" />
<line x1="358.40" y1="25.30" x2="358.40" y2="77.40" stroke="#333" stroke-width="0.9" />
<line x1="824.20" y1="25.30" x2="824.20" y2="207.00" stroke="#333" stroke-width="0.9" />
<line x1="358.40" y1="30.30" x2="824.20" y2="30.30" stroke="#333" stroke-width="0.9" />
<path d="M358.40,30.30 L366.40,28.95 L366.40,31.65 Z" fill="#1a1a1a"/>
<path d="M824.20,30.30 L816.20,31.65 L816.20,28.95 Z" fill="#1a1a1a"/>
<line x1="295.40" y1="133.50" x2="295.40" y2="337.00" stroke="#333" stroke-width="0.9" />
<path d="M295.40,154.00 L293.90,143.50 L296.90,143.50 Z" fill="#1a1a1a"/>
<circle cx="295.3" cy="133.5" r="1.6" fill="#999" stroke="#222" stroke-width="0.9"/>
<line x1="274.50" y1="187.50" x2="274.50" y2="241.00" stroke="#333" stroke-width="0.9" />
<path d="M274.50,204.80 L273.15,196.80 L275.85,196.80 Z" fill="#1a1a1a"/>
<line x1="274.50" y1="223.60" x2="274.50" y2="241.00" stroke="#333" stroke-width="0.9" />
<path d="M274.50,223.90 L275.85,231.90 L273.15,231.90 Z" fill="#1a1a1a"/>
<line x1="64.60" y1="205.00" x2="64.60" y2="358.80" stroke="#333" stroke-width="0.9" />
<line x1="81.50" y1="205.00" x2="81.50" y2="314.20" stroke="#333" stroke-width="0.9" />
<line x1="344.20" y1="276.40" x2="344.20" y2="398.30" stroke="#333" stroke-width="0.9" />
<line x1="358.50" y1="204.80" x2="358.50" y2="314.00" stroke="#333" stroke-width="0.9" />
<line x1="397.70" y1="211.00" x2="397.70" y2="379.40" stroke="#333" stroke-width="0.9" />
<line x1="491.30" y1="211.00" x2="491.30" y2="379.40" stroke="#333" stroke-width="0.9" />
<line x1="529.80" y1="205.00" x2="529.80" y2="358.50" stroke="#333" stroke-width="0.9" />
<line x1="543.70" y1="276.40" x2="543.70" y2="398.30" stroke="#333" stroke-width="0.9" />
<line x1="358.50" y1="204.80" x2="358.50" y2="223.60" stroke="#222" stroke-width="1.2" />
<line x1="46.50" y1="309.80" x2="64.60" y2="309.80" stroke="#333" stroke-width="0.9" />
<path d="M64.60,309.80 L56.60,311.15 L56.60,308.45 Z" fill="#1a1a1a"/>
<line x1="81.50" y1="309.80" x2="529.80" y2="309.80" stroke="#333" stroke-width="0.9" />
<path d="M81.50,309.80 L89.50,308.45 L89.50,311.15 Z" fill="#1a1a1a"/>
<path d="M358.50,309.80 L350.50,311.15 L350.50,308.45 Z" fill="#1a1a1a"/>
<path d="M358.50,309.80 L366.50,308.45 L366.50,311.15 Z" fill="#1a1a1a"/>
<path d="M397.70,309.80 L389.70,311.15 L389.70,308.45 Z" fill="#1a1a1a"/>
<path d="M397.70,309.80 L405.70,308.45 L405.70,311.15 Z" fill="#1a1a1a"/>
<path d="M491.30,309.80 L483.30,311.15 L483.30,308.45 Z" fill="#1a1a1a"/>
<path d="M491.30,309.80 L499.30,308.45 L499.30,311.15 Z" fill="#1a1a1a"/>
<path d="M529.80,309.80 L521.80,311.15 L521.80,308.45 Z" fill="#1a1a1a"/>
<line x1="64.60" y1="333.30" x2="529.80" y2="333.30" stroke="#333" stroke-width="0.9" />
<path d="M64.60,333.30 L72.60,331.95 L72.60,334.65 Z" fill="#1a1a1a"/>
<path d="M295.40,333.30 L287.40,334.65 L287.40,331.95 Z" fill="#1a1a1a"/>
<path d="M295.40,333.30 L303.40,331.95 L303.40,334.65 Z" fill="#1a1a1a"/>
<path d="M529.80,333.30 L521.80,334.65 L521.80,331.95 Z" fill="#1a1a1a"/>
<line x1="64.60" y1="354.20" x2="529.80" y2="354.20" stroke="#333" stroke-width="0.9" />
<path d="M64.60,354.20 L72.60,352.85 L72.60,355.55 Z" fill="#1a1a1a"/>
<path d="M529.80,354.20 L521.80,355.55 L521.80,352.85 Z" fill="#1a1a1a"/>
<line x1="344.20" y1="374.70" x2="397.70" y2="374.70" stroke="#333" stroke-width="0.9" />
<path d="M344.20,374.70 L352.20,373.35 L352.20,376.05 Z" fill="#1a1a1a"/>
<path d="M397.70,374.70 L389.70,376.05 L389.70,373.35 Z" fill="#1a1a1a"/>
<line x1="491.30" y1="374.70" x2="543.70" y2="374.70" stroke="#333" stroke-width="0.9" />
<path d="M491.30,374.70 L499.30,373.35 L499.30,376.05 Z" fill="#1a1a1a"/>
<path d="M543.70,374.70 L535.70,376.05 L535.70,373.35 Z" fill="#1a1a1a"/>
<line x1="344.20" y1="394.30" x2="543.70" y2="394.30" stroke="#333" stroke-width="0.9" />
<path d="M344.20,394.30 L352.20,392.95 L352.20,395.65 Z" fill="#1a1a1a"/>
<path d="M543.70,394.30 L535.70,395.65 L535.70,392.95 Z" fill="#1a1a1a"/>
<line x1="397.60" y1="240.00" x2="397.60" y2="257.00" stroke="#111" stroke-width="1.5" />
<path d="M397.60,234.90 L399.20,241.90 L396.00,241.90 Z" fill="#111"/>
<circle cx="397.6" cy="257.0" r="1.3" fill="#111"/>
<line x1="491.30" y1="235.00" x2="491.30" y2="252.00" stroke="#111" stroke-width="1.5" />
<path d="M491.30,257.90 L489.70,250.90 L492.90,250.90 Z" fill="#111"/>
<circle cx="491.3" cy="235.2" r="1.3" fill="#111"/>
<line x1="955.40" y1="223.60" x2="1003.50" y2="223.60" stroke="#333" stroke-width="0.9" />
<line x1="955.40" y1="276.30" x2="1003.50" y2="276.30" stroke="#333" stroke-width="0.9" />
<line x1="997.30" y1="223.60" x2="997.30" y2="276.30" stroke="#333" stroke-width="0.9" />
<path d="M997.30,223.60 L998.65,231.60 L995.95,231.60 Z" fill="#1a1a1a"/>
<path d="M997.30,276.30 L995.95,268.30 L998.65,268.30 Z" fill="#1a1a1a"/>
<line x1="905.50" y1="276.30" x2="905.50" y2="314.60" stroke="#333" stroke-width="0.9" />
<line x1="955.40" y1="276.30" x2="955.40" y2="314.60" stroke="#333" stroke-width="0.9" />
<line x1="905.50" y1="309.50" x2="955.40" y2="309.50" stroke="#333" stroke-width="0.9" />
<path d="M905.50,309.50 L913.50,308.15 L913.50,310.85 Z" fill="#1a1a1a"/>
<path d="M955.40,309.50 L947.40,310.85 L947.40,308.15 Z" fill="#1a1a1a"/>
<path transform="translate(588.00,28.30) scale(1.05)" d="M6.6,-7.4 C6.1,-8.5 5,-9 3.5,-9 C1.6,-9 0.5,-8 0.5,-6.7 C0.5,-5.3 1.8,-4.9 3.5,-4.5 C5.4,-4.1 6.7,-3.6 6.7,-2.3 C6.7,-0.8 5.4,0 3.6,0 C1.8,0 0.7,-0.6 0.2,-1.8" fill="none" stroke="#2a2a2a" stroke-width="1.00" stroke-linejoin="round" stroke-linecap="butt"/>
<path transform="translate(69.10,307.60) scale(0.98)" d="M0.5,0 V-9 H4 C5.6,-9 6.4,-8.1 6.4,-6.9 C6.4,-5.6 5.5,-4.8 4,-4.8 H0.5 M4,-4.8 C5.8,-4.8 6.8,-3.9 6.8,-2.4 C6.8,-0.9 5.8,0 4,0 H0.5" fill="none" stroke="#2a2a2a" stroke-width="1.07" stroke-linejoin="round" stroke-linecap="butt"/>
<path transform="translate(216.80,307.60) scale(1.0)" d="M0,0 L3.5,-9 L7,0 M1.25,-3.1 L5.75,-3.1" fill="none" stroke="#2a2a2a" stroke-width="1.05" stroke-linejoin="round" stroke-linecap="butt"/>
<path transform="translate(374.40,307.50) scale(0.98)" d="M0.5,0 V-9 H3 C5.6,-9 6.9,-7.2 6.9,-4.5 C6.9,-1.8 5.6,0 3,0 Z" fill="none" stroke="#2a2a2a" stroke-width="1.07" stroke-linejoin="round" stroke-linecap="butt"/>
<path transform="translate(440.80,307.80) scale(1.0)" d="M6.8,-2.3 C6.3,-0.8 5.3,0 3.9,0 C1.7,0 0.4,-1.8 0.4,-4.5 C0.4,-7.2 1.7,-9 3.9,-9 C5.3,-9 6.3,-8.2 6.8,-6.7" fill="none" stroke="#2a2a2a" stroke-width="1.05" stroke-linejoin="round" stroke-linecap="butt"/>
<path transform="translate(506.60,307.60) scale(0.98)" d="M0.5,0 V-9 H3 C5.6,-9 6.9,-7.2 6.9,-4.5 C6.9,-1.8 5.6,0 3,0 Z" fill="none" stroke="#2a2a2a" stroke-width="1.07" stroke-linejoin="round" stroke-linecap="butt"/>
<path transform="translate(168.00,327.80) scale(1.02)" d="M6.6,-7.4 C6.1,-8.5 5,-9 3.5,-9 C1.6,-9 0.5,-8 0.5,-6.7 C0.5,-5.3 1.8,-4.9 3.5,-4.5 C5.4,-4.1 6.7,-3.6 6.7,-2.3 C6.7,-0.8 5.4,0 3.6,0 C1.8,0 0.7,-0.6 0.2,-1.8" fill="none" stroke="#2a2a2a" stroke-width="1.03" stroke-linejoin="round" stroke-linecap="butt"/>
<path transform="translate(177.08,327.80) scale(1.02)" d="M0,1.6 L6.2,-10.6" fill="none" stroke="#2a2a2a" stroke-width="1.03" stroke-linejoin="round" stroke-linecap="butt"/>
<path transform="translate(186.16,327.80) scale(1.02)" d="M0.5,-7 C0.7,-8.3 1.8,-9 3.4,-9 C5.1,-9 6.3,-8 6.3,-6.6 C6.3,-5.4 5.5,-4.5 4.1,-3.4 L0.4,0 H6.7" fill="none" stroke="#2a2a2a" stroke-width="1.03" stroke-linejoin="round" stroke-linecap="butt"/>
<path transform="translate(427.20,327.80) scale(1.02)" d="M6.6,-7.4 C6.1,-8.5 5,-9 3.5,-9 C1.6,-9 0.5,-8 0.5,-6.7 C0.5,-5.3 1.8,-4.9 3.5,-4.5 C5.4,-4.1 6.7,-3.6 6.7,-2.3 C6.7,-0.8 5.4,0 3.6,0 C1.8,0 0.7,-0.6 0.2,-1.8" fill="none" stroke="#2a2a2a" stroke-width="1.03" stroke-linejoin="round" stroke-linecap="butt"/>
<path transform="translate(436.28,327.80) scale(1.02)" d="M0,1.6 L6.2,-10.6" fill="none" stroke="#2a2a2a" stroke-width="1.03" stroke-linejoin="round" stroke-linecap="butt"/>
<path transform="translate(445.36,327.80) scale(1.02)" d="M0.5,-7 C0.7,-8.3 1.8,-9 3.4,-9 C5.1,-9 6.3,-8 6.3,-6.6 C6.3,-5.4 5.5,-4.5 4.1,-3.4 L0.4,0 H6.7" fill="none" stroke="#2a2a2a" stroke-width="1.03" stroke-linejoin="round" stroke-linecap="butt"/>
<path transform="translate(293.90,352.60) scale(1.03)" d="M6.6,-7.4 C6.1,-8.5 5,-9 3.5,-9 C1.6,-9 0.5,-8 0.5,-6.7 C0.5,-5.3 1.8,-4.9 3.5,-4.5 C5.4,-4.1 6.7,-3.6 6.7,-2.3 C6.7,-0.8 5.4,0 3.6,0 C1.8,0 0.7,-0.6 0.2,-1.8" fill="none" stroke="#2a2a2a" stroke-width="1.02" stroke-linejoin="round" stroke-linecap="butt"/>
<path transform="translate(367.00,373.00) scale(1.02)" d="M6.2,0 H0.5 V-9 H6.2 M0.5,-4.8 H4.6" fill="none" stroke="#2a2a2a" stroke-width="1.03" stroke-linejoin="round" stroke-linecap="butt"/>
<path transform="translate(514.40,373.00) scale(1.02)" d="M6.2,0 H0.5 V-9 H6.2 M0.5,-4.8 H4.6" fill="none" stroke="#2a2a2a" stroke-width="1.03" stroke-linejoin="round" stroke-linecap="butt"/>
<path transform="translate(440.60,391.80) scale(1.0)" d="M0,-9 H7 M3.5,-9 V0" fill="none" stroke="#2a2a2a" stroke-width="1.05" stroke-linejoin="round" stroke-linecap="butt"/>
<path transform="translate(926.60,307.00) scale(1.05)" d="M0.5,-9 V-3 C0.5,-1 1.6,0 3.6,0 C5.6,0 6.7,-1 6.7,-3 V-9" fill="none" stroke="#2a2a2a" stroke-width="1.00" stroke-linejoin="round" stroke-linecap="butt"/>
<path transform="translate(996.00,253.00) rotate(-90) scale(1.0)" d="M0.5,0 V-9 M6.7,0 V-9 M0.5,-4.8 H6.7" fill="none" stroke="#2a2a2a" stroke-width="1.05" stroke-linejoin="round" stroke-linecap="butt"/>
<path transform="translate(272.20,218.60) rotate(-90) scale(1.0)" d="M6.8,-6.7 C6.3,-8.2 5.3,-9 3.9,-9 C1.7,-9 0.4,-7.2 0.4,-4.5 C0.4,-1.8 1.7,0 3.9,0 C5.6,0 6.8,-1 6.8,-2.5 V-3.8 H4.2" fill="none" stroke="#2a2a2a" stroke-width="1.05" stroke-linejoin="round" stroke-linecap="butt"/>
<path transform="translate(403.20,250.90) scale(1.36)" d="M0.5,0 V-9 H6.2 M0.5,-4.8 H4.6" fill="none" stroke="#1a1a1a" stroke-width="1.03" stroke-linejoin="round" stroke-linecap="butt"/>
<path transform="translate(413.30,251.00) scale(0.8)" d="M1.2,-7 L3.4,-9 V0" fill="none" stroke="#1a1a1a" stroke-width="1.50" stroke-linejoin="round" stroke-linecap="butt"/>
<path transform="translate(496.80,250.90) scale(1.36)" d="M0.5,0 V-9 H6.2 M0.5,-4.8 H4.6" fill="none" stroke="#1a1a1a" stroke-width="1.03" stroke-linejoin="round" stroke-linecap="butt"/>
<path transform="translate(505.20,251.00) scale(1.0,0.8)" d="M0.5,-7 C0.7,-8.3 1.8,-9 3.4,-9 C5.1,-9 6.3,-8 6.3,-6.6 C6.3,-5.4 5.5,-4.5 4.1,-3.4 L0.4,0 H6.7" fill="none" stroke="#1a1a1a" stroke-width="1.33" stroke-linejoin="round" stroke-linecap="butt"/>
<path transform="translate(291.3,127.4) scale(1.0,1.02)" fill-rule="evenodd" fill="#0a0a0a" stroke="#0a0a0a" stroke-width="0.3" d="M0,0 V-12 H5.6 C8.9,-12 10.4,-10.5 10.4,-8.1 C10.4,-5.7 8.8,-4.1 5.6,-4.1 H3.1 V0 Z M3.1,-9.6 V-6.5 H5.2 C6.7,-6.5 7.3,-7.1 7.3,-8.1 C7.3,-9.1 6.7,-9.6 5.2,-9.6 Z"/>
</svg></body></html>
